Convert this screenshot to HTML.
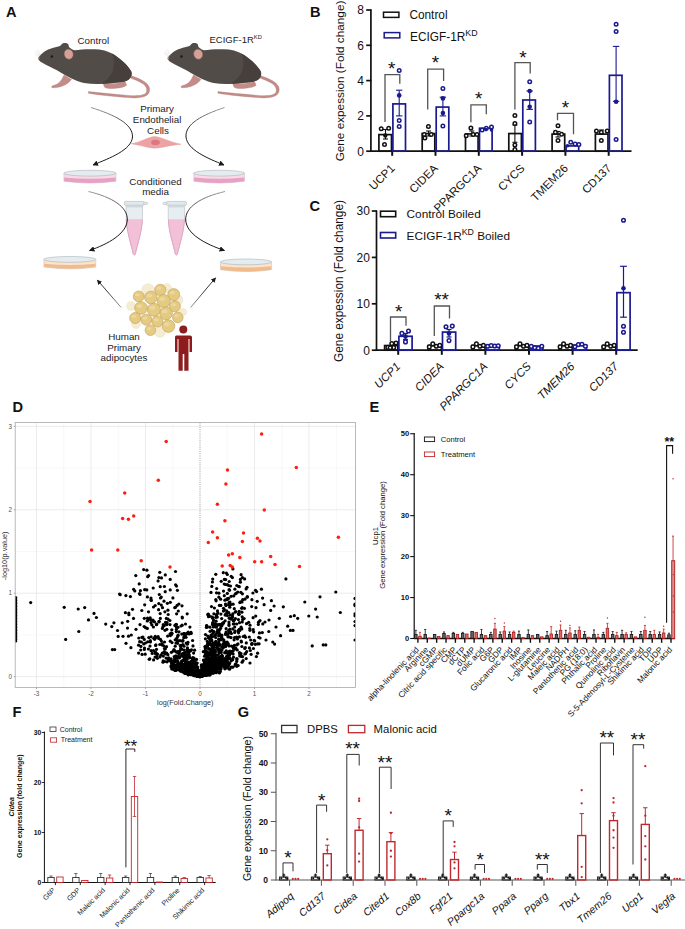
<!DOCTYPE html>
<html><head><meta charset="utf-8"><style>
html,body{margin:0;padding:0;background:#fff;}
body{width:685px;height:929px;overflow:hidden;}
svg{display:block;font-family:"Liberation Sans",sans-serif;}
</style></head><body>
<svg width="685" height="929" viewBox="0 0 685 929">
<rect width="685" height="929" fill="#fff"/>
<text x="6.00" y="16.90" font-size="14.6" text-anchor="start" font-weight="bold" fill="#111">A</text>
<defs>
<g id="mouse">
<path d="M88.4,93.2 C100,95.3 115,96.5 128,97.6 C140,98.6 147.5,97 149.3,92 C150.8,87.5 148,83.5 142.5,80.5 C139,78.5 135,77 131,75.5 L130.5,78 C134.5,79.5 139,81.2 142.5,83.5 C146.5,86.2 147.3,89.2 146.5,92 C145.2,95.3 139,96.2 128,95.4 C115,94.3 101,93 88.4,91.6 Z" fill="#c38c88" stroke="#a97470" stroke-width="0.35"/>
<path d="M64,75 L71.5,79.5 C69.5,82 66.5,84.5 62.5,86 C58.5,87.5 54.5,88.2 51.7,87.4 C51,86.5 52.3,85.6 55,85 C58.5,84 61.5,81 64,75 Z" fill="#c38c88" stroke="#a97470" stroke-width="0.35"/>
<path d="M103,82.5 C110,84 118,84 125,81.2 L126.6,85.2 C124,87.4 118,88.4 111,88.5 C108,88.5 106,88.1 104.6,87.2 C104,86 103.5,84.5 103,82.5 Z" fill="#c38c88" stroke="#a97470" stroke-width="0.35"/>
<path d="M38.2,58.4 C39,56 43,52 48.2,49.6 C51,48.3 55,47.2 60,46 L61.5,44.5 C63,42.8 66.5,42.6 68.3,44.3 L69,47 C71,48.8 73,50 75,50.3 C80,49.5 90,48.8 99.3,49.6 C106,50.3 114,54 119.4,58.7 C124,62 128.5,66.5 131.3,71.5 C132.2,74 131.5,77.5 128.5,79.7 C126,81.2 123,81.8 120,82.3 C113,83 105,83.9 99.3,83.9 C94,84 89,83.8 84,83 C80,82.3 76,80.5 72,78.8 C68,77 62,73.5 57.4,70.6 C53,68 47,65.3 41.9,62.4 C40,61.3 38.5,60 38.2,58.4 Z" fill="#514c47"/>
<path d="M112,53.5 C119,57.5 127,64 131.3,71.5 C132.2,74 131.5,77.5 128.5,79.7 C126,81.2 123,81.8 120,82.3 C113,83 106,83.6 101,83.8 C107,80 112.5,75 113.5,68 C114.3,62 113.8,57.5 112,53.5 Z" fill="#463f3b"/>
<ellipse cx="68.7" cy="54.2" rx="4.5" ry="5.1" fill="#d4a097" stroke="#8a5f58" stroke-width="0.5" transform="rotate(-15 68.7 54.2)"/>
<circle cx="51.9" cy="56.4" r="1.25" fill="#1a1a1a"/>
<circle cx="38.7" cy="58.5" r="0.9" fill="#c48a85"/>
<path d="M39.5,56.5 L35.5,50.5 M40.3,56 L38,49.5 M39.2,57.5 L34.5,53" stroke="#c8c8c8" stroke-width="0.4"/>
</g>
<linearGradient id="tg" x1="0" y1="0" x2="0" y2="1"><stop offset="0" stop-color="#9a9a9a"/><stop offset="0.45" stop-color="#1a1a1a"/><stop offset="1" stop-color="#1a1a1a"/></linearGradient>
<linearGradient id="tgu" x1="0" y1="1" x2="0" y2="0"><stop offset="0" stop-color="#8a8a8a"/><stop offset="0.6" stop-color="#222"/><stop offset="1" stop-color="#1a1a1a"/></linearGradient>
<marker id="ah" viewBox="0 0 10 10" refX="9" refY="5" markerWidth="5.5" markerHeight="5.5" orient="auto-start-reverse"><path d="M0,0 L10,5 L0,10 Z" fill="#1a1a1a"/></marker>
</defs>
<use href="#mouse"/>
<use href="#mouse" transform="translate(129.5,0)"/>
<text x="93.30" y="43.50" font-size="9.8" text-anchor="middle" fill="#222">Control</text>
<text x="209.5" y="42.5" font-size="9.5" fill="#222">ECIGF-1R<tspan font-size="5.8" dy="-4">KD</tspan></text>
<text x="157.10" y="111.80" font-size="9.8" text-anchor="middle" fill="#222">Primary</text>
<text x="157.10" y="122.80" font-size="9.8" text-anchor="middle" fill="#222">Endothelial</text>
<text x="158.00" y="133.60" font-size="9.8" text-anchor="middle" fill="#222">Cells</text>
<path d="M131.2,143.8 C140,142.5 148,137 154.5,136.4 C161,137 168,141.5 181,144.2 C168,145.5 161,148 154.5,148.2 C148,148 140,145 131.2,143.8 Z" fill="#eda3a3" stroke="#e08c8c" stroke-width="0.4"/>
<ellipse cx="155.5" cy="142.4" rx="4.3" ry="2.6" fill="#dc7880"/>
<path d="M91,107.5 C115,115 133,124 132.5,137 C131.5,150 110,158 93,165" fill="none" stroke="url(#tg)" stroke-width="1.0" marker-end="url(#ah)"/>
<path d="M224.5,107.5 C202,115 185,124 186,137 C187.5,150 207,158 224,165" fill="none" stroke="url(#tg)" stroke-width="1.0" marker-end="url(#ah)"/>
<path d="M63.9,173.10000000000002 L63.9,181.20000000000002 Q89.95,185.0 116,181.20000000000002 L116,173.10000000000002 Z" fill="#f8dbe7" stroke="#b8c0c4" stroke-width="0.5"/>
<path d="M64.2,177.60000000000002 Q89.95,180.10000000000002 115.7,177.60000000000002 L115.7,181.20000000000002 Q89.95,184.8 64.2,181.20000000000002 Z" fill="#e8a0c3"/>
<ellipse cx="89.95" cy="173.20000000000002" rx="26.05" ry="2.9" fill="#e4ecf0" stroke="#a9b3b8" stroke-width="0.6"/>
<path d="M193.8,173.10000000000002 L193.8,181.20000000000002 Q219.15,185.0 244.5,181.20000000000002 L244.5,173.10000000000002 Z" fill="#f8dbe7" stroke="#b8c0c4" stroke-width="0.5"/>
<path d="M194.10000000000002,177.60000000000002 Q219.15,180.10000000000002 244.2,177.60000000000002 L244.2,181.20000000000002 Q219.15,184.8 194.10000000000002,181.20000000000002 Z" fill="#e8a0c3"/>
<ellipse cx="219.15" cy="173.20000000000002" rx="25.349999999999994" ry="2.9" fill="#e4ecf0" stroke="#a9b3b8" stroke-width="0.6"/>
<text x="155.50" y="184.60" font-size="9.8" text-anchor="middle" fill="#222">Conditioned</text>
<text x="155.50" y="195.20" font-size="9.8" text-anchor="middle" fill="#222">media</text>
<path d="M126.10000000000001,205 L126.10000000000001,218 C126.30000000000001,230 131.3,245 133.4,254.6 Q134.3,256.4 135.20000000000002,254.6 C137.3,245 142.3,230 142.5,218 L142.5,205 Z" fill="#e6eef1" stroke="#aab3b8" stroke-width="0.5"/>
<path d="M126.30000000000001,219.2 L142.3,219.2 C142.20000000000002,230 137.3,245 135.20000000000002,254.4 Q134.3,256 133.4,254.4 C131.3,245 126.4,230 126.30000000000001,219.2 Z" fill="#f2c0d7"/>
<path d="M126.30000000000001,219.5 C126.4,230 131.3,245 133.4,254.4" fill="none" stroke="#e59fc0" stroke-width="0.9"/>
<path d="M142.3,219.5 C142.20000000000002,230 137.3,245 135.20000000000002,254.4" fill="none" stroke="#e59fc0" stroke-width="0.9"/>
<rect x="124.4" y="201.4" width="19.8" height="3.8" rx="0.8" fill="#e2e9ec" stroke="#a4aeb3" stroke-width="0.5"/>
<rect x="143.8" y="202.2" width="4" height="2.2" rx="1" fill="#e2e9ec" stroke="#a4aeb3" stroke-width="0.4"/>
<rect x="126.50000000000001" y="205.3" width="15.6" height="2.2" fill="#cfd9dd"/>
<path d="M168.20000000000002,205 L168.20000000000002,218 C168.4,230 173.4,245 175.5,254.6 Q176.4,256.4 177.3,254.6 C179.4,245 184.4,230 184.6,218 L184.6,205 Z" fill="#e6eef1" stroke="#aab3b8" stroke-width="0.5"/>
<path d="M168.4,219.2 L184.4,219.2 C184.3,230 179.4,245 177.3,254.4 Q176.4,256 175.5,254.4 C173.4,245 168.5,230 168.4,219.2 Z" fill="#f2c0d7"/>
<path d="M168.4,219.5 C168.5,230 173.4,245 175.5,254.4" fill="none" stroke="#e59fc0" stroke-width="0.9"/>
<path d="M184.4,219.5 C184.3,230 179.4,245 177.3,254.4" fill="none" stroke="#e59fc0" stroke-width="0.9"/>
<rect x="166.5" y="201.4" width="19.8" height="3.8" rx="0.8" fill="#e2e9ec" stroke="#a4aeb3" stroke-width="0.5"/>
<rect x="162.9" y="202.2" width="4" height="2.2" rx="1" fill="#e2e9ec" stroke="#a4aeb3" stroke-width="0.4"/>
<rect x="168.6" y="205.3" width="15.6" height="2.2" fill="#cfd9dd"/>
<path d="M88.5,191.5 C112,197 128,207 127.3,220 C126.5,234 108,244 89.5,250.5" fill="none" stroke="url(#tg)" stroke-width="1.0" marker-end="url(#ah)"/>
<path d="M225,191.5 C201,197 185,207 185.7,220 C186.5,234 205,244 224.5,250.5" fill="none" stroke="url(#tg)" stroke-width="1.0" marker-end="url(#ah)"/>
<path d="M43.9,259.3 L43.9,267.0 Q69.85,270.8 95.8,267.0 L95.8,259.3 Z" fill="#fbe3cc" stroke="#b8c0c4" stroke-width="0.5"/>
<path d="M44.199999999999996,263.8 Q69.85,266.3 95.5,263.8 L95.5,267.0 Q69.85,270.59999999999997 44.199999999999996,267.0 Z" fill="#f0bc8d"/>
<ellipse cx="69.85" cy="259.4" rx="25.95" ry="2.9" fill="#e4ecf0" stroke="#a9b3b8" stroke-width="0.6"/>
<path d="M220.5,261.8 L220.5,269.7 Q246.05,273.5 271.6,269.7 L271.6,261.8 Z" fill="#fbe3cc" stroke="#b8c0c4" stroke-width="0.5"/>
<path d="M220.8,266.3 Q246.05,268.8 271.3,266.3 L271.3,269.7 Q246.05,273.29999999999995 220.8,269.7 Z" fill="#f0bc8d"/>
<ellipse cx="246.05" cy="261.9" rx="25.55000000000001" ry="2.9" fill="#e4ecf0" stroke="#a9b3b8" stroke-width="0.6"/>
<path d="M121.2,307.5 L97.3,280" fill="none" stroke="url(#tgu)" stroke-width="0.9" marker-end="url(#ah)"/>
<path d="M190.6,307.5 L215.6,277.8" fill="none" stroke="url(#tgu)" stroke-width="0.9" marker-end="url(#ah)"/>
<circle cx="148" cy="290" r="6.30" fill="#f5edd3" stroke="#eadcb5" stroke-width="0.4"/>
<circle cx="160" cy="332" r="5.40" fill="#f5edd3" stroke="#eadcb5" stroke-width="0.4"/>
<circle cx="178" cy="300" r="4.95" fill="#f5edd3" stroke="#eadcb5" stroke-width="0.4"/>
<circle cx="136" cy="324" r="4.50" fill="#f5edd3" stroke="#eadcb5" stroke-width="0.4"/>
<circle cx="131" cy="306" r="4.50" fill="#f5edd3" stroke="#eadcb5" stroke-width="0.4"/>
<circle cx="167" cy="288" r="4.50" fill="#f5edd3" stroke="#eadcb5" stroke-width="0.4"/>
<circle cx="183" cy="312" r="3.60" fill="#f5edd3" stroke="#eadcb5" stroke-width="0.4"/>
<circle cx="138.7" cy="296.4" r="5.42" fill="#e5ca82" stroke="#bf9f57" stroke-width="0.6"/>
<ellipse cx="137.34" cy="294.77" rx="2.44" ry="1.63" fill="#edd9a2" opacity="0.8"/>
<circle cx="150.9" cy="297.5" r="6.33" fill="#e5ca82" stroke="#bf9f57" stroke-width="0.6"/>
<ellipse cx="149.32" cy="295.60" rx="2.85" ry="1.90" fill="#edd9a2" opacity="0.8"/>
<circle cx="160.3" cy="289.9" r="5.65" fill="#e5ca82" stroke="#bf9f57" stroke-width="0.6"/>
<ellipse cx="158.89" cy="288.20" rx="2.54" ry="1.69" fill="#edd9a2" opacity="0.8"/>
<circle cx="173.7" cy="294.6" r="5.99" fill="#e5ca82" stroke="#bf9f57" stroke-width="0.6"/>
<ellipse cx="172.20" cy="292.80" rx="2.70" ry="1.80" fill="#edd9a2" opacity="0.8"/>
<circle cx="163.8" cy="301" r="6.55" fill="#e5ca82" stroke="#bf9f57" stroke-width="0.6"/>
<ellipse cx="162.16" cy="299.03" rx="2.95" ry="1.97" fill="#edd9a2" opacity="0.8"/>
<circle cx="141" cy="308" r="6.33" fill="#e5ca82" stroke="#bf9f57" stroke-width="0.6"/>
<ellipse cx="139.42" cy="306.10" rx="2.85" ry="1.90" fill="#edd9a2" opacity="0.8"/>
<circle cx="153.9" cy="309.8" r="6.55" fill="#e5ca82" stroke="#bf9f57" stroke-width="0.6"/>
<ellipse cx="152.26" cy="307.83" rx="2.95" ry="1.97" fill="#edd9a2" opacity="0.8"/>
<circle cx="166.1" cy="313.3" r="6.33" fill="#e5ca82" stroke="#bf9f57" stroke-width="0.6"/>
<ellipse cx="164.52" cy="311.40" rx="2.85" ry="1.90" fill="#edd9a2" opacity="0.8"/>
<circle cx="174.9" cy="306.3" r="5.54" fill="#e5ca82" stroke="#bf9f57" stroke-width="0.6"/>
<ellipse cx="173.52" cy="304.64" rx="2.49" ry="1.66" fill="#edd9a2" opacity="0.8"/>
<circle cx="135.2" cy="318" r="5.54" fill="#e5ca82" stroke="#bf9f57" stroke-width="0.6"/>
<ellipse cx="133.82" cy="316.34" rx="2.49" ry="1.66" fill="#edd9a2" opacity="0.8"/>
<circle cx="146.3" cy="319.7" r="5.54" fill="#e5ca82" stroke="#bf9f57" stroke-width="0.6"/>
<ellipse cx="144.92" cy="318.04" rx="2.49" ry="1.66" fill="#edd9a2" opacity="0.8"/>
<circle cx="157.4" cy="321.5" r="5.54" fill="#e5ca82" stroke="#bf9f57" stroke-width="0.6"/>
<ellipse cx="156.02" cy="319.84" rx="2.49" ry="1.66" fill="#edd9a2" opacity="0.8"/>
<circle cx="168.5" cy="326.1" r="6.33" fill="#e5ca82" stroke="#bf9f57" stroke-width="0.6"/>
<ellipse cx="166.92" cy="324.20" rx="2.85" ry="1.90" fill="#edd9a2" opacity="0.8"/>
<circle cx="177.8" cy="317.4" r="5.31" fill="#e5ca82" stroke="#bf9f57" stroke-width="0.6"/>
<ellipse cx="176.47" cy="315.81" rx="2.39" ry="1.59" fill="#edd9a2" opacity="0.8"/>
<circle cx="150.4" cy="330.2" r="5.31" fill="#e5ca82" stroke="#bf9f57" stroke-width="0.6"/>
<ellipse cx="149.07" cy="328.61" rx="2.39" ry="1.59" fill="#edd9a2" opacity="0.8"/>
<g fill="#8e1c1c"><circle cx="183.3" cy="329.6" r="4"/><path d="M176.5,335.5 L190,335.5 C191.3,335.5 192,336.3 192,337.6 L192,352 L189.5,352 L189.5,339 L188.5,339 L188.5,370.8 L184.3,370.8 L184.3,354 L182.7,354 L182.7,370.8 L178.5,370.8 L178.5,339 L177.5,339 L177.5,352 L175,352 L175,337.6 C175,336.3 175.5,335.5 176.5,335.5 Z"/></g>
<text x="124.00" y="339.50" font-size="9.8" text-anchor="middle" fill="#222">Human</text>
<text x="124.00" y="350.50" font-size="9.8" text-anchor="middle" fill="#222">Primary</text>
<text x="124.00" y="361.30" font-size="9.8" text-anchor="middle" fill="#222">adipocytes</text>
<text x="309.90" y="16.90" font-size="14.6" text-anchor="start" font-weight="bold" fill="#111">B</text>
<line x1="370.90" y1="151.90" x2="370.90" y2="9.50" stroke="#111" stroke-width="1.7"/>
<line x1="366.20" y1="151.20" x2="371.40" y2="151.20" stroke="#111" stroke-width="1.7"/>
<text x="364.00" y="155.52" font-size="12.0" text-anchor="end" fill="#111">0</text>
<line x1="366.20" y1="115.90" x2="371.40" y2="115.90" stroke="#111" stroke-width="1.7"/>
<text x="364.00" y="120.22" font-size="12.0" text-anchor="end" fill="#111">2</text>
<line x1="366.20" y1="80.60" x2="371.40" y2="80.60" stroke="#111" stroke-width="1.7"/>
<text x="364.00" y="84.92" font-size="12.0" text-anchor="end" fill="#111">4</text>
<line x1="366.20" y1="45.30" x2="371.40" y2="45.30" stroke="#111" stroke-width="1.7"/>
<text x="364.00" y="49.62" font-size="12.0" text-anchor="end" fill="#111">6</text>
<line x1="366.20" y1="10.00" x2="371.40" y2="10.00" stroke="#111" stroke-width="1.7"/>
<text x="364.00" y="14.32" font-size="12.0" text-anchor="end" fill="#111">8</text>
<line x1="370.10" y1="151.20" x2="631.50" y2="151.20" stroke="#111" stroke-width="1.8"/>
<line x1="392.20" y1="151.20" x2="392.20" y2="155.80" stroke="#111" stroke-width="2.0"/>
<rect x="378.90" y="134.61" width="12.60" height="16.59" fill="none" stroke="#111" stroke-width="1.7"/>
<rect x="392.90" y="103.90" width="12.60" height="47.30" fill="none" stroke="#1a1a8f" stroke-width="1.7"/>
<text x="395.50" y="169.00" font-size="11.5" text-anchor="end" fill="#111" transform="rotate(-45 395.50 169.00)">UCP1</text>
<line x1="435.50" y1="151.20" x2="435.50" y2="155.80" stroke="#111" stroke-width="2.0"/>
<rect x="422.20" y="133.55" width="12.60" height="17.65" fill="none" stroke="#111" stroke-width="1.7"/>
<rect x="436.20" y="107.07" width="12.60" height="44.12" fill="none" stroke="#1a1a8f" stroke-width="1.7"/>
<text x="438.80" y="169.00" font-size="11.5" text-anchor="end" fill="#111" transform="rotate(-45 438.80 169.00)">CIDEA</text>
<line x1="478.80" y1="151.20" x2="478.80" y2="155.80" stroke="#111" stroke-width="2.0"/>
<rect x="465.50" y="133.90" width="12.60" height="17.30" fill="none" stroke="#111" stroke-width="1.7"/>
<rect x="479.50" y="128.25" width="12.60" height="22.95" fill="none" stroke="#1a1a8f" stroke-width="1.7"/>
<text x="482.10" y="169.00" font-size="11.5" text-anchor="end" fill="#111" transform="rotate(-45 482.10 169.00)">PPARGC1A</text>
<line x1="522.10" y1="151.20" x2="522.10" y2="155.80" stroke="#111" stroke-width="2.0"/>
<rect x="508.80" y="133.55" width="12.60" height="17.65" fill="none" stroke="#111" stroke-width="1.7"/>
<rect x="522.80" y="100.01" width="12.60" height="51.18" fill="none" stroke="#1a1a8f" stroke-width="1.7"/>
<text x="525.40" y="169.00" font-size="11.5" text-anchor="end" fill="#111" transform="rotate(-45 525.40 169.00)">CYCS</text>
<line x1="565.40" y1="151.20" x2="565.40" y2="155.80" stroke="#111" stroke-width="2.0"/>
<rect x="552.10" y="134.08" width="12.60" height="17.12" fill="none" stroke="#111" stroke-width="1.7"/>
<rect x="566.10" y="145.91" width="12.60" height="5.29" fill="none" stroke="#1a1a8f" stroke-width="1.7"/>
<text x="568.70" y="169.00" font-size="11.5" text-anchor="end" fill="#111" transform="rotate(-45 568.70 169.00)">TMEM26</text>
<line x1="608.70" y1="151.20" x2="608.70" y2="155.80" stroke="#111" stroke-width="2.0"/>
<rect x="595.40" y="134.08" width="12.60" height="17.12" fill="none" stroke="#111" stroke-width="1.7"/>
<rect x="609.40" y="75.30" width="12.60" height="75.89" fill="none" stroke="#1a1a8f" stroke-width="1.7"/>
<text x="612.00" y="169.00" font-size="11.5" text-anchor="end" fill="#111" transform="rotate(-45 612.00 169.00)">CD137</text>
<line x1="385.50" y1="139.00" x2="385.50" y2="129.50" stroke="#111" stroke-width="1.1"/>
<line x1="383.00" y1="129.50" x2="388.00" y2="129.50" stroke="#111" stroke-width="1.1"/>
<line x1="383.00" y1="139.00" x2="388.00" y2="139.00" stroke="#111" stroke-width="1.1"/>
<circle cx="381.20" cy="128.80" r="1.75" fill="white" stroke="#111" stroke-width="1.5"/>
<circle cx="388.70" cy="128.30" r="1.75" fill="white" stroke="#111" stroke-width="1.5"/>
<circle cx="384.50" cy="144.60" r="1.75" fill="white" stroke="#111" stroke-width="1.5"/>
<circle cx="385.30" cy="135.50" r="2.2" fill="#111" stroke="none" stroke-width="1"/>
<line x1="399.20" y1="115.90" x2="399.20" y2="90.20" stroke="#1a1a8f" stroke-width="1.1"/>
<line x1="396.00" y1="90.20" x2="402.40" y2="90.20" stroke="#1a1a8f" stroke-width="1.1"/>
<line x1="396.00" y1="115.90" x2="402.40" y2="115.90" stroke="#1a1a8f" stroke-width="1.1"/>
<circle cx="399.20" cy="70.40" r="1.75" fill="white" stroke="#1a1a8f" stroke-width="1.5"/>
<circle cx="399.20" cy="120.60" r="1.75" fill="white" stroke="#1a1a8f" stroke-width="1.5"/>
<circle cx="399.20" cy="126.40" r="1.75" fill="white" stroke="#1a1a8f" stroke-width="1.5"/>
<circle cx="399.20" cy="95.40" r="2.3" fill="#1a1a8f" stroke="none" stroke-width="1"/>
<line x1="428.60" y1="136.00" x2="428.60" y2="131.00" stroke="#111" stroke-width="1.1"/>
<line x1="426.10" y1="131.00" x2="431.10" y2="131.00" stroke="#111" stroke-width="1.1"/>
<line x1="426.10" y1="136.00" x2="431.10" y2="136.00" stroke="#111" stroke-width="1.1"/>
<circle cx="428.40" cy="126.40" r="1.75" fill="white" stroke="#111" stroke-width="1.5"/>
<circle cx="424.20" cy="134.60" r="1.75" fill="white" stroke="#111" stroke-width="1.5"/>
<circle cx="431.20" cy="134.60" r="1.75" fill="white" stroke="#111" stroke-width="1.5"/>
<circle cx="424.90" cy="138.10" r="1.75" fill="white" stroke="#111" stroke-width="1.5"/>
<line x1="442.90" y1="115.90" x2="442.90" y2="97.20" stroke="#1a1a8f" stroke-width="1.1"/>
<line x1="439.70" y1="97.20" x2="446.10" y2="97.20" stroke="#1a1a8f" stroke-width="1.1"/>
<line x1="439.70" y1="115.90" x2="446.10" y2="115.90" stroke="#1a1a8f" stroke-width="1.1"/>
<circle cx="442.90" cy="88.40" r="1.75" fill="white" stroke="#1a1a8f" stroke-width="1.5"/>
<circle cx="442.90" cy="126.00" r="1.75" fill="white" stroke="#1a1a8f" stroke-width="1.5"/>
<circle cx="442.90" cy="98.40" r="2.3" fill="#1a1a8f" stroke="none" stroke-width="1"/>
<circle cx="442.90" cy="113.10" r="2.3" fill="#1a1a8f" stroke="none" stroke-width="1"/>
<line x1="471.80" y1="136.00" x2="471.80" y2="131.00" stroke="#111" stroke-width="1.1"/>
<line x1="469.30" y1="131.00" x2="474.30" y2="131.00" stroke="#111" stroke-width="1.1"/>
<line x1="469.30" y1="136.00" x2="474.30" y2="136.00" stroke="#111" stroke-width="1.1"/>
<circle cx="470.90" cy="128.00" r="1.75" fill="white" stroke="#111" stroke-width="1.5"/>
<circle cx="466.20" cy="135.80" r="1.75" fill="white" stroke="#111" stroke-width="1.5"/>
<circle cx="473.20" cy="134.60" r="1.75" fill="white" stroke="#111" stroke-width="1.5"/>
<circle cx="477.00" cy="134.60" r="1.75" fill="white" stroke="#111" stroke-width="1.5"/>
<circle cx="482.10" cy="129.90" r="1.75" fill="white" stroke="#1a1a8f" stroke-width="1.5"/>
<circle cx="486.30" cy="128.30" r="1.75" fill="white" stroke="#1a1a8f" stroke-width="1.5"/>
<circle cx="491.50" cy="126.90" r="1.75" fill="white" stroke="#1a1a8f" stroke-width="1.5"/>
<circle cx="486.00" cy="129.60" r="1.8" fill="#1a1a8f" stroke="none" stroke-width="1"/>
<circle cx="491.50" cy="129.90" r="1.8" fill="#1a1a8f" stroke="none" stroke-width="1"/>
<line x1="514.90" y1="142.30" x2="514.90" y2="125.00" stroke="#111" stroke-width="1.1"/>
<line x1="512.40" y1="125.00" x2="517.40" y2="125.00" stroke="#111" stroke-width="1.1"/>
<line x1="512.40" y1="142.30" x2="517.40" y2="142.30" stroke="#111" stroke-width="1.1"/>
<circle cx="514.90" cy="115.60" r="1.75" fill="white" stroke="#111" stroke-width="1.5"/>
<circle cx="514.90" cy="123.40" r="1.75" fill="white" stroke="#111" stroke-width="1.5"/>
<circle cx="514.90" cy="145.00" r="1.75" fill="white" stroke="#111" stroke-width="1.5"/>
<circle cx="514.90" cy="149.50" r="1.75" fill="white" stroke="#111" stroke-width="1.5"/>
<line x1="529.70" y1="109.40" x2="529.70" y2="91.00" stroke="#1a1a8f" stroke-width="1.1"/>
<line x1="526.50" y1="91.00" x2="532.90" y2="91.00" stroke="#1a1a8f" stroke-width="1.1"/>
<line x1="526.50" y1="109.40" x2="532.90" y2="109.40" stroke="#1a1a8f" stroke-width="1.1"/>
<circle cx="529.70" cy="81.80" r="1.75" fill="white" stroke="#1a1a8f" stroke-width="1.5"/>
<circle cx="529.70" cy="122.00" r="1.75" fill="white" stroke="#1a1a8f" stroke-width="1.5"/>
<circle cx="529.70" cy="91.00" r="2.3" fill="#1a1a8f" stroke="none" stroke-width="1"/>
<circle cx="529.70" cy="106.70" r="2.3" fill="#1a1a8f" stroke="none" stroke-width="1"/>
<line x1="558.00" y1="137.00" x2="558.00" y2="131.50" stroke="#111" stroke-width="1.1"/>
<line x1="555.50" y1="131.50" x2="560.50" y2="131.50" stroke="#111" stroke-width="1.1"/>
<line x1="555.50" y1="137.00" x2="560.50" y2="137.00" stroke="#111" stroke-width="1.1"/>
<circle cx="558.00" cy="125.80" r="1.75" fill="white" stroke="#111" stroke-width="1.5"/>
<circle cx="555.40" cy="132.30" r="1.75" fill="white" stroke="#111" stroke-width="1.5"/>
<circle cx="561.60" cy="134.20" r="1.75" fill="white" stroke="#111" stroke-width="1.5"/>
<circle cx="558.00" cy="140.40" r="1.75" fill="white" stroke="#111" stroke-width="1.5"/>
<circle cx="570.80" cy="142.30" r="1.75" fill="white" stroke="#1a1a8f" stroke-width="1.5"/>
<circle cx="575.10" cy="143.90" r="1.75" fill="white" stroke="#1a1a8f" stroke-width="1.5"/>
<circle cx="578.90" cy="144.50" r="1.75" fill="white" stroke="#1a1a8f" stroke-width="1.5"/>
<circle cx="567.50" cy="145.80" r="1.8" fill="#1a1a8f" stroke="none" stroke-width="1"/>
<line x1="601.50" y1="134.00" x2="601.50" y2="130.00" stroke="#111" stroke-width="1.1"/>
<line x1="599.00" y1="130.00" x2="604.00" y2="130.00" stroke="#111" stroke-width="1.1"/>
<line x1="599.00" y1="134.00" x2="604.00" y2="134.00" stroke="#111" stroke-width="1.1"/>
<circle cx="596.40" cy="131.00" r="1.75" fill="white" stroke="#111" stroke-width="1.5"/>
<circle cx="601.30" cy="132.30" r="1.75" fill="white" stroke="#111" stroke-width="1.5"/>
<circle cx="607.20" cy="131.00" r="1.75" fill="white" stroke="#111" stroke-width="1.5"/>
<circle cx="601.30" cy="140.40" r="1.75" fill="white" stroke="#111" stroke-width="1.5"/>
<line x1="616.10" y1="101.30" x2="616.10" y2="46.40" stroke="#1a1a8f" stroke-width="1.1"/>
<line x1="612.90" y1="46.40" x2="619.30" y2="46.40" stroke="#1a1a8f" stroke-width="1.1"/>
<line x1="612.90" y1="101.30" x2="619.30" y2="101.30" stroke="#1a1a8f" stroke-width="1.1"/>
<circle cx="616.10" cy="24.30" r="1.75" fill="white" stroke="#1a1a8f" stroke-width="1.5"/>
<circle cx="616.10" cy="31.60" r="1.75" fill="white" stroke="#1a1a8f" stroke-width="1.5"/>
<circle cx="616.10" cy="139.60" r="1.75" fill="white" stroke="#1a1a8f" stroke-width="1.5"/>
<circle cx="616.10" cy="101.80" r="2.3" fill="#1a1a8f" stroke="none" stroke-width="1"/>
<polyline points="385.00,122.00 385.00,74.60 399.80,74.60 399.80,83.80" fill="none" stroke="#555" stroke-width="1.3"/>
<polyline points="427.70,109.60 427.70,69.20 443.60,69.20 443.60,80.90" fill="none" stroke="#555" stroke-width="1.3"/>
<polyline points="470.90,122.20 470.90,104.90 486.30,104.90 486.30,114.30" fill="none" stroke="#555" stroke-width="1.3"/>
<polyline points="514.90,109.40 514.90,62.70 530.20,62.70 530.20,73.50" fill="none" stroke="#555" stroke-width="1.3"/>
<polyline points="557.50,120.20 557.50,113.40 573.50,113.40 573.50,134.20" fill="none" stroke="#555" stroke-width="1.3"/>
<text x="391.60" y="74.78" font-size="19" text-anchor="middle" fill="#111">*</text>
<text x="435.40" y="69.39" font-size="19" text-anchor="middle" fill="#111">*</text>
<text x="478.60" y="105.19" font-size="19" text-anchor="middle" fill="#111">*</text>
<text x="523.00" y="63.78" font-size="19" text-anchor="middle" fill="#111">*</text>
<text x="565.40" y="113.78" font-size="19" text-anchor="middle" fill="#111">*</text>
<rect x="383.50" y="12.20" width="15.40" height="5.20" fill="none" stroke="#111" stroke-width="1.5"/>
<text x="409.40" y="18.50" font-size="11.85" text-anchor="start" fill="#111">Control</text>
<rect x="384.20" y="32.60" width="15.60" height="5.30" fill="none" stroke="#1a1a8f" stroke-width="1.5"/>
<text x="410" y="41" font-size="11.85" fill="#111">ECIGF-1R<tspan font-size="8.8" dy="-5">KD</tspan></text>
<text x="343.70" y="81.00" font-size="11.75" text-anchor="middle" fill="#111" transform="rotate(-90 343.70 81.00)">Gene expession (Fold change)</text>
<text x="309.60" y="210.70" font-size="14.6" text-anchor="start" font-weight="bold" fill="#111">C</text>
<line x1="376.50" y1="350.90" x2="376.50" y2="210.50" stroke="#111" stroke-width="1.7"/>
<line x1="371.80" y1="350.20" x2="377.00" y2="350.20" stroke="#111" stroke-width="1.7"/>
<text x="369.90" y="354.52" font-size="12.0" text-anchor="end" fill="#111">0</text>
<line x1="371.80" y1="303.80" x2="377.00" y2="303.80" stroke="#111" stroke-width="1.7"/>
<text x="369.90" y="308.12" font-size="12.0" text-anchor="end" fill="#111">10</text>
<line x1="371.80" y1="257.40" x2="377.00" y2="257.40" stroke="#111" stroke-width="1.7"/>
<text x="369.90" y="261.72" font-size="12.0" text-anchor="end" fill="#111">20</text>
<line x1="371.80" y1="211.00" x2="377.00" y2="211.00" stroke="#111" stroke-width="1.7"/>
<text x="369.90" y="215.32" font-size="12.0" text-anchor="end" fill="#111">30</text>
<line x1="375.70" y1="350.20" x2="637.70" y2="350.20" stroke="#111" stroke-width="1.8"/>
<line x1="398.20" y1="350.20" x2="398.20" y2="354.80" stroke="#111" stroke-width="2.0"/>
<rect x="384.60" y="345.56" width="13.20" height="4.64" fill="none" stroke="#111" stroke-width="1.7"/>
<rect x="398.90" y="336.28" width="13.20" height="13.92" fill="none" stroke="#1a1a8f" stroke-width="1.7"/>
<text x="401.00" y="367.10" font-size="11.6" text-anchor="end" font-style="italic" fill="#111" transform="rotate(-45 401.00 367.10)">UCP1</text>
<line x1="441.80" y1="350.20" x2="441.80" y2="354.80" stroke="#111" stroke-width="2.0"/>
<rect x="428.20" y="345.56" width="13.20" height="4.64" fill="none" stroke="#111" stroke-width="1.7"/>
<rect x="442.50" y="332.10" width="13.20" height="18.10" fill="none" stroke="#1a1a8f" stroke-width="1.7"/>
<text x="444.60" y="367.10" font-size="11.6" text-anchor="end" font-style="italic" fill="#111" transform="rotate(-45 444.60 367.10)">CIDEA</text>
<line x1="485.40" y1="350.20" x2="485.40" y2="354.80" stroke="#111" stroke-width="2.0"/>
<rect x="471.80" y="345.56" width="13.20" height="4.64" fill="none" stroke="#111" stroke-width="1.7"/>
<rect x="486.10" y="345.56" width="13.20" height="4.64" fill="none" stroke="#1a1a8f" stroke-width="1.7"/>
<text x="488.20" y="367.10" font-size="11.6" text-anchor="end" font-style="italic" fill="#111" transform="rotate(-45 488.20 367.10)">PPARGC1A</text>
<line x1="529.00" y1="350.20" x2="529.00" y2="354.80" stroke="#111" stroke-width="2.0"/>
<rect x="515.40" y="345.56" width="13.20" height="4.64" fill="none" stroke="#111" stroke-width="1.7"/>
<rect x="529.70" y="346.02" width="13.20" height="4.18" fill="none" stroke="#1a1a8f" stroke-width="1.7"/>
<text x="531.80" y="367.10" font-size="11.6" text-anchor="end" font-style="italic" fill="#111" transform="rotate(-45 531.80 367.10)">CYCS</text>
<line x1="572.60" y1="350.20" x2="572.60" y2="354.80" stroke="#111" stroke-width="2.0"/>
<rect x="559.00" y="345.56" width="13.20" height="4.64" fill="none" stroke="#111" stroke-width="1.7"/>
<rect x="573.30" y="345.10" width="13.20" height="5.10" fill="none" stroke="#1a1a8f" stroke-width="1.7"/>
<text x="575.40" y="367.10" font-size="11.6" text-anchor="end" font-style="italic" fill="#111" transform="rotate(-45 575.40 367.10)">TMEM26</text>
<line x1="616.20" y1="350.20" x2="616.20" y2="354.80" stroke="#111" stroke-width="2.0"/>
<rect x="602.60" y="345.56" width="13.20" height="4.64" fill="none" stroke="#111" stroke-width="1.7"/>
<rect x="616.90" y="292.66" width="13.20" height="57.54" fill="none" stroke="#1a1a8f" stroke-width="1.7"/>
<text x="619.00" y="367.10" font-size="11.6" text-anchor="end" font-style="italic" fill="#111" transform="rotate(-45 619.00 367.10)">CD137</text>
<circle cx="387.90" cy="347.40" r="1.8" fill="white" stroke="#111" stroke-width="1.5"/>
<circle cx="391.80" cy="343.60" r="1.8" fill="white" stroke="#111" stroke-width="1.5"/>
<circle cx="396.00" cy="343.00" r="1.8" fill="white" stroke="#111" stroke-width="1.5"/>
<circle cx="393.70" cy="347.60" r="1.8" fill="white" stroke="#111" stroke-width="1.5"/>
<circle cx="390.20" cy="347.80" r="1.8" fill="white" stroke="#111" stroke-width="1.5"/>
<circle cx="429.30" cy="346.90" r="1.8" fill="white" stroke="#111" stroke-width="1.5"/>
<circle cx="432.80" cy="343.90" r="1.8" fill="white" stroke="#111" stroke-width="1.5"/>
<circle cx="436.30" cy="346.20" r="1.8" fill="white" stroke="#111" stroke-width="1.5"/>
<circle cx="439.80" cy="345.40" r="1.8" fill="white" stroke="#111" stroke-width="1.5"/>
<circle cx="472.90" cy="346.90" r="1.8" fill="white" stroke="#111" stroke-width="1.5"/>
<circle cx="476.40" cy="343.90" r="1.8" fill="white" stroke="#111" stroke-width="1.5"/>
<circle cx="479.90" cy="346.20" r="1.8" fill="white" stroke="#111" stroke-width="1.5"/>
<circle cx="483.40" cy="345.40" r="1.8" fill="white" stroke="#111" stroke-width="1.5"/>
<circle cx="516.50" cy="346.90" r="1.8" fill="white" stroke="#111" stroke-width="1.5"/>
<circle cx="520.00" cy="343.90" r="1.8" fill="white" stroke="#111" stroke-width="1.5"/>
<circle cx="523.50" cy="346.20" r="1.8" fill="white" stroke="#111" stroke-width="1.5"/>
<circle cx="527.00" cy="345.40" r="1.8" fill="white" stroke="#111" stroke-width="1.5"/>
<circle cx="560.10" cy="346.90" r="1.8" fill="white" stroke="#111" stroke-width="1.5"/>
<circle cx="563.60" cy="343.90" r="1.8" fill="white" stroke="#111" stroke-width="1.5"/>
<circle cx="567.10" cy="346.20" r="1.8" fill="white" stroke="#111" stroke-width="1.5"/>
<circle cx="570.60" cy="345.40" r="1.8" fill="white" stroke="#111" stroke-width="1.5"/>
<circle cx="603.70" cy="346.90" r="1.8" fill="white" stroke="#111" stroke-width="1.5"/>
<circle cx="607.20" cy="343.90" r="1.8" fill="white" stroke="#111" stroke-width="1.5"/>
<circle cx="610.70" cy="346.20" r="1.8" fill="white" stroke="#111" stroke-width="1.5"/>
<circle cx="614.20" cy="345.40" r="1.8" fill="white" stroke="#111" stroke-width="1.5"/>
<circle cx="401.90" cy="333.40" r="1.8" fill="white" stroke="#1a1a8f" stroke-width="1.5"/>
<circle cx="408.50" cy="331.00" r="1.8" fill="white" stroke="#1a1a8f" stroke-width="1.5"/>
<circle cx="405.50" cy="341.90" r="1.8" fill="white" stroke="#1a1a8f" stroke-width="1.5"/>
<circle cx="405.50" cy="336.60" r="2.3" fill="#1a1a8f" stroke="none" stroke-width="1"/>
<line x1="405.50" y1="333.50" x2="405.50" y2="339.50" stroke="#1a1a8f" stroke-width="1.2"/>
<line x1="403.00" y1="333.50" x2="408.00" y2="333.50" stroke="#1a1a8f" stroke-width="1.2"/>
<line x1="403.00" y1="339.50" x2="408.00" y2="339.50" stroke="#1a1a8f" stroke-width="1.2"/>
<circle cx="446.00" cy="326.80" r="1.8" fill="white" stroke="#1a1a8f" stroke-width="1.5"/>
<circle cx="452.30" cy="326.10" r="1.8" fill="white" stroke="#1a1a8f" stroke-width="1.5"/>
<circle cx="449.00" cy="340.60" r="1.8" fill="white" stroke="#1a1a8f" stroke-width="1.5"/>
<circle cx="449.00" cy="333.40" r="2.3" fill="#1a1a8f" stroke="none" stroke-width="1"/>
<line x1="449.00" y1="329.50" x2="449.00" y2="337.00" stroke="#1a1a8f" stroke-width="1.2"/>
<line x1="446.50" y1="329.50" x2="451.50" y2="329.50" stroke="#1a1a8f" stroke-width="1.2"/>
<line x1="446.50" y1="337.00" x2="451.50" y2="337.00" stroke="#1a1a8f" stroke-width="1.2"/>
<circle cx="487.70" cy="346.20" r="1.8" fill="white" stroke="#1a1a8f" stroke-width="1.5"/>
<circle cx="491.20" cy="345.60" r="1.8" fill="white" stroke="#1a1a8f" stroke-width="1.5"/>
<circle cx="494.70" cy="346.00" r="1.8" fill="white" stroke="#1a1a8f" stroke-width="1.5"/>
<circle cx="498.20" cy="345.80" r="1.8" fill="white" stroke="#1a1a8f" stroke-width="1.5"/>
<circle cx="531.30" cy="346.40" r="1.8" fill="white" stroke="#1a1a8f" stroke-width="1.5"/>
<circle cx="534.80" cy="347.80" r="1.8" fill="white" stroke="#1a1a8f" stroke-width="1.5"/>
<circle cx="538.30" cy="348.20" r="1.8" fill="white" stroke="#1a1a8f" stroke-width="1.5"/>
<circle cx="541.80" cy="346.20" r="1.8" fill="white" stroke="#1a1a8f" stroke-width="1.5"/>
<circle cx="574.90" cy="346.80" r="1.8" fill="white" stroke="#1a1a8f" stroke-width="1.5"/>
<circle cx="578.40" cy="344.60" r="1.8" fill="white" stroke="#1a1a8f" stroke-width="1.5"/>
<circle cx="581.90" cy="344.20" r="1.8" fill="white" stroke="#1a1a8f" stroke-width="1.5"/>
<circle cx="585.40" cy="346.20" r="1.8" fill="white" stroke="#1a1a8f" stroke-width="1.5"/>
<circle cx="623.50" cy="220.20" r="1.8" fill="white" stroke="#1a1a8f" stroke-width="1.5"/>
<circle cx="623.50" cy="326.20" r="1.8" fill="white" stroke="#1a1a8f" stroke-width="1.5"/>
<circle cx="623.50" cy="332.20" r="1.8" fill="white" stroke="#1a1a8f" stroke-width="1.5"/>
<circle cx="623.50" cy="288.20" r="2.3" fill="#1a1a8f" stroke="none" stroke-width="1"/>
<line x1="623.50" y1="317.20" x2="623.50" y2="266.30" stroke="#1a1a8f" stroke-width="1.2"/>
<line x1="620.10" y1="266.30" x2="626.90" y2="266.30" stroke="#1a1a8f" stroke-width="1.2"/>
<line x1="620.10" y1="317.20" x2="626.90" y2="317.20" stroke="#1a1a8f" stroke-width="1.2"/>
<polyline points="390.50,341.80 390.50,317.00 406.00,317.00 406.00,325.80" fill="none" stroke="#555" stroke-width="1.3"/>
<polyline points="434.30,336.00 434.30,306.00 449.50,306.00 449.50,318.50" fill="none" stroke="#555" stroke-width="1.3"/>
<text x="398.70" y="317.99" font-size="19" text-anchor="middle" fill="#111">*</text>
<text x="441.60" y="306.39" font-size="19" text-anchor="middle" fill="#111">**</text>
<rect x="380.50" y="211.20" width="15.20" height="5.50" fill="none" stroke="#111" stroke-width="1.6"/>
<text x="406.60" y="218.30" font-size="11.8" text-anchor="start" fill="#111">Control Boiled</text>
<rect x="380.50" y="232.50" width="15.20" height="5.50" fill="none" stroke="#1a1a8f" stroke-width="1.6"/>
<text x="406.6" y="239.6" font-size="11.8" fill="#111">ECIGF-1R<tspan font-size="8.8" dy="-5">KD</tspan><tspan dy="5"> Boiled</tspan></text>
<text x="342.70" y="281.00" font-size="11.85" text-anchor="middle" fill="#111" transform="rotate(-90 342.70 281.00)">Gene expession (Fold change)</text>
<text x="12.40" y="411.70" font-size="14.6" text-anchor="start" font-weight="bold" fill="#111">D</text>
<rect x="15.2" y="422.5" width="340.3" height="265.1" fill="white"/>
<line x1="63.75" y1="422.50" x2="63.75" y2="687.60" stroke="#f0f0f0" stroke-width="0.5"/>
<line x1="118.25" y1="422.50" x2="118.25" y2="687.60" stroke="#f0f0f0" stroke-width="0.5"/>
<line x1="172.75" y1="422.50" x2="172.75" y2="687.60" stroke="#f0f0f0" stroke-width="0.5"/>
<line x1="227.25" y1="422.50" x2="227.25" y2="687.60" stroke="#f0f0f0" stroke-width="0.5"/>
<line x1="281.75" y1="422.50" x2="281.75" y2="687.60" stroke="#f0f0f0" stroke-width="0.5"/>
<line x1="336.25" y1="422.50" x2="336.25" y2="687.60" stroke="#f0f0f0" stroke-width="0.5"/>
<line x1="15.20" y1="634.90" x2="355.50" y2="634.90" stroke="#f0f0f0" stroke-width="0.5"/>
<line x1="15.20" y1="551.50" x2="355.50" y2="551.50" stroke="#f0f0f0" stroke-width="0.5"/>
<line x1="15.20" y1="468.10" x2="355.50" y2="468.10" stroke="#f0f0f0" stroke-width="0.5"/>
<line x1="36.50" y1="422.50" x2="36.50" y2="687.60" stroke="#e4e4e4" stroke-width="0.7"/>
<line x1="91.00" y1="422.50" x2="91.00" y2="687.60" stroke="#e4e4e4" stroke-width="0.7"/>
<line x1="145.50" y1="422.50" x2="145.50" y2="687.60" stroke="#e4e4e4" stroke-width="0.7"/>
<line x1="254.50" y1="422.50" x2="254.50" y2="687.60" stroke="#e4e4e4" stroke-width="0.7"/>
<line x1="309.00" y1="422.50" x2="309.00" y2="687.60" stroke="#e4e4e4" stroke-width="0.7"/>
<line x1="15.20" y1="676.60" x2="355.50" y2="676.60" stroke="#e4e4e4" stroke-width="0.7"/>
<line x1="15.20" y1="593.20" x2="355.50" y2="593.20" stroke="#e4e4e4" stroke-width="0.7"/>
<line x1="15.20" y1="509.80" x2="355.50" y2="509.80" stroke="#e4e4e4" stroke-width="0.7"/>
<line x1="15.20" y1="426.40" x2="355.50" y2="426.40" stroke="#e4e4e4" stroke-width="0.7"/>
<line x1="200.00" y1="422.50" x2="200.00" y2="687.60" stroke="#777" stroke-width="0.7" stroke-dasharray="1,1.2"/>
<clipPath id="dclip"><rect x="15.2" y="422.5" width="340.3" height="265.1"/></clipPath>
<g fill="#000" clip-path="url(#dclip)"><circle cx="241.8" cy="629.0" r="1.6"/><circle cx="204.2" cy="663.2" r="1.6"/><circle cx="219.8" cy="629.4" r="1.6"/><circle cx="179.0" cy="631.8" r="1.6"/><circle cx="200.6" cy="674.1" r="1.6"/><circle cx="155.8" cy="637.6" r="1.6"/><circle cx="212.8" cy="633.4" r="1.6"/><circle cx="177.8" cy="666.5" r="1.6"/><circle cx="150.7" cy="619.9" r="1.6"/><circle cx="217.5" cy="644.3" r="1.6"/><circle cx="218.6" cy="635.7" r="1.6"/><circle cx="202.0" cy="671.3" r="1.6"/><circle cx="153.4" cy="627.0" r="1.6"/><circle cx="180.4" cy="668.3" r="1.6"/><circle cx="209.5" cy="669.7" r="1.6"/><circle cx="156.1" cy="653.0" r="1.6"/><circle cx="197.5" cy="669.2" r="1.6"/><circle cx="208.2" cy="614.2" r="1.6"/><circle cx="200.1" cy="676.3" r="1.6"/><circle cx="238.4" cy="619.6" r="1.6"/><circle cx="212.5" cy="645.7" r="1.6"/><circle cx="212.0" cy="645.9" r="1.6"/><circle cx="212.8" cy="617.7" r="1.6"/><circle cx="197.9" cy="675.4" r="1.6"/><circle cx="203.5" cy="670.8" r="1.6"/><circle cx="189.6" cy="673.8" r="1.6"/><circle cx="191.0" cy="670.3" r="1.6"/><circle cx="217.4" cy="667.9" r="1.6"/><circle cx="229.6" cy="651.5" r="1.6"/><circle cx="227.8" cy="657.7" r="1.6"/><circle cx="215.7" cy="637.5" r="1.6"/><circle cx="210.1" cy="631.3" r="1.6"/><circle cx="200.7" cy="676.0" r="1.6"/><circle cx="212.1" cy="652.1" r="1.6"/><circle cx="236.8" cy="585.5" r="1.6"/><circle cx="206.3" cy="666.0" r="1.6"/><circle cx="202.9" cy="675.7" r="1.6"/><circle cx="201.0" cy="675.3" r="1.6"/><circle cx="205.5" cy="672.7" r="1.6"/><circle cx="141.9" cy="637.4" r="1.6"/><circle cx="219.1" cy="659.4" r="1.6"/><circle cx="203.9" cy="673.8" r="1.6"/><circle cx="236.5" cy="593.1" r="1.6"/><circle cx="225.7" cy="579.6" r="1.6"/><circle cx="238.7" cy="614.3" r="1.6"/><circle cx="201.4" cy="666.4" r="1.6"/><circle cx="202.4" cy="674.0" r="1.6"/><circle cx="232.8" cy="628.9" r="1.6"/><circle cx="206.6" cy="625.8" r="1.6"/><circle cx="175.8" cy="655.9" r="1.6"/><circle cx="194.8" cy="672.5" r="1.6"/><circle cx="236.8" cy="666.3" r="1.6"/><circle cx="196.1" cy="673.1" r="1.6"/><circle cx="186.1" cy="652.2" r="1.6"/><circle cx="175.2" cy="667.9" r="1.6"/><circle cx="199.1" cy="676.4" r="1.6"/><circle cx="186.2" cy="672.0" r="1.6"/><circle cx="206.9" cy="655.2" r="1.6"/><circle cx="204.5" cy="671.8" r="1.6"/><circle cx="178.2" cy="656.6" r="1.6"/><circle cx="164.5" cy="648.6" r="1.6"/><circle cx="200.7" cy="676.0" r="1.6"/><circle cx="202.3" cy="671.8" r="1.6"/><circle cx="175.4" cy="607.3" r="1.6"/><circle cx="188.1" cy="663.9" r="1.6"/><circle cx="208.8" cy="665.4" r="1.6"/><circle cx="212.3" cy="645.0" r="1.6"/><circle cx="225.8" cy="664.3" r="1.6"/><circle cx="146.9" cy="570.2" r="1.6"/><circle cx="212.8" cy="662.7" r="1.6"/><circle cx="232.3" cy="617.3" r="1.6"/><circle cx="233.3" cy="624.0" r="1.6"/><circle cx="223.7" cy="645.4" r="1.6"/><circle cx="214.7" cy="650.0" r="1.6"/><circle cx="203.5" cy="671.0" r="1.6"/><circle cx="130.9" cy="647.7" r="1.6"/><circle cx="182.0" cy="605.8" r="1.6"/><circle cx="242.1" cy="662.2" r="1.6"/><circle cx="204.9" cy="673.9" r="1.6"/><circle cx="227.8" cy="634.4" r="1.6"/><circle cx="225.8" cy="668.1" r="1.6"/><circle cx="221.2" cy="660.9" r="1.6"/><circle cx="203.1" cy="675.1" r="1.6"/><circle cx="227.7" cy="612.7" r="1.6"/><circle cx="195.4" cy="671.2" r="1.6"/><circle cx="198.6" cy="674.0" r="1.6"/><circle cx="152.8" cy="620.1" r="1.6"/><circle cx="198.9" cy="671.3" r="1.6"/><circle cx="200.6" cy="673.7" r="1.6"/><circle cx="202.7" cy="673.9" r="1.6"/><circle cx="199.3" cy="675.7" r="1.6"/><circle cx="192.9" cy="673.4" r="1.6"/><circle cx="201.8" cy="672.4" r="1.6"/><circle cx="203.4" cy="665.4" r="1.6"/><circle cx="217.5" cy="662.4" r="1.6"/><circle cx="151.3" cy="600.4" r="1.6"/><circle cx="212.7" cy="618.2" r="1.6"/><circle cx="182.1" cy="649.3" r="1.6"/><circle cx="239.3" cy="586.7" r="1.6"/><circle cx="183.3" cy="664.6" r="1.6"/><circle cx="175.5" cy="571.5" r="1.6"/><circle cx="190.8" cy="671.4" r="1.6"/><circle cx="229.8" cy="603.5" r="1.6"/><circle cx="215.9" cy="627.0" r="1.6"/><circle cx="217.0" cy="632.0" r="1.6"/><circle cx="197.6" cy="667.1" r="1.6"/><circle cx="193.0" cy="672.6" r="1.6"/><circle cx="242.2" cy="607.7" r="1.6"/><circle cx="190.9" cy="667.2" r="1.6"/><circle cx="200.6" cy="675.6" r="1.6"/><circle cx="182.4" cy="641.1" r="1.6"/><circle cx="215.2" cy="645.0" r="1.6"/><circle cx="177.8" cy="640.9" r="1.6"/><circle cx="210.6" cy="668.9" r="1.6"/><circle cx="199.6" cy="676.5" r="1.6"/><circle cx="211.0" cy="592.4" r="1.6"/><circle cx="205.4" cy="661.0" r="1.6"/><circle cx="225.1" cy="615.0" r="1.6"/><circle cx="200.6" cy="675.0" r="1.6"/><circle cx="184.3" cy="650.1" r="1.6"/><circle cx="213.1" cy="664.0" r="1.6"/><circle cx="204.9" cy="661.7" r="1.6"/><circle cx="128.9" cy="614.7" r="1.6"/><circle cx="176.4" cy="651.9" r="1.6"/><circle cx="178.1" cy="662.9" r="1.6"/><circle cx="204.0" cy="669.6" r="1.6"/><circle cx="199.2" cy="676.1" r="1.6"/><circle cx="176.3" cy="626.7" r="1.6"/><circle cx="202.0" cy="673.1" r="1.6"/><circle cx="197.2" cy="675.6" r="1.6"/><circle cx="236.7" cy="661.4" r="1.6"/><circle cx="196.8" cy="671.1" r="1.6"/><circle cx="174.4" cy="664.9" r="1.6"/><circle cx="206.7" cy="670.4" r="1.6"/><circle cx="196.9" cy="671.3" r="1.6"/><circle cx="227.5" cy="666.0" r="1.6"/><circle cx="167.1" cy="622.7" r="1.6"/><circle cx="223.7" cy="639.8" r="1.6"/><circle cx="209.2" cy="670.9" r="1.6"/><circle cx="221.0" cy="639.8" r="1.6"/><circle cx="188.3" cy="652.7" r="1.6"/><circle cx="203.1" cy="672.8" r="1.6"/><circle cx="185.4" cy="670.5" r="1.6"/><circle cx="219.5" cy="633.9" r="1.6"/><circle cx="174.9" cy="625.4" r="1.6"/><circle cx="190.8" cy="674.7" r="1.6"/><circle cx="151.8" cy="624.8" r="1.6"/><circle cx="186.4" cy="665.6" r="1.6"/><circle cx="235.1" cy="649.0" r="1.6"/><circle cx="182.2" cy="617.1" r="1.6"/><circle cx="175.2" cy="646.2" r="1.6"/><circle cx="221.5" cy="636.6" r="1.6"/><circle cx="175.7" cy="665.3" r="1.6"/><circle cx="203.5" cy="675.5" r="1.6"/><circle cx="193.5" cy="662.3" r="1.6"/><circle cx="194.6" cy="650.2" r="1.6"/><circle cx="192.4" cy="674.5" r="1.6"/><circle cx="122.2" cy="622.8" r="1.6"/><circle cx="212.8" cy="624.4" r="1.6"/><circle cx="187.6" cy="667.5" r="1.6"/><circle cx="209.0" cy="663.7" r="1.6"/><circle cx="205.8" cy="663.9" r="1.6"/><circle cx="171.4" cy="652.3" r="1.6"/><circle cx="260.0" cy="620.6" r="1.6"/><circle cx="153.2" cy="588.0" r="1.6"/><circle cx="196.5" cy="671.6" r="1.6"/><circle cx="227.0" cy="598.9" r="1.6"/><circle cx="194.6" cy="674.4" r="1.6"/><circle cx="217.0" cy="662.6" r="1.6"/><circle cx="167.4" cy="603.3" r="1.6"/><circle cx="197.7" cy="676.1" r="1.6"/><circle cx="208.8" cy="660.0" r="1.6"/><circle cx="230.6" cy="631.9" r="1.6"/><circle cx="220.0" cy="651.1" r="1.6"/><circle cx="208.0" cy="654.3" r="1.6"/><circle cx="210.2" cy="652.4" r="1.6"/><circle cx="205.3" cy="668.8" r="1.6"/><circle cx="219.0" cy="631.0" r="1.6"/><circle cx="199.8" cy="676.6" r="1.6"/><circle cx="202.2" cy="673.5" r="1.6"/><circle cx="191.8" cy="670.0" r="1.6"/><circle cx="216.7" cy="588.6" r="1.6"/><circle cx="144.1" cy="626.5" r="1.6"/><circle cx="232.8" cy="613.9" r="1.6"/><circle cx="200.0" cy="676.6" r="1.6"/><circle cx="168.1" cy="659.9" r="1.6"/><circle cx="211.6" cy="639.5" r="1.6"/><circle cx="241.2" cy="641.1" r="1.6"/><circle cx="260.1" cy="638.0" r="1.6"/><circle cx="161.3" cy="597.1" r="1.6"/><circle cx="145.5" cy="643.0" r="1.6"/><circle cx="190.3" cy="667.9" r="1.6"/><circle cx="153.5" cy="607.0" r="1.6"/><circle cx="197.3" cy="674.2" r="1.6"/><circle cx="209.3" cy="616.3" r="1.6"/><circle cx="221.5" cy="636.8" r="1.6"/><circle cx="186.6" cy="657.0" r="1.6"/><circle cx="163.0" cy="662.2" r="1.6"/><circle cx="226.9" cy="599.7" r="1.6"/><circle cx="205.1" cy="672.9" r="1.6"/><circle cx="189.4" cy="667.9" r="1.6"/><circle cx="187.4" cy="649.2" r="1.6"/><circle cx="200.4" cy="676.3" r="1.6"/><circle cx="195.7" cy="673.7" r="1.6"/><circle cx="195.9" cy="667.1" r="1.6"/><circle cx="176.3" cy="631.6" r="1.6"/><circle cx="228.5" cy="651.9" r="1.6"/><circle cx="200.2" cy="676.5" r="1.6"/><circle cx="240.4" cy="582.2" r="1.6"/><circle cx="209.0" cy="673.5" r="1.6"/><circle cx="207.4" cy="653.9" r="1.6"/><circle cx="226.4" cy="573.0" r="1.6"/><circle cx="192.9" cy="661.0" r="1.6"/><circle cx="175.2" cy="657.9" r="1.6"/><circle cx="205.1" cy="660.1" r="1.6"/><circle cx="212.3" cy="655.8" r="1.6"/><circle cx="208.9" cy="675.1" r="1.6"/><circle cx="201.1" cy="675.1" r="1.6"/><circle cx="146.8" cy="589.9" r="1.6"/><circle cx="160.5" cy="598.0" r="1.6"/><circle cx="221.5" cy="663.4" r="1.6"/><circle cx="204.3" cy="673.6" r="1.6"/><circle cx="221.7" cy="625.9" r="1.6"/><circle cx="207.3" cy="641.4" r="1.6"/><circle cx="241.9" cy="612.2" r="1.6"/><circle cx="156.4" cy="624.7" r="1.6"/><circle cx="175.0" cy="670.4" r="1.6"/><circle cx="216.4" cy="626.9" r="1.6"/><circle cx="120.2" cy="594.7" r="1.6"/><circle cx="233.7" cy="595.9" r="1.6"/><circle cx="140.4" cy="590.7" r="1.6"/><circle cx="210.9" cy="670.4" r="1.6"/><circle cx="203.6" cy="673.9" r="1.6"/><circle cx="195.2" cy="670.8" r="1.6"/><circle cx="175.4" cy="660.9" r="1.6"/><circle cx="218.8" cy="641.9" r="1.6"/><circle cx="196.6" cy="675.5" r="1.6"/><circle cx="240.4" cy="579.4" r="1.6"/><circle cx="195.7" cy="672.8" r="1.6"/><circle cx="175.2" cy="669.2" r="1.6"/><circle cx="227.4" cy="644.6" r="1.6"/><circle cx="182.1" cy="669.3" r="1.6"/><circle cx="221.2" cy="652.5" r="1.6"/><circle cx="235.2" cy="612.2" r="1.6"/><circle cx="262.8" cy="623.9" r="1.6"/><circle cx="162.4" cy="628.5" r="1.6"/><circle cx="127.5" cy="628.1" r="1.6"/><circle cx="214.0" cy="645.3" r="1.6"/><circle cx="236.7" cy="624.0" r="1.6"/><circle cx="196.7" cy="675.2" r="1.6"/><circle cx="239.4" cy="636.9" r="1.6"/><circle cx="205.3" cy="672.5" r="1.6"/><circle cx="162.0" cy="643.7" r="1.6"/><circle cx="202.1" cy="675.6" r="1.6"/><circle cx="185.5" cy="624.0" r="1.6"/><circle cx="203.6" cy="664.8" r="1.6"/><circle cx="183.0" cy="660.2" r="1.6"/><circle cx="205.8" cy="659.2" r="1.6"/><circle cx="182.0" cy="655.2" r="1.6"/><circle cx="203.8" cy="674.0" r="1.6"/><circle cx="209.9" cy="669.1" r="1.6"/><circle cx="205.5" cy="654.7" r="1.6"/><circle cx="229.2" cy="581.5" r="1.6"/><circle cx="177.6" cy="640.9" r="1.6"/><circle cx="210.7" cy="666.4" r="1.6"/><circle cx="249.3" cy="637.0" r="1.6"/><circle cx="190.4" cy="663.5" r="1.6"/><circle cx="217.8" cy="648.5" r="1.6"/><circle cx="208.5" cy="659.6" r="1.6"/><circle cx="199.5" cy="676.4" r="1.6"/><circle cx="207.7" cy="645.7" r="1.6"/><circle cx="187.8" cy="667.7" r="1.6"/><circle cx="235.4" cy="664.2" r="1.6"/><circle cx="255.3" cy="644.3" r="1.6"/><circle cx="201.9" cy="674.5" r="1.6"/><circle cx="197.2" cy="672.9" r="1.6"/><circle cx="181.7" cy="668.2" r="1.6"/><circle cx="214.9" cy="668.8" r="1.6"/><circle cx="235.4" cy="618.6" r="1.6"/><circle cx="196.4" cy="672.6" r="1.6"/><circle cx="203.1" cy="674.9" r="1.6"/><circle cx="247.0" cy="587.3" r="1.6"/><circle cx="241.0" cy="656.3" r="1.6"/><circle cx="202.0" cy="673.8" r="1.6"/><circle cx="176.0" cy="657.2" r="1.6"/><circle cx="201.6" cy="672.7" r="1.6"/><circle cx="203.2" cy="668.4" r="1.6"/><circle cx="201.5" cy="674.8" r="1.6"/><circle cx="201.0" cy="675.3" r="1.6"/><circle cx="229.8" cy="607.2" r="1.6"/><circle cx="256.0" cy="607.7" r="1.6"/><circle cx="184.1" cy="665.1" r="1.6"/><circle cx="220.5" cy="628.3" r="1.6"/><circle cx="166.1" cy="658.1" r="1.6"/><circle cx="206.2" cy="669.2" r="1.6"/><circle cx="208.4" cy="666.7" r="1.6"/><circle cx="153.6" cy="659.9" r="1.6"/><circle cx="162.2" cy="644.9" r="1.6"/><circle cx="145.2" cy="654.2" r="1.6"/><circle cx="144.3" cy="649.5" r="1.6"/><circle cx="203.4" cy="660.0" r="1.6"/><circle cx="206.5" cy="672.7" r="1.6"/><circle cx="208.7" cy="666.7" r="1.6"/><circle cx="209.0" cy="659.4" r="1.6"/><circle cx="128.5" cy="636.2" r="1.6"/><circle cx="188.7" cy="671.2" r="1.6"/><circle cx="213.2" cy="649.9" r="1.6"/><circle cx="193.1" cy="672.0" r="1.6"/><circle cx="208.0" cy="672.5" r="1.6"/><circle cx="208.0" cy="663.9" r="1.6"/><circle cx="196.8" cy="674.9" r="1.6"/><circle cx="221.0" cy="669.1" r="1.6"/><circle cx="175.2" cy="639.8" r="1.6"/><circle cx="203.5" cy="670.5" r="1.6"/><circle cx="228.6" cy="630.5" r="1.6"/><circle cx="210.5" cy="660.6" r="1.6"/><circle cx="207.4" cy="667.8" r="1.6"/><circle cx="202.7" cy="675.6" r="1.6"/><circle cx="200.7" cy="673.5" r="1.6"/><circle cx="167.9" cy="654.7" r="1.6"/><circle cx="173.2" cy="661.4" r="1.6"/><circle cx="144.2" cy="639.4" r="1.6"/><circle cx="215.0" cy="635.5" r="1.6"/><circle cx="177.7" cy="636.4" r="1.6"/><circle cx="228.0" cy="655.6" r="1.6"/><circle cx="177.4" cy="590.3" r="1.6"/><circle cx="196.7" cy="675.0" r="1.6"/><circle cx="184.7" cy="657.6" r="1.6"/><circle cx="197.5" cy="675.6" r="1.6"/><circle cx="205.3" cy="673.2" r="1.6"/><circle cx="181.3" cy="663.3" r="1.6"/><circle cx="244.7" cy="635.9" r="1.6"/><circle cx="201.5" cy="675.5" r="1.6"/><circle cx="202.5" cy="667.9" r="1.6"/><circle cx="251.1" cy="654.3" r="1.6"/><circle cx="245.3" cy="647.5" r="1.6"/><circle cx="174.2" cy="660.4" r="1.6"/><circle cx="178.0" cy="665.6" r="1.6"/><circle cx="208.2" cy="674.0" r="1.6"/><circle cx="195.8" cy="673.0" r="1.6"/><circle cx="194.5" cy="670.2" r="1.6"/><circle cx="198.9" cy="674.7" r="1.6"/><circle cx="182.8" cy="660.7" r="1.6"/><circle cx="237.2" cy="649.9" r="1.6"/><circle cx="204.6" cy="674.2" r="1.6"/><circle cx="191.9" cy="667.0" r="1.6"/><circle cx="196.2" cy="671.0" r="1.6"/><circle cx="157.0" cy="656.0" r="1.6"/><circle cx="198.9" cy="676.2" r="1.6"/><circle cx="222.8" cy="644.4" r="1.6"/><circle cx="259.1" cy="643.8" r="1.6"/><circle cx="202.2" cy="669.5" r="1.6"/><circle cx="196.2" cy="673.8" r="1.6"/><circle cx="205.0" cy="651.6" r="1.6"/><circle cx="158.8" cy="603.6" r="1.6"/><circle cx="194.3" cy="661.3" r="1.6"/><circle cx="209.4" cy="671.2" r="1.6"/><circle cx="256.4" cy="656.6" r="1.6"/><circle cx="164.2" cy="625.7" r="1.6"/><circle cx="174.6" cy="650.9" r="1.6"/><circle cx="193.5" cy="658.3" r="1.6"/><circle cx="213.1" cy="667.2" r="1.6"/><circle cx="181.0" cy="664.2" r="1.6"/><circle cx="205.9" cy="666.6" r="1.6"/><circle cx="192.3" cy="658.8" r="1.6"/><circle cx="205.7" cy="647.8" r="1.6"/><circle cx="216.1" cy="600.8" r="1.6"/><circle cx="203.9" cy="672.8" r="1.6"/><circle cx="250.0" cy="630.3" r="1.6"/><circle cx="200.4" cy="676.5" r="1.6"/><circle cx="213.4" cy="671.8" r="1.6"/><circle cx="252.0" cy="643.6" r="1.6"/><circle cx="189.2" cy="670.3" r="1.6"/><circle cx="206.4" cy="667.5" r="1.6"/><circle cx="251.9" cy="643.5" r="1.6"/><circle cx="166.7" cy="653.2" r="1.6"/><circle cx="207.7" cy="644.2" r="1.6"/><circle cx="184.1" cy="654.2" r="1.6"/><circle cx="200.2" cy="676.4" r="1.6"/><circle cx="206.8" cy="668.4" r="1.6"/><circle cx="202.3" cy="669.0" r="1.6"/><circle cx="215.2" cy="664.4" r="1.6"/><circle cx="172.9" cy="666.4" r="1.6"/><circle cx="203.7" cy="674.6" r="1.6"/><circle cx="174.8" cy="607.7" r="1.6"/><circle cx="200.4" cy="675.8" r="1.6"/><circle cx="229.0" cy="625.4" r="1.6"/><circle cx="248.7" cy="622.3" r="1.6"/><circle cx="204.0" cy="672.8" r="1.6"/><circle cx="225.7" cy="614.8" r="1.6"/><circle cx="168.7" cy="657.8" r="1.6"/><circle cx="227.9" cy="636.8" r="1.6"/><circle cx="209.2" cy="666.9" r="1.6"/><circle cx="208.6" cy="662.4" r="1.6"/><circle cx="217.9" cy="613.1" r="1.6"/><circle cx="224.0" cy="640.9" r="1.6"/><circle cx="249.4" cy="647.9" r="1.6"/><circle cx="196.0" cy="673.9" r="1.6"/><circle cx="211.7" cy="616.8" r="1.6"/><circle cx="190.4" cy="668.0" r="1.6"/><circle cx="215.0" cy="656.1" r="1.6"/><circle cx="162.5" cy="607.7" r="1.6"/><circle cx="190.1" cy="651.2" r="1.6"/><circle cx="201.7" cy="676.4" r="1.6"/><circle cx="227.6" cy="644.2" r="1.6"/><circle cx="206.1" cy="672.3" r="1.6"/><circle cx="208.6" cy="666.1" r="1.6"/><circle cx="225.8" cy="661.2" r="1.6"/><circle cx="202.5" cy="674.0" r="1.6"/><circle cx="222.9" cy="624.1" r="1.6"/><circle cx="253.1" cy="617.7" r="1.6"/><circle cx="240.9" cy="592.3" r="1.6"/><circle cx="139.2" cy="583.9" r="1.6"/><circle cx="221.2" cy="656.4" r="1.6"/><circle cx="210.2" cy="659.2" r="1.6"/><circle cx="178.7" cy="666.9" r="1.6"/><circle cx="147.7" cy="576.7" r="1.6"/><circle cx="172.9" cy="597.9" r="1.6"/><circle cx="144.7" cy="589.7" r="1.6"/><circle cx="230.3" cy="615.0" r="1.6"/><circle cx="207.0" cy="667.5" r="1.6"/><circle cx="123.0" cy="636.3" r="1.6"/><circle cx="199.1" cy="676.3" r="1.6"/><circle cx="230.8" cy="604.6" r="1.6"/><circle cx="204.9" cy="671.4" r="1.6"/><circle cx="204.6" cy="661.2" r="1.6"/><circle cx="141.8" cy="610.5" r="1.6"/><circle cx="203.0" cy="670.2" r="1.6"/><circle cx="225.6" cy="663.8" r="1.6"/><circle cx="196.8" cy="676.4" r="1.6"/><circle cx="140.0" cy="594.5" r="1.6"/><circle cx="205.4" cy="664.7" r="1.6"/><circle cx="138.6" cy="653.1" r="1.6"/><circle cx="175.1" cy="657.0" r="1.6"/><circle cx="219.7" cy="644.6" r="1.6"/><circle cx="188.0" cy="656.0" r="1.6"/><circle cx="207.9" cy="668.1" r="1.6"/><circle cx="246.7" cy="651.6" r="1.6"/><circle cx="200.2" cy="676.5" r="1.6"/><circle cx="204.3" cy="665.0" r="1.6"/><circle cx="207.1" cy="669.3" r="1.6"/><circle cx="210.4" cy="673.0" r="1.6"/><circle cx="179.2" cy="653.1" r="1.6"/><circle cx="210.0" cy="673.3" r="1.6"/><circle cx="228.2" cy="643.6" r="1.6"/><circle cx="208.8" cy="670.5" r="1.6"/><circle cx="182.2" cy="625.2" r="1.6"/><circle cx="209.1" cy="671.3" r="1.6"/><circle cx="204.2" cy="672.0" r="1.6"/><circle cx="229.7" cy="654.8" r="1.6"/><circle cx="254.2" cy="640.3" r="1.6"/><circle cx="194.3" cy="675.6" r="1.6"/><circle cx="226.1" cy="653.0" r="1.6"/><circle cx="213.0" cy="645.6" r="1.6"/><circle cx="213.5" cy="631.6" r="1.6"/><circle cx="201.3" cy="675.6" r="1.6"/><circle cx="220.6" cy="599.2" r="1.6"/><circle cx="178.9" cy="604.0" r="1.6"/><circle cx="213.1" cy="643.6" r="1.6"/><circle cx="207.6" cy="668.2" r="1.6"/><circle cx="190.8" cy="664.5" r="1.6"/><circle cx="220.6" cy="658.9" r="1.6"/><circle cx="194.8" cy="675.1" r="1.6"/><circle cx="195.0" cy="664.1" r="1.6"/><circle cx="199.1" cy="676.3" r="1.6"/><circle cx="194.0" cy="669.9" r="1.6"/><circle cx="200.0" cy="676.6" r="1.6"/><circle cx="192.8" cy="657.6" r="1.6"/><circle cx="206.6" cy="675.3" r="1.6"/><circle cx="205.6" cy="672.5" r="1.6"/><circle cx="170.0" cy="634.1" r="1.6"/><circle cx="216.7" cy="669.9" r="1.6"/><circle cx="205.0" cy="646.5" r="1.6"/><circle cx="200.6" cy="673.7" r="1.6"/><circle cx="186.9" cy="673.4" r="1.6"/><circle cx="208.1" cy="668.4" r="1.6"/><circle cx="216.5" cy="615.4" r="1.6"/><circle cx="256.6" cy="591.6" r="1.6"/><circle cx="206.5" cy="673.3" r="1.6"/><circle cx="193.5" cy="669.8" r="1.6"/><circle cx="211.6" cy="667.1" r="1.6"/><circle cx="212.6" cy="659.3" r="1.6"/><circle cx="147.5" cy="618.2" r="1.6"/><circle cx="152.2" cy="653.4" r="1.6"/><circle cx="200.7" cy="676.0" r="1.6"/><circle cx="185.2" cy="663.3" r="1.6"/><circle cx="213.3" cy="649.2" r="1.6"/><circle cx="200.2" cy="676.1" r="1.6"/><circle cx="244.4" cy="608.3" r="1.6"/><circle cx="173.1" cy="669.2" r="1.6"/><circle cx="216.9" cy="669.6" r="1.6"/><circle cx="186.1" cy="672.2" r="1.6"/><circle cx="225.5" cy="662.4" r="1.6"/><circle cx="200.9" cy="675.3" r="1.6"/><circle cx="212.6" cy="624.4" r="1.6"/><circle cx="173.1" cy="664.6" r="1.6"/><circle cx="203.9" cy="673.7" r="1.6"/><circle cx="205.1" cy="671.2" r="1.6"/><circle cx="204.7" cy="673.7" r="1.6"/><circle cx="227.2" cy="642.2" r="1.6"/><circle cx="190.9" cy="668.0" r="1.6"/><circle cx="219.5" cy="648.9" r="1.6"/><circle cx="222.3" cy="663.3" r="1.6"/><circle cx="219.2" cy="644.2" r="1.6"/><circle cx="180.8" cy="666.3" r="1.6"/><circle cx="160.2" cy="586.7" r="1.6"/><circle cx="141.4" cy="642.0" r="1.6"/><circle cx="174.4" cy="661.5" r="1.6"/><circle cx="205.1" cy="667.8" r="1.6"/><circle cx="180.0" cy="670.0" r="1.6"/><circle cx="224.6" cy="642.3" r="1.6"/><circle cx="246.2" cy="658.6" r="1.6"/><circle cx="234.7" cy="627.0" r="1.6"/><circle cx="205.9" cy="673.5" r="1.6"/><circle cx="244.6" cy="578.9" r="1.6"/><circle cx="224.5" cy="658.7" r="1.6"/><circle cx="223.6" cy="622.7" r="1.6"/><circle cx="164.9" cy="611.8" r="1.6"/><circle cx="206.7" cy="625.6" r="1.6"/><circle cx="205.7" cy="654.3" r="1.6"/><circle cx="231.3" cy="619.2" r="1.6"/><circle cx="190.3" cy="667.9" r="1.6"/><circle cx="203.4" cy="674.5" r="1.6"/><circle cx="195.9" cy="672.9" r="1.6"/><circle cx="190.4" cy="673.5" r="1.6"/><circle cx="219.1" cy="660.3" r="1.6"/><circle cx="194.5" cy="675.1" r="1.6"/><circle cx="215.5" cy="664.4" r="1.6"/><circle cx="202.0" cy="669.3" r="1.6"/><circle cx="257.6" cy="653.2" r="1.6"/><circle cx="234.3" cy="608.7" r="1.6"/><circle cx="218.2" cy="624.5" r="1.6"/><circle cx="143.7" cy="643.9" r="1.6"/><circle cx="211.8" cy="640.8" r="1.6"/><circle cx="186.6" cy="667.0" r="1.6"/><circle cx="226.2" cy="650.9" r="1.6"/><circle cx="214.5" cy="660.5" r="1.6"/><circle cx="191.5" cy="667.0" r="1.6"/><circle cx="232.4" cy="577.6" r="1.6"/><circle cx="228.8" cy="632.8" r="1.6"/><circle cx="159.0" cy="621.9" r="1.6"/><circle cx="207.0" cy="661.0" r="1.6"/><circle cx="202.5" cy="668.8" r="1.6"/><circle cx="198.4" cy="669.9" r="1.6"/><circle cx="193.7" cy="669.5" r="1.6"/><circle cx="222.8" cy="647.8" r="1.6"/><circle cx="154.7" cy="639.3" r="1.6"/><circle cx="226.0" cy="633.9" r="1.6"/><circle cx="153.8" cy="638.3" r="1.6"/><circle cx="229.5" cy="590.3" r="1.6"/><circle cx="182.8" cy="668.3" r="1.6"/><circle cx="217.1" cy="663.4" r="1.6"/><circle cx="212.1" cy="660.5" r="1.6"/><circle cx="192.9" cy="674.5" r="1.6"/><circle cx="213.0" cy="664.8" r="1.6"/><circle cx="139.5" cy="593.5" r="1.6"/><circle cx="207.7" cy="672.5" r="1.6"/><circle cx="166.3" cy="624.0" r="1.6"/><circle cx="205.6" cy="654.0" r="1.6"/><circle cx="228.6" cy="598.3" r="1.6"/><circle cx="170.4" cy="635.6" r="1.6"/><circle cx="169.9" cy="620.5" r="1.6"/><circle cx="226.1" cy="632.0" r="1.6"/><circle cx="201.3" cy="675.7" r="1.6"/><circle cx="238.6" cy="586.4" r="1.6"/><circle cx="199.9" cy="676.5" r="1.6"/><circle cx="212.5" cy="660.2" r="1.6"/><circle cx="151.0" cy="622.6" r="1.6"/><circle cx="217.8" cy="665.5" r="1.6"/><circle cx="259.5" cy="632.9" r="1.6"/><circle cx="220.9" cy="605.4" r="1.6"/><circle cx="195.6" cy="673.8" r="1.6"/><circle cx="229.1" cy="603.4" r="1.6"/><circle cx="190.5" cy="670.1" r="1.6"/><circle cx="202.1" cy="668.8" r="1.6"/><circle cx="173.8" cy="665.7" r="1.6"/><circle cx="231.2" cy="576.3" r="1.6"/><circle cx="242.3" cy="621.9" r="1.6"/><circle cx="204.2" cy="673.1" r="1.6"/><circle cx="186.4" cy="666.7" r="1.6"/><circle cx="218.8" cy="632.5" r="1.6"/><circle cx="160.8" cy="655.1" r="1.6"/><circle cx="236.6" cy="637.1" r="1.6"/><circle cx="145.6" cy="627.7" r="1.6"/><circle cx="216.4" cy="643.1" r="1.6"/><circle cx="206.2" cy="666.3" r="1.6"/><circle cx="181.1" cy="661.7" r="1.6"/><circle cx="185.5" cy="661.5" r="1.6"/><circle cx="208.8" cy="669.4" r="1.6"/><circle cx="188.2" cy="632.2" r="1.6"/><circle cx="165.2" cy="591.7" r="1.6"/><circle cx="193.5" cy="673.6" r="1.6"/><circle cx="186.4" cy="663.2" r="1.6"/><circle cx="216.3" cy="672.7" r="1.6"/><circle cx="247.4" cy="596.7" r="1.6"/><circle cx="224.8" cy="646.0" r="1.6"/><circle cx="250.3" cy="650.5" r="1.6"/><circle cx="133.7" cy="589.3" r="1.6"/><circle cx="205.6" cy="671.1" r="1.6"/><circle cx="217.1" cy="632.9" r="1.6"/><circle cx="205.1" cy="672.4" r="1.6"/><circle cx="176.3" cy="668.6" r="1.6"/><circle cx="147.7" cy="641.8" r="1.6"/><circle cx="215.0" cy="650.7" r="1.6"/><circle cx="194.3" cy="669.4" r="1.6"/><circle cx="213.5" cy="673.0" r="1.6"/><circle cx="173.6" cy="665.6" r="1.6"/><circle cx="213.9" cy="669.8" r="1.6"/><circle cx="185.0" cy="669.4" r="1.6"/><circle cx="205.1" cy="664.1" r="1.6"/><circle cx="180.6" cy="670.2" r="1.6"/><circle cx="177.1" cy="605.4" r="1.6"/><circle cx="201.0" cy="674.6" r="1.6"/><circle cx="206.3" cy="651.0" r="1.6"/><circle cx="133.5" cy="618.4" r="1.6"/><circle cx="229.0" cy="624.0" r="1.6"/><circle cx="188.1" cy="662.0" r="1.6"/><circle cx="222.0" cy="655.9" r="1.6"/><circle cx="182.9" cy="640.6" r="1.6"/><circle cx="177.6" cy="668.4" r="1.6"/><circle cx="218.0" cy="630.4" r="1.6"/><circle cx="191.9" cy="671.4" r="1.6"/><circle cx="239.7" cy="655.9" r="1.6"/><circle cx="217.7" cy="629.9" r="1.6"/><circle cx="194.1" cy="663.0" r="1.6"/><circle cx="187.3" cy="659.1" r="1.6"/><circle cx="182.4" cy="670.5" r="1.6"/><circle cx="156.7" cy="624.2" r="1.6"/><circle cx="204.6" cy="674.6" r="1.6"/><circle cx="187.2" cy="613.8" r="1.6"/><circle cx="212.1" cy="653.7" r="1.6"/><circle cx="184.3" cy="653.0" r="1.6"/><circle cx="229.1" cy="645.9" r="1.6"/><circle cx="204.7" cy="667.9" r="1.6"/><circle cx="227.3" cy="574.5" r="1.6"/><circle cx="140.9" cy="646.4" r="1.6"/><circle cx="209.8" cy="663.0" r="1.6"/><circle cx="169.1" cy="660.1" r="1.6"/><circle cx="188.6" cy="651.3" r="1.6"/><circle cx="184.3" cy="636.2" r="1.6"/><circle cx="196.9" cy="673.3" r="1.6"/><circle cx="214.4" cy="656.6" r="1.6"/><circle cx="195.9" cy="674.4" r="1.6"/><circle cx="207.4" cy="666.0" r="1.6"/><circle cx="201.8" cy="668.9" r="1.6"/><circle cx="185.5" cy="669.0" r="1.6"/><circle cx="233.7" cy="647.9" r="1.6"/><circle cx="191.4" cy="670.2" r="1.6"/><circle cx="224.5" cy="665.3" r="1.6"/><circle cx="202.4" cy="670.7" r="1.6"/><circle cx="163.3" cy="656.1" r="1.6"/><circle cx="203.7" cy="673.5" r="1.6"/><circle cx="190.1" cy="667.8" r="1.6"/><circle cx="206.6" cy="674.8" r="1.6"/><circle cx="194.7" cy="667.0" r="1.6"/><circle cx="219.3" cy="667.2" r="1.6"/><circle cx="229.8" cy="629.2" r="1.6"/><circle cx="201.3" cy="674.7" r="1.6"/><circle cx="181.2" cy="670.0" r="1.6"/><circle cx="214.4" cy="608.0" r="1.6"/><circle cx="198.3" cy="672.1" r="1.6"/><circle cx="226.9" cy="652.6" r="1.6"/><circle cx="187.4" cy="673.8" r="1.6"/><circle cx="201.5" cy="674.2" r="1.6"/><circle cx="206.1" cy="670.4" r="1.6"/><circle cx="204.3" cy="674.3" r="1.6"/><circle cx="168.2" cy="614.5" r="1.6"/><circle cx="162.8" cy="627.1" r="1.6"/><circle cx="194.0" cy="658.0" r="1.6"/><circle cx="209.4" cy="670.0" r="1.6"/><circle cx="211.5" cy="667.2" r="1.6"/><circle cx="201.7" cy="674.8" r="1.6"/><circle cx="186.7" cy="663.1" r="1.6"/><circle cx="190.7" cy="666.9" r="1.6"/><circle cx="214.8" cy="653.6" r="1.6"/><circle cx="173.3" cy="650.9" r="1.6"/><circle cx="217.3" cy="617.1" r="1.6"/><circle cx="159.8" cy="572.3" r="1.6"/><circle cx="243.2" cy="636.5" r="1.6"/><circle cx="243.1" cy="660.5" r="1.6"/><circle cx="242.5" cy="656.7" r="1.6"/><circle cx="194.8" cy="671.0" r="1.6"/><circle cx="184.3" cy="659.1" r="1.6"/><circle cx="206.2" cy="674.1" r="1.6"/><circle cx="210.9" cy="657.7" r="1.6"/><circle cx="189.0" cy="672.5" r="1.6"/><circle cx="213.3" cy="654.2" r="1.6"/><circle cx="215.5" cy="666.5" r="1.6"/><circle cx="192.6" cy="640.5" r="1.6"/><circle cx="138.8" cy="638.0" r="1.6"/><circle cx="198.7" cy="676.3" r="1.6"/><circle cx="211.2" cy="663.8" r="1.6"/><circle cx="213.7" cy="647.4" r="1.6"/><circle cx="223.3" cy="572.7" r="1.6"/><circle cx="212.7" cy="579.1" r="1.6"/><circle cx="186.8" cy="661.8" r="1.6"/><circle cx="217.2" cy="671.5" r="1.6"/><circle cx="231.3" cy="651.6" r="1.6"/><circle cx="220.2" cy="668.1" r="1.6"/><circle cx="202.6" cy="675.9" r="1.6"/><circle cx="200.4" cy="676.4" r="1.6"/><circle cx="200.1" cy="676.2" r="1.6"/><circle cx="210.6" cy="637.5" r="1.6"/><circle cx="155.6" cy="645.5" r="1.6"/><circle cx="216.7" cy="614.3" r="1.6"/><circle cx="159.8" cy="644.5" r="1.6"/><circle cx="232.8" cy="667.2" r="1.6"/><circle cx="211.8" cy="659.6" r="1.6"/><circle cx="211.3" cy="650.3" r="1.6"/><circle cx="204.3" cy="670.9" r="1.6"/><circle cx="211.5" cy="606.6" r="1.6"/><circle cx="176.0" cy="643.0" r="1.6"/><circle cx="187.4" cy="668.1" r="1.6"/><circle cx="204.0" cy="669.0" r="1.6"/><circle cx="185.8" cy="655.3" r="1.6"/><circle cx="230.0" cy="602.0" r="1.6"/><circle cx="148.4" cy="649.0" r="1.6"/><circle cx="224.4" cy="609.9" r="1.6"/><circle cx="202.0" cy="674.5" r="1.6"/><circle cx="208.8" cy="648.7" r="1.6"/><circle cx="204.7" cy="669.4" r="1.6"/><circle cx="219.3" cy="669.2" r="1.6"/><circle cx="224.4" cy="579.4" r="1.6"/><circle cx="206.9" cy="666.1" r="1.6"/><circle cx="233.5" cy="657.2" r="1.6"/><circle cx="202.0" cy="674.9" r="1.6"/><circle cx="223.5" cy="591.1" r="1.6"/><circle cx="164.3" cy="651.6" r="1.6"/><circle cx="188.9" cy="668.1" r="1.6"/><circle cx="210.6" cy="671.6" r="1.6"/><circle cx="198.0" cy="675.9" r="1.6"/><circle cx="155.2" cy="636.3" r="1.6"/><circle cx="201.3" cy="675.0" r="1.6"/><circle cx="247.1" cy="597.2" r="1.6"/><circle cx="159.3" cy="594.5" r="1.6"/><circle cx="216.1" cy="621.2" r="1.6"/><circle cx="205.4" cy="670.4" r="1.6"/><circle cx="188.6" cy="674.6" r="1.6"/><circle cx="261.4" cy="589.2" r="1.6"/><circle cx="197.5" cy="674.7" r="1.6"/><circle cx="211.7" cy="648.4" r="1.6"/><circle cx="132.5" cy="609.3" r="1.6"/><circle cx="219.9" cy="624.4" r="1.6"/><circle cx="211.9" cy="672.4" r="1.6"/><circle cx="179.3" cy="654.1" r="1.6"/><circle cx="215.5" cy="658.2" r="1.6"/><circle cx="176.4" cy="629.4" r="1.6"/><circle cx="182.5" cy="653.6" r="1.6"/><circle cx="227.5" cy="661.6" r="1.6"/><circle cx="200.0" cy="676.6" r="1.6"/><circle cx="199.0" cy="675.8" r="1.6"/><circle cx="163.2" cy="660.9" r="1.6"/><circle cx="213.1" cy="671.5" r="1.6"/><circle cx="201.6" cy="673.7" r="1.6"/><circle cx="210.4" cy="640.7" r="1.6"/><circle cx="177.5" cy="668.4" r="1.6"/><circle cx="216.4" cy="659.0" r="1.6"/><circle cx="215.5" cy="651.7" r="1.6"/><circle cx="177.4" cy="660.5" r="1.6"/><circle cx="222.0" cy="655.4" r="1.6"/><circle cx="215.7" cy="668.9" r="1.6"/><circle cx="207.6" cy="652.4" r="1.6"/><circle cx="188.8" cy="672.8" r="1.6"/><circle cx="197.8" cy="671.6" r="1.6"/><circle cx="202.8" cy="665.6" r="1.6"/><circle cx="171.0" cy="666.8" r="1.6"/><circle cx="215.6" cy="634.4" r="1.6"/><circle cx="204.3" cy="672.8" r="1.6"/><circle cx="221.2" cy="581.3" r="1.6"/><circle cx="236.8" cy="658.5" r="1.6"/><circle cx="228.8" cy="668.8" r="1.6"/><circle cx="174.8" cy="658.6" r="1.6"/><circle cx="135.8" cy="575.6" r="1.6"/><circle cx="205.5" cy="665.4" r="1.6"/><circle cx="215.1" cy="623.7" r="1.6"/><circle cx="191.8" cy="670.7" r="1.6"/><circle cx="185.2" cy="667.3" r="1.6"/><circle cx="242.7" cy="619.4" r="1.6"/><circle cx="226.8" cy="652.1" r="1.6"/><circle cx="177.8" cy="652.9" r="1.6"/><circle cx="234.6" cy="637.6" r="1.6"/><circle cx="185.3" cy="633.9" r="1.6"/><circle cx="201.8" cy="675.5" r="1.6"/><circle cx="183.5" cy="666.8" r="1.6"/><circle cx="191.3" cy="664.8" r="1.6"/><circle cx="186.0" cy="662.8" r="1.6"/><circle cx="234.9" cy="630.8" r="1.6"/><circle cx="201.2" cy="676.4" r="1.6"/><circle cx="213.5" cy="667.8" r="1.6"/><circle cx="195.4" cy="670.7" r="1.6"/><circle cx="194.3" cy="674.7" r="1.6"/><circle cx="195.4" cy="673.5" r="1.6"/><circle cx="224.1" cy="663.9" r="1.6"/><circle cx="192.4" cy="673.4" r="1.6"/><circle cx="149.2" cy="659.3" r="1.6"/><circle cx="200.8" cy="675.7" r="1.6"/><circle cx="221.0" cy="626.0" r="1.6"/><circle cx="182.8" cy="666.0" r="1.6"/><circle cx="202.1" cy="673.5" r="1.6"/><circle cx="210.8" cy="673.2" r="1.6"/><circle cx="208.6" cy="668.0" r="1.6"/><circle cx="213.4" cy="627.0" r="1.6"/><circle cx="172.0" cy="633.3" r="1.6"/><circle cx="201.2" cy="672.9" r="1.6"/><circle cx="174.0" cy="649.5" r="1.6"/><circle cx="203.8" cy="671.5" r="1.6"/><circle cx="225.3" cy="646.2" r="1.6"/><circle cx="219.2" cy="645.4" r="1.6"/><circle cx="187.3" cy="655.7" r="1.6"/><circle cx="185.4" cy="661.5" r="1.6"/><circle cx="235.9" cy="611.5" r="1.6"/><circle cx="203.9" cy="666.4" r="1.6"/><circle cx="222.5" cy="659.3" r="1.6"/><circle cx="201.3" cy="675.9" r="1.6"/><circle cx="168.3" cy="658.8" r="1.6"/><circle cx="208.2" cy="658.1" r="1.6"/><circle cx="193.4" cy="673.5" r="1.6"/><circle cx="253.2" cy="629.6" r="1.6"/><circle cx="187.3" cy="667.5" r="1.6"/><circle cx="200.9" cy="675.9" r="1.6"/><circle cx="176.7" cy="638.3" r="1.6"/><circle cx="177.8" cy="651.6" r="1.6"/><circle cx="204.5" cy="670.2" r="1.6"/><circle cx="188.1" cy="674.8" r="1.6"/><circle cx="223.1" cy="648.0" r="1.6"/><circle cx="222.2" cy="661.2" r="1.6"/><circle cx="228.8" cy="658.4" r="1.6"/><circle cx="225.9" cy="605.6" r="1.6"/><circle cx="217.5" cy="610.9" r="1.6"/><circle cx="224.6" cy="645.7" r="1.6"/><circle cx="205.7" cy="669.8" r="1.6"/><circle cx="220.6" cy="661.5" r="1.6"/><circle cx="234.1" cy="639.8" r="1.6"/><circle cx="199.0" cy="675.5" r="1.6"/><circle cx="193.9" cy="673.2" r="1.6"/><circle cx="225.3" cy="662.4" r="1.6"/><circle cx="176.3" cy="665.4" r="1.6"/><circle cx="212.6" cy="656.1" r="1.6"/><circle cx="212.3" cy="672.0" r="1.6"/><circle cx="251.9" cy="599.7" r="1.6"/><circle cx="208.5" cy="671.9" r="1.6"/><circle cx="180.0" cy="640.7" r="1.6"/><circle cx="205.3" cy="666.1" r="1.6"/><circle cx="167.9" cy="610.2" r="1.6"/><circle cx="207.0" cy="672.5" r="1.6"/><circle cx="216.5" cy="592.8" r="1.6"/><circle cx="214.1" cy="660.3" r="1.6"/><circle cx="235.7" cy="648.0" r="1.6"/><circle cx="219.1" cy="658.0" r="1.6"/><circle cx="167.1" cy="661.8" r="1.6"/><circle cx="205.3" cy="668.5" r="1.6"/><circle cx="164.5" cy="642.0" r="1.6"/><circle cx="184.1" cy="633.7" r="1.6"/><circle cx="224.9" cy="668.8" r="1.6"/><circle cx="183.5" cy="656.7" r="1.6"/><circle cx="215.8" cy="641.3" r="1.6"/><circle cx="238.0" cy="643.9" r="1.6"/><circle cx="158.6" cy="609.7" r="1.6"/><circle cx="191.2" cy="664.8" r="1.6"/><circle cx="211.3" cy="636.2" r="1.6"/><circle cx="242.4" cy="577.6" r="1.6"/><circle cx="193.4" cy="673.0" r="1.6"/><circle cx="150.0" cy="646.1" r="1.6"/><circle cx="171.1" cy="633.0" r="1.6"/><circle cx="218.8" cy="652.0" r="1.6"/><circle cx="160.0" cy="656.9" r="1.6"/><circle cx="220.8" cy="666.0" r="1.6"/><circle cx="210.1" cy="658.1" r="1.6"/><circle cx="220.3" cy="624.9" r="1.6"/><circle cx="200.7" cy="675.4" r="1.6"/><circle cx="224.9" cy="600.2" r="1.6"/><circle cx="207.3" cy="669.6" r="1.6"/><circle cx="234.3" cy="645.4" r="1.6"/><circle cx="212.0" cy="672.3" r="1.6"/><circle cx="165.3" cy="653.9" r="1.6"/><circle cx="195.8" cy="673.3" r="1.6"/><circle cx="193.2" cy="666.2" r="1.6"/><circle cx="205.0" cy="675.2" r="1.6"/><circle cx="224.1" cy="666.9" r="1.6"/><circle cx="245.5" cy="637.3" r="1.6"/><circle cx="208.4" cy="643.2" r="1.6"/><circle cx="198.4" cy="675.1" r="1.6"/><circle cx="231.3" cy="667.2" r="1.6"/><circle cx="217.4" cy="668.1" r="1.6"/><circle cx="211.0" cy="635.0" r="1.6"/><circle cx="230.7" cy="618.6" r="1.6"/><circle cx="180.9" cy="645.4" r="1.6"/><circle cx="171.9" cy="667.3" r="1.6"/><circle cx="218.8" cy="639.4" r="1.6"/><circle cx="208.5" cy="638.0" r="1.6"/><circle cx="155.9" cy="644.8" r="1.6"/><circle cx="200.7" cy="675.4" r="1.6"/><circle cx="204.3" cy="669.8" r="1.6"/><circle cx="208.5" cy="661.6" r="1.6"/><circle cx="207.3" cy="626.9" r="1.6"/><circle cx="198.7" cy="676.2" r="1.6"/><circle cx="182.9" cy="644.6" r="1.6"/><circle cx="228.7" cy="665.6" r="1.6"/><circle cx="203.7" cy="667.7" r="1.6"/><circle cx="200.4" cy="675.7" r="1.6"/><circle cx="197.2" cy="663.1" r="1.6"/><circle cx="207.1" cy="674.8" r="1.6"/><circle cx="203.4" cy="672.1" r="1.6"/><circle cx="239.2" cy="629.4" r="1.6"/><circle cx="186.2" cy="634.3" r="1.6"/><circle cx="226.8" cy="656.8" r="1.6"/><circle cx="216.3" cy="624.6" r="1.6"/><circle cx="177.9" cy="663.3" r="1.6"/><circle cx="219.4" cy="605.4" r="1.6"/><circle cx="225.0" cy="666.5" r="1.6"/><circle cx="174.7" cy="669.8" r="1.6"/><circle cx="199.4" cy="676.2" r="1.6"/><circle cx="205.2" cy="673.1" r="1.6"/><circle cx="238.5" cy="632.8" r="1.6"/><circle cx="201.6" cy="673.1" r="1.6"/><circle cx="212.5" cy="646.7" r="1.6"/><circle cx="202.3" cy="673.6" r="1.6"/><circle cx="144.7" cy="604.8" r="1.6"/><circle cx="203.5" cy="668.3" r="1.6"/><circle cx="251.7" cy="606.6" r="1.6"/><circle cx="198.8" cy="673.4" r="1.6"/><circle cx="188.5" cy="664.1" r="1.6"/><circle cx="188.6" cy="653.1" r="1.6"/><circle cx="210.2" cy="655.0" r="1.6"/><circle cx="208.1" cy="665.2" r="1.6"/><circle cx="204.0" cy="668.7" r="1.6"/><circle cx="204.8" cy="651.3" r="1.6"/><circle cx="150.3" cy="640.7" r="1.6"/><circle cx="195.7" cy="668.3" r="1.6"/><circle cx="155.1" cy="657.1" r="1.6"/><circle cx="229.5" cy="663.3" r="1.6"/><circle cx="171.7" cy="668.9" r="1.6"/><circle cx="182.3" cy="661.1" r="1.6"/><circle cx="218.7" cy="665.2" r="1.6"/><circle cx="190.7" cy="661.5" r="1.6"/><circle cx="186.9" cy="662.6" r="1.6"/><circle cx="178.7" cy="669.5" r="1.6"/><circle cx="139.7" cy="641.7" r="1.6"/><circle cx="230.0" cy="658.6" r="1.6"/><circle cx="166.9" cy="624.6" r="1.6"/><circle cx="229.5" cy="637.0" r="1.6"/><circle cx="210.9" cy="665.8" r="1.6"/><circle cx="175.9" cy="670.5" r="1.6"/><circle cx="196.5" cy="671.8" r="1.6"/><circle cx="189.9" cy="627.1" r="1.6"/><circle cx="205.7" cy="661.1" r="1.6"/><circle cx="200.4" cy="675.5" r="1.6"/><circle cx="171.4" cy="662.8" r="1.6"/><circle cx="233.2" cy="650.7" r="1.6"/><circle cx="201.0" cy="675.7" r="1.6"/><circle cx="218.9" cy="593.2" r="1.6"/><circle cx="200.6" cy="675.8" r="1.6"/><circle cx="206.0" cy="664.1" r="1.6"/><circle cx="227.1" cy="663.2" r="1.6"/><circle cx="223.5" cy="608.3" r="1.6"/><circle cx="206.2" cy="660.8" r="1.6"/><circle cx="225.6" cy="646.3" r="1.6"/><circle cx="184.0" cy="646.2" r="1.6"/><circle cx="192.0" cy="667.3" r="1.6"/><circle cx="202.0" cy="675.4" r="1.6"/><circle cx="157.3" cy="658.3" r="1.6"/><circle cx="210.9" cy="644.8" r="1.6"/><circle cx="237.4" cy="639.0" r="1.6"/><circle cx="194.1" cy="674.2" r="1.6"/><circle cx="210.0" cy="639.3" r="1.6"/><circle cx="258.3" cy="624.4" r="1.6"/><circle cx="202.4" cy="670.4" r="1.6"/><circle cx="238.1" cy="665.5" r="1.6"/><circle cx="215.8" cy="599.5" r="1.6"/><circle cx="184.3" cy="665.4" r="1.6"/><circle cx="202.2" cy="675.5" r="1.6"/><circle cx="170.2" cy="579.4" r="1.6"/><circle cx="200.6" cy="676.2" r="1.6"/><circle cx="193.5" cy="673.5" r="1.6"/><circle cx="206.5" cy="663.2" r="1.6"/><circle cx="186.8" cy="672.1" r="1.6"/><circle cx="204.3" cy="661.2" r="1.6"/><circle cx="204.8" cy="669.9" r="1.6"/><circle cx="196.2" cy="675.2" r="1.6"/><circle cx="207.7" cy="663.7" r="1.6"/><circle cx="239.2" cy="611.4" r="1.6"/><circle cx="176.4" cy="624.5" r="1.6"/><circle cx="147.3" cy="621.0" r="1.6"/><circle cx="180.6" cy="671.0" r="1.6"/><circle cx="200.0" cy="676.5" r="1.6"/><circle cx="202.0" cy="675.3" r="1.6"/><circle cx="140.0" cy="624.6" r="1.6"/><circle cx="210.6" cy="654.2" r="1.6"/><circle cx="200.7" cy="675.5" r="1.6"/><circle cx="224.7" cy="652.7" r="1.6"/><circle cx="201.1" cy="676.0" r="1.6"/><circle cx="198.8" cy="675.8" r="1.6"/><circle cx="213.0" cy="659.1" r="1.6"/><circle cx="208.5" cy="655.3" r="1.6"/><circle cx="193.8" cy="670.8" r="1.6"/><circle cx="212.8" cy="670.9" r="1.6"/><circle cx="200.1" cy="676.5" r="1.6"/><circle cx="206.2" cy="671.1" r="1.6"/><circle cx="232.4" cy="659.5" r="1.6"/><circle cx="208.5" cy="616.7" r="1.6"/><circle cx="206.5" cy="668.5" r="1.6"/><circle cx="194.1" cy="675.7" r="1.6"/><circle cx="249.8" cy="628.5" r="1.6"/><circle cx="225.1" cy="620.8" r="1.6"/><circle cx="163.7" cy="645.8" r="1.6"/><circle cx="171.2" cy="665.5" r="1.6"/><circle cx="199.3" cy="676.3" r="1.6"/><circle cx="200.2" cy="676.1" r="1.6"/><circle cx="206.8" cy="663.2" r="1.6"/><circle cx="246.3" cy="642.9" r="1.6"/><circle cx="165.5" cy="622.4" r="1.6"/><circle cx="191.4" cy="673.8" r="1.6"/><circle cx="200.5" cy="676.0" r="1.6"/><circle cx="165.4" cy="648.8" r="1.6"/><circle cx="205.3" cy="661.0" r="1.6"/><circle cx="211.4" cy="664.0" r="1.6"/><circle cx="204.9" cy="669.7" r="1.6"/><circle cx="216.3" cy="663.1" r="1.6"/><circle cx="200.1" cy="676.5" r="1.6"/><circle cx="233.1" cy="604.2" r="1.6"/><circle cx="159.1" cy="621.3" r="1.6"/><circle cx="184.1" cy="660.3" r="1.6"/><circle cx="210.3" cy="660.5" r="1.6"/><circle cx="142.1" cy="654.4" r="1.6"/><circle cx="200.0" cy="676.6" r="1.6"/><circle cx="200.8" cy="675.1" r="1.6"/><circle cx="198.8" cy="676.3" r="1.6"/><circle cx="255.5" cy="590.3" r="1.6"/><circle cx="206.9" cy="672.5" r="1.6"/><circle cx="225.5" cy="584.5" r="1.6"/><circle cx="234.7" cy="632.5" r="1.6"/><circle cx="218.0" cy="662.0" r="1.6"/><circle cx="155.4" cy="652.2" r="1.6"/><circle cx="228.4" cy="655.2" r="1.6"/><circle cx="210.6" cy="636.9" r="1.6"/><circle cx="233.1" cy="653.9" r="1.6"/><circle cx="225.6" cy="634.3" r="1.6"/><circle cx="217.8" cy="643.9" r="1.6"/><circle cx="221.8" cy="665.6" r="1.6"/><circle cx="199.7" cy="676.4" r="1.6"/><circle cx="198.5" cy="675.3" r="1.6"/><circle cx="231.4" cy="633.5" r="1.6"/><circle cx="215.8" cy="574.3" r="1.6"/><circle cx="207.7" cy="636.0" r="1.6"/><circle cx="202.5" cy="674.2" r="1.6"/><circle cx="210.1" cy="675.0" r="1.6"/><circle cx="241.7" cy="608.3" r="1.6"/><circle cx="197.5" cy="673.7" r="1.6"/><circle cx="207.5" cy="652.9" r="1.6"/><circle cx="207.3" cy="673.7" r="1.6"/><circle cx="206.0" cy="671.0" r="1.6"/><circle cx="180.5" cy="668.2" r="1.6"/><circle cx="237.8" cy="592.0" r="1.6"/><circle cx="185.7" cy="658.9" r="1.6"/><circle cx="233.2" cy="647.7" r="1.6"/><circle cx="218.9" cy="597.2" r="1.6"/><circle cx="191.1" cy="665.6" r="1.6"/><circle cx="227.7" cy="598.9" r="1.6"/><circle cx="224.2" cy="584.0" r="1.6"/><circle cx="126.0" cy="643.3" r="1.6"/><circle cx="258.5" cy="622.2" r="1.6"/><circle cx="208.1" cy="657.3" r="1.6"/><circle cx="211.2" cy="659.1" r="1.6"/><circle cx="220.3" cy="671.4" r="1.6"/><circle cx="193.3" cy="663.9" r="1.6"/><circle cx="240.4" cy="601.9" r="1.6"/><circle cx="209.3" cy="661.1" r="1.6"/><circle cx="219.6" cy="662.9" r="1.6"/><circle cx="200.2" cy="676.2" r="1.6"/><circle cx="188.3" cy="673.1" r="1.6"/><circle cx="205.3" cy="675.3" r="1.6"/><circle cx="215.9" cy="617.3" r="1.6"/><circle cx="225.1" cy="645.7" r="1.6"/><circle cx="207.3" cy="644.7" r="1.6"/><circle cx="250.0" cy="625.2" r="1.6"/><circle cx="211.0" cy="661.1" r="1.6"/><circle cx="204.5" cy="668.0" r="1.6"/><circle cx="200.9" cy="675.2" r="1.6"/><circle cx="242.2" cy="616.8" r="1.6"/><circle cx="125.9" cy="595.6" r="1.6"/><circle cx="171.1" cy="660.4" r="1.6"/><circle cx="231.0" cy="661.0" r="1.6"/><circle cx="193.7" cy="672.7" r="1.6"/><circle cx="217.5" cy="661.5" r="1.6"/><circle cx="189.6" cy="657.0" r="1.6"/><circle cx="216.3" cy="660.3" r="1.6"/><circle cx="201.4" cy="675.7" r="1.6"/><circle cx="206.9" cy="665.8" r="1.6"/><circle cx="204.8" cy="664.5" r="1.6"/><circle cx="196.2" cy="675.0" r="1.6"/><circle cx="244.8" cy="648.4" r="1.6"/><circle cx="203.5" cy="673.8" r="1.6"/><circle cx="212.7" cy="636.6" r="1.6"/><circle cx="191.5" cy="674.0" r="1.6"/><circle cx="224.1" cy="661.6" r="1.6"/><circle cx="258.7" cy="637.3" r="1.6"/><circle cx="198.5" cy="675.2" r="1.6"/><circle cx="151.1" cy="650.7" r="1.6"/><circle cx="205.2" cy="647.1" r="1.6"/><circle cx="172.6" cy="664.7" r="1.6"/><circle cx="202.5" cy="667.9" r="1.6"/><circle cx="203.7" cy="668.8" r="1.6"/><circle cx="179.8" cy="666.4" r="1.6"/><circle cx="204.0" cy="670.5" r="1.6"/><circle cx="191.4" cy="669.5" r="1.6"/><circle cx="213.5" cy="652.1" r="1.6"/><circle cx="176.6" cy="613.8" r="1.6"/><circle cx="209.9" cy="637.6" r="1.6"/><circle cx="208.9" cy="660.0" r="1.6"/><circle cx="206.4" cy="627.5" r="1.6"/><circle cx="199.4" cy="676.0" r="1.6"/><circle cx="215.5" cy="658.2" r="1.6"/><circle cx="173.2" cy="664.8" r="1.6"/><circle cx="208.1" cy="614.7" r="1.6"/><circle cx="174.7" cy="662.1" r="1.6"/><circle cx="197.1" cy="675.2" r="1.6"/><circle cx="234.9" cy="589.2" r="1.6"/><circle cx="212.5" cy="670.3" r="1.6"/><circle cx="224.4" cy="663.7" r="1.6"/><circle cx="227.3" cy="599.3" r="1.6"/><circle cx="206.8" cy="672.8" r="1.6"/><circle cx="253.6" cy="631.8" r="1.6"/><circle cx="217.6" cy="659.0" r="1.6"/><circle cx="214.2" cy="643.1" r="1.6"/><circle cx="195.3" cy="673.5" r="1.6"/><circle cx="226.7" cy="610.8" r="1.6"/><circle cx="209.5" cy="658.5" r="1.6"/><circle cx="180.5" cy="664.2" r="1.6"/><circle cx="200.7" cy="676.1" r="1.6"/><circle cx="202.6" cy="672.6" r="1.6"/><circle cx="173.7" cy="668.1" r="1.6"/><circle cx="196.7" cy="674.0" r="1.6"/><circle cx="213.1" cy="673.2" r="1.6"/><circle cx="201.3" cy="673.3" r="1.6"/><circle cx="205.5" cy="634.6" r="1.6"/><circle cx="202.4" cy="673.3" r="1.6"/><circle cx="215.4" cy="664.3" r="1.6"/><circle cx="206.7" cy="672.6" r="1.6"/><circle cx="227.4" cy="615.6" r="1.6"/><circle cx="196.5" cy="659.4" r="1.6"/><circle cx="229.8" cy="669.1" r="1.6"/><circle cx="205.5" cy="665.5" r="1.6"/><circle cx="184.9" cy="673.5" r="1.6"/><circle cx="205.3" cy="648.7" r="1.6"/><circle cx="203.9" cy="672.8" r="1.6"/><circle cx="151.1" cy="636.8" r="1.6"/><circle cx="202.9" cy="674.1" r="1.6"/><circle cx="216.8" cy="666.8" r="1.6"/><circle cx="195.2" cy="673.0" r="1.6"/><circle cx="229.3" cy="618.2" r="1.6"/><circle cx="149.8" cy="658.8" r="1.6"/><circle cx="188.6" cy="665.5" r="1.6"/><circle cx="191.5" cy="649.9" r="1.6"/><circle cx="181.5" cy="667.6" r="1.6"/><circle cx="246.5" cy="623.7" r="1.6"/><circle cx="216.6" cy="660.0" r="1.6"/><circle cx="186.5" cy="662.4" r="1.6"/><circle cx="252.9" cy="593.0" r="1.6"/><circle cx="206.4" cy="668.7" r="1.6"/><circle cx="203.3" cy="651.7" r="1.6"/><circle cx="187.4" cy="647.9" r="1.6"/><circle cx="219.5" cy="662.2" r="1.6"/><circle cx="201.0" cy="674.6" r="1.6"/><circle cx="229.4" cy="618.0" r="1.6"/><circle cx="200.7" cy="676.1" r="1.6"/><circle cx="215.9" cy="655.8" r="1.6"/><circle cx="200.8" cy="672.7" r="1.6"/><circle cx="211.5" cy="672.9" r="1.6"/><circle cx="223.9" cy="646.4" r="1.6"/><circle cx="206.3" cy="672.9" r="1.6"/><circle cx="203.5" cy="671.3" r="1.6"/><circle cx="187.8" cy="663.8" r="1.6"/><circle cx="213.7" cy="648.0" r="1.6"/><circle cx="151.0" cy="598.1" r="1.6"/><circle cx="180.3" cy="656.7" r="1.6"/><circle cx="224.0" cy="642.1" r="1.6"/><circle cx="217.4" cy="658.2" r="1.6"/><circle cx="148.2" cy="619.8" r="1.6"/><circle cx="226.7" cy="656.4" r="1.6"/><circle cx="206.5" cy="667.1" r="1.6"/><circle cx="196.6" cy="673.9" r="1.6"/><circle cx="168.1" cy="619.2" r="1.6"/><circle cx="239.5" cy="622.7" r="1.6"/><circle cx="193.6" cy="661.2" r="1.6"/><circle cx="210.8" cy="666.8" r="1.6"/><circle cx="176.9" cy="656.5" r="1.6"/><circle cx="148.5" cy="611.8" r="1.6"/><circle cx="187.5" cy="670.5" r="1.6"/><circle cx="212.7" cy="622.6" r="1.6"/><circle cx="189.8" cy="672.8" r="1.6"/><circle cx="201.5" cy="675.4" r="1.6"/><circle cx="213.5" cy="667.2" r="1.6"/><circle cx="216.5" cy="647.6" r="1.6"/><circle cx="127.7" cy="621.3" r="1.6"/><circle cx="230.5" cy="586.0" r="1.6"/><circle cx="199.3" cy="676.1" r="1.6"/><circle cx="232.9" cy="646.5" r="1.6"/><circle cx="193.0" cy="674.1" r="1.6"/><circle cx="203.9" cy="670.8" r="1.6"/><circle cx="188.4" cy="672.1" r="1.6"/><circle cx="202.0" cy="675.7" r="1.6"/><circle cx="177.5" cy="641.0" r="1.6"/><circle cx="201.4" cy="675.0" r="1.6"/><circle cx="208.7" cy="665.9" r="1.6"/><circle cx="193.2" cy="674.2" r="1.6"/><circle cx="195.3" cy="669.4" r="1.6"/><circle cx="202.3" cy="673.7" r="1.6"/><circle cx="218.9" cy="639.2" r="1.6"/><circle cx="172.0" cy="642.6" r="1.6"/><circle cx="142.9" cy="637.1" r="1.6"/><circle cx="148.8" cy="637.6" r="1.6"/><circle cx="187.8" cy="672.8" r="1.6"/><circle cx="207.9" cy="664.1" r="1.6"/><circle cx="196.2" cy="672.9" r="1.6"/><circle cx="195.9" cy="675.4" r="1.6"/><circle cx="204.9" cy="671.5" r="1.6"/><circle cx="214.0" cy="625.7" r="1.6"/><circle cx="202.6" cy="667.3" r="1.6"/><circle cx="188.0" cy="642.4" r="1.6"/><circle cx="201.0" cy="675.0" r="1.6"/><circle cx="158.1" cy="636.5" r="1.6"/><circle cx="188.3" cy="667.9" r="1.6"/><circle cx="203.8" cy="667.3" r="1.6"/><circle cx="205.3" cy="669.5" r="1.6"/><circle cx="202.3" cy="671.6" r="1.6"/><circle cx="191.6" cy="669.8" r="1.6"/><circle cx="182.7" cy="640.9" r="1.6"/><circle cx="204.1" cy="669.5" r="1.6"/><circle cx="186.0" cy="637.3" r="1.6"/><circle cx="230.1" cy="651.6" r="1.6"/><circle cx="225.5" cy="604.1" r="1.6"/><circle cx="201.4" cy="676.2" r="1.6"/><circle cx="210.0" cy="653.5" r="1.6"/><circle cx="215.9" cy="654.8" r="1.6"/><circle cx="222.6" cy="623.2" r="1.6"/><circle cx="205.7" cy="673.4" r="1.6"/><circle cx="164.7" cy="661.5" r="1.6"/><circle cx="202.1" cy="670.5" r="1.6"/><circle cx="225.3" cy="646.6" r="1.6"/><circle cx="144.5" cy="648.1" r="1.6"/><circle cx="202.8" cy="674.0" r="1.6"/><circle cx="183.9" cy="633.5" r="1.6"/><circle cx="216.4" cy="658.2" r="1.6"/><circle cx="166.8" cy="629.3" r="1.6"/><circle cx="203.5" cy="670.8" r="1.6"/><circle cx="204.6" cy="672.3" r="1.6"/><circle cx="213.7" cy="665.2" r="1.6"/><circle cx="210.9" cy="666.8" r="1.6"/><circle cx="231.5" cy="646.0" r="1.6"/><circle cx="138.6" cy="645.2" r="1.6"/><circle cx="213.9" cy="657.8" r="1.6"/><circle cx="203.3" cy="674.7" r="1.6"/><circle cx="180.8" cy="646.9" r="1.6"/><circle cx="204.4" cy="670.6" r="1.6"/><circle cx="229.7" cy="657.5" r="1.6"/><circle cx="242.4" cy="593.8" r="1.6"/><circle cx="203.2" cy="672.4" r="1.6"/><circle cx="201.9" cy="675.3" r="1.6"/><circle cx="193.0" cy="645.9" r="1.6"/><circle cx="206.2" cy="656.3" r="1.6"/><circle cx="226.8" cy="658.3" r="1.6"/><circle cx="228.6" cy="604.9" r="1.6"/><circle cx="153.5" cy="650.5" r="1.6"/><circle cx="253.4" cy="648.5" r="1.6"/><circle cx="203.3" cy="674.7" r="1.6"/><circle cx="176.5" cy="586.1" r="1.6"/><circle cx="212.1" cy="671.8" r="1.6"/><circle cx="257.6" cy="643.9" r="1.6"/><circle cx="242.0" cy="601.9" r="1.6"/><circle cx="229.2" cy="602.6" r="1.6"/><circle cx="208.7" cy="648.9" r="1.6"/><circle cx="210.2" cy="653.7" r="1.6"/><circle cx="191.6" cy="670.9" r="1.6"/><circle cx="193.6" cy="668.9" r="1.6"/><circle cx="219.7" cy="672.1" r="1.6"/><circle cx="160.2" cy="613.6" r="1.6"/><circle cx="150.4" cy="641.9" r="1.6"/><circle cx="205.8" cy="672.6" r="1.6"/><circle cx="215.2" cy="666.9" r="1.6"/><circle cx="125.4" cy="612.7" r="1.6"/><circle cx="179.0" cy="667.8" r="1.6"/><circle cx="206.8" cy="660.0" r="1.6"/><circle cx="208.2" cy="672.1" r="1.6"/><circle cx="229.4" cy="663.6" r="1.6"/><circle cx="165.7" cy="653.2" r="1.6"/><circle cx="198.3" cy="674.8" r="1.6"/><circle cx="203.4" cy="674.7" r="1.6"/><circle cx="161.4" cy="641.0" r="1.6"/><circle cx="201.6" cy="674.3" r="1.6"/><circle cx="171.5" cy="634.4" r="1.6"/><circle cx="224.3" cy="595.7" r="1.6"/><circle cx="209.7" cy="661.2" r="1.6"/><circle cx="134.8" cy="591.0" r="1.6"/><circle cx="204.3" cy="666.6" r="1.6"/><circle cx="203.0" cy="667.0" r="1.6"/><circle cx="219.9" cy="635.5" r="1.6"/><circle cx="202.2" cy="673.4" r="1.6"/><circle cx="177.7" cy="662.1" r="1.6"/><circle cx="222.2" cy="638.4" r="1.6"/><circle cx="201.0" cy="675.8" r="1.6"/><circle cx="262.6" cy="598.1" r="1.6"/><circle cx="148.6" cy="575.5" r="1.6"/><circle cx="180.6" cy="649.1" r="1.6"/><circle cx="214.2" cy="654.9" r="1.6"/><circle cx="166.5" cy="646.7" r="1.6"/><circle cx="197.7" cy="670.9" r="1.6"/><circle cx="238.6" cy="613.7" r="1.6"/><circle cx="160.5" cy="639.4" r="1.6"/><circle cx="200.0" cy="676.6" r="1.6"/><circle cx="150.2" cy="617.9" r="1.6"/><circle cx="143.7" cy="569.6" r="1.6"/><circle cx="201.1" cy="675.8" r="1.6"/><circle cx="229.1" cy="589.6" r="1.6"/><circle cx="192.5" cy="660.3" r="1.6"/><circle cx="202.4" cy="675.4" r="1.6"/><circle cx="188.6" cy="664.3" r="1.6"/><circle cx="193.3" cy="663.9" r="1.6"/><circle cx="212.3" cy="663.7" r="1.6"/><circle cx="197.9" cy="675.6" r="1.6"/><circle cx="182.7" cy="664.2" r="1.6"/><circle cx="147.4" cy="596.9" r="1.6"/><circle cx="218.9" cy="657.1" r="1.6"/><circle cx="180.2" cy="645.5" r="1.6"/><circle cx="202.0" cy="672.6" r="1.6"/><circle cx="217.6" cy="648.6" r="1.6"/><circle cx="227.7" cy="667.2" r="1.6"/><circle cx="198.3" cy="674.5" r="1.6"/><circle cx="153.2" cy="620.8" r="1.6"/><circle cx="212.5" cy="658.4" r="1.6"/><circle cx="179.6" cy="651.2" r="1.6"/><circle cx="241.9" cy="646.5" r="1.6"/><circle cx="190.1" cy="664.6" r="1.6"/><circle cx="215.3" cy="661.3" r="1.6"/><circle cx="181.0" cy="663.5" r="1.6"/><circle cx="199.0" cy="675.0" r="1.6"/><circle cx="232.9" cy="568.9" r="1.6"/><circle cx="232.4" cy="653.5" r="1.6"/><circle cx="212.1" cy="659.6" r="1.6"/><circle cx="195.5" cy="671.0" r="1.6"/><circle cx="179.4" cy="657.9" r="1.6"/><circle cx="212.4" cy="582.0" r="1.6"/><circle cx="250.0" cy="663.0" r="1.6"/><circle cx="128.8" cy="613.0" r="1.6"/><circle cx="221.8" cy="635.2" r="1.6"/><circle cx="209.9" cy="649.4" r="1.6"/><circle cx="227.4" cy="584.7" r="1.6"/><circle cx="194.7" cy="673.2" r="1.6"/><circle cx="216.5" cy="661.9" r="1.6"/><circle cx="241.1" cy="627.2" r="1.6"/><circle cx="182.3" cy="618.0" r="1.6"/><circle cx="203.3" cy="672.2" r="1.6"/><circle cx="202.1" cy="674.0" r="1.6"/><circle cx="211.5" cy="660.2" r="1.6"/><circle cx="186.1" cy="654.8" r="1.6"/><circle cx="205.3" cy="664.3" r="1.6"/><circle cx="181.5" cy="665.7" r="1.6"/><circle cx="195.5" cy="672.4" r="1.6"/><circle cx="204.4" cy="663.8" r="1.6"/><circle cx="231.0" cy="637.6" r="1.6"/><circle cx="213.2" cy="657.5" r="1.6"/><circle cx="190.7" cy="663.9" r="1.6"/><circle cx="204.9" cy="670.6" r="1.6"/><circle cx="213.1" cy="657.0" r="1.6"/><circle cx="170.0" cy="624.6" r="1.6"/><circle cx="209.0" cy="664.2" r="1.6"/><circle cx="169.9" cy="660.8" r="1.6"/><circle cx="165.0" cy="630.3" r="1.6"/><circle cx="200.6" cy="672.1" r="1.6"/><circle cx="209.6" cy="644.4" r="1.6"/><circle cx="147.3" cy="628.4" r="1.6"/><circle cx="221.7" cy="646.8" r="1.6"/><circle cx="246.1" cy="588.9" r="1.6"/><circle cx="187.5" cy="650.1" r="1.6"/><circle cx="216.4" cy="666.7" r="1.6"/><circle cx="193.0" cy="675.1" r="1.6"/><circle cx="193.9" cy="661.4" r="1.6"/><circle cx="204.5" cy="674.5" r="1.6"/><circle cx="189.2" cy="633.9" r="1.6"/><circle cx="222.4" cy="646.9" r="1.6"/><circle cx="228.8" cy="612.7" r="1.6"/><circle cx="208.9" cy="671.7" r="1.6"/><circle cx="189.7" cy="657.8" r="1.6"/><circle cx="201.7" cy="671.4" r="1.6"/><circle cx="213.2" cy="667.3" r="1.6"/><circle cx="178.1" cy="635.2" r="1.6"/><circle cx="213.9" cy="613.8" r="1.6"/><circle cx="178.2" cy="669.8" r="1.6"/><circle cx="262.3" cy="632.6" r="1.6"/><circle cx="166.3" cy="618.4" r="1.6"/><circle cx="201.2" cy="673.4" r="1.6"/><circle cx="200.4" cy="676.4" r="1.6"/><circle cx="227.2" cy="659.7" r="1.6"/><circle cx="171.8" cy="629.8" r="1.6"/><circle cx="200.3" cy="676.3" r="1.6"/><circle cx="226.1" cy="628.7" r="1.6"/><circle cx="204.9" cy="665.4" r="1.6"/><circle cx="244.9" cy="599.2" r="1.6"/><circle cx="210.2" cy="643.4" r="1.6"/><circle cx="202.5" cy="670.4" r="1.6"/><circle cx="217.5" cy="625.3" r="1.6"/><circle cx="221.7" cy="663.7" r="1.6"/><circle cx="176.1" cy="624.3" r="1.6"/><circle cx="213.4" cy="661.4" r="1.6"/><circle cx="228.7" cy="585.5" r="1.6"/><circle cx="198.8" cy="673.5" r="1.6"/><circle cx="244.9" cy="653.9" r="1.6"/><circle cx="201.6" cy="673.8" r="1.6"/><circle cx="181.3" cy="662.6" r="1.6"/><circle cx="218.1" cy="660.5" r="1.6"/><circle cx="215.6" cy="661.6" r="1.6"/><circle cx="181.8" cy="634.1" r="1.6"/><circle cx="180.4" cy="670.8" r="1.6"/><circle cx="170.3" cy="641.2" r="1.6"/><circle cx="157.5" cy="654.1" r="1.6"/><circle cx="172.3" cy="664.2" r="1.6"/><circle cx="193.6" cy="653.1" r="1.6"/><circle cx="199.2" cy="674.5" r="1.6"/><circle cx="206.4" cy="646.7" r="1.6"/><circle cx="184.1" cy="652.8" r="1.6"/><circle cx="191.2" cy="633.5" r="1.6"/><circle cx="212.6" cy="644.0" r="1.6"/><circle cx="204.9" cy="671.5" r="1.6"/><circle cx="177.6" cy="643.3" r="1.6"/><circle cx="238.1" cy="631.2" r="1.6"/><circle cx="144.3" cy="618.3" r="1.6"/><circle cx="197.0" cy="673.9" r="1.6"/><circle cx="204.3" cy="674.0" r="1.6"/><circle cx="202.4" cy="676.0" r="1.6"/><circle cx="196.1" cy="674.0" r="1.6"/><circle cx="211.0" cy="665.0" r="1.6"/><circle cx="191.5" cy="665.7" r="1.6"/><circle cx="238.6" cy="630.4" r="1.6"/><circle cx="179.9" cy="668.2" r="1.6"/><circle cx="194.5" cy="671.2" r="1.6"/><circle cx="189.8" cy="671.7" r="1.6"/><circle cx="191.6" cy="667.7" r="1.6"/><circle cx="179.2" cy="669.6" r="1.6"/><circle cx="208.8" cy="663.8" r="1.6"/><circle cx="200.2" cy="676.5" r="1.6"/><circle cx="201.5" cy="664.9" r="1.6"/><circle cx="200.9" cy="675.6" r="1.6"/><circle cx="174.3" cy="656.6" r="1.6"/><circle cx="211.9" cy="630.4" r="1.6"/><circle cx="239.5" cy="652.5" r="1.6"/><circle cx="189.0" cy="670.9" r="1.6"/><circle cx="176.9" cy="658.1" r="1.6"/><circle cx="235.4" cy="593.8" r="1.6"/><circle cx="221.1" cy="638.5" r="1.6"/><circle cx="182.4" cy="670.5" r="1.6"/><circle cx="201.3" cy="676.1" r="1.6"/><circle cx="212.4" cy="668.1" r="1.6"/><circle cx="242.7" cy="599.7" r="1.6"/><circle cx="202.7" cy="675.1" r="1.6"/><circle cx="235.2" cy="665.5" r="1.6"/><circle cx="198.7" cy="675.7" r="1.6"/><circle cx="214.1" cy="668.5" r="1.6"/><circle cx="215.1" cy="669.9" r="1.6"/><circle cx="194.3" cy="675.3" r="1.6"/><circle cx="239.7" cy="653.7" r="1.6"/><circle cx="213.9" cy="631.5" r="1.6"/><circle cx="184.7" cy="657.4" r="1.6"/><circle cx="206.0" cy="664.9" r="1.6"/><circle cx="219.4" cy="672.9" r="1.6"/><circle cx="204.0" cy="674.8" r="1.6"/><circle cx="204.1" cy="665.7" r="1.6"/><circle cx="222.5" cy="656.6" r="1.6"/><circle cx="189.4" cy="670.6" r="1.6"/><circle cx="199.7" cy="676.3" r="1.6"/><circle cx="254.7" cy="641.0" r="1.6"/><circle cx="187.1" cy="668.6" r="1.6"/><circle cx="170.3" cy="602.3" r="1.6"/><circle cx="162.4" cy="653.2" r="1.6"/><circle cx="208.6" cy="671.2" r="1.6"/><circle cx="155.2" cy="605.5" r="1.6"/><circle cx="167.6" cy="636.1" r="1.6"/><circle cx="209.4" cy="668.4" r="1.6"/><circle cx="223.4" cy="611.1" r="1.6"/><circle cx="217.0" cy="670.9" r="1.6"/><circle cx="188.3" cy="673.3" r="1.6"/><circle cx="197.3" cy="669.7" r="1.6"/><circle cx="201.5" cy="674.9" r="1.6"/><circle cx="161.3" cy="605.1" r="1.6"/><circle cx="195.3" cy="662.2" r="1.6"/><circle cx="225.9" cy="644.4" r="1.6"/><circle cx="196.4" cy="664.9" r="1.6"/><circle cx="184.7" cy="671.1" r="1.6"/><circle cx="232.7" cy="659.8" r="1.6"/><circle cx="201.2" cy="674.9" r="1.6"/><circle cx="214.8" cy="672.2" r="1.6"/><circle cx="239.8" cy="602.6" r="1.6"/><circle cx="208.9" cy="615.3" r="1.6"/><circle cx="207.2" cy="667.1" r="1.6"/><circle cx="156.5" cy="649.3" r="1.6"/><circle cx="210.8" cy="663.9" r="1.6"/><circle cx="229.5" cy="654.1" r="1.6"/><circle cx="229.0" cy="622.0" r="1.6"/><circle cx="183.8" cy="637.7" r="1.6"/><circle cx="206.8" cy="674.5" r="1.6"/><circle cx="220.8" cy="661.9" r="1.6"/><circle cx="221.9" cy="662.6" r="1.6"/><circle cx="204.5" cy="667.4" r="1.6"/><circle cx="198.4" cy="676.2" r="1.6"/><circle cx="204.4" cy="671.0" r="1.6"/><circle cx="196.7" cy="668.8" r="1.6"/><circle cx="193.8" cy="673.3" r="1.6"/><circle cx="187.2" cy="655.9" r="1.6"/><circle cx="206.7" cy="626.6" r="1.6"/><circle cx="231.1" cy="596.3" r="1.6"/><circle cx="241.1" cy="574.7" r="1.6"/><circle cx="236.2" cy="664.4" r="1.6"/><circle cx="195.7" cy="672.1" r="1.6"/><circle cx="229.5" cy="652.6" r="1.6"/><circle cx="225.5" cy="633.9" r="1.6"/><circle cx="201.2" cy="673.1" r="1.6"/><circle cx="201.0" cy="674.8" r="1.6"/><circle cx="205.2" cy="667.2" r="1.6"/><circle cx="158.9" cy="577.5" r="1.6"/><circle cx="150.9" cy="600.0" r="1.6"/><circle cx="234.4" cy="619.9" r="1.6"/><circle cx="154.5" cy="621.9" r="1.6"/><circle cx="221.7" cy="650.3" r="1.6"/><circle cx="130.4" cy="596.6" r="1.6"/><circle cx="255.7" cy="616.1" r="1.6"/><circle cx="228.0" cy="652.4" r="1.6"/><circle cx="140.7" cy="650.0" r="1.6"/><circle cx="155.2" cy="653.5" r="1.6"/><circle cx="215.2" cy="661.0" r="1.6"/><circle cx="198.1" cy="673.6" r="1.6"/><circle cx="201.6" cy="675.5" r="1.6"/><circle cx="211.4" cy="669.6" r="1.6"/><circle cx="187.4" cy="633.2" r="1.6"/><circle cx="220.9" cy="614.1" r="1.6"/><circle cx="239.2" cy="614.3" r="1.6"/><circle cx="176.0" cy="657.1" r="1.6"/><circle cx="239.8" cy="630.4" r="1.6"/><circle cx="203.6" cy="673.4" r="1.6"/><circle cx="233.4" cy="621.0" r="1.6"/><circle cx="221.1" cy="667.5" r="1.6"/><circle cx="206.8" cy="669.2" r="1.6"/><circle cx="197.6" cy="675.0" r="1.6"/><circle cx="194.0" cy="668.2" r="1.6"/><circle cx="194.6" cy="671.0" r="1.6"/><circle cx="211.8" cy="586.4" r="1.6"/><circle cx="199.9" cy="676.5" r="1.6"/><circle cx="206.3" cy="654.7" r="1.6"/><circle cx="193.7" cy="659.8" r="1.6"/><circle cx="200.9" cy="675.8" r="1.6"/><circle cx="205.8" cy="671.7" r="1.6"/><circle cx="200.6" cy="676.1" r="1.6"/><circle cx="221.7" cy="618.6" r="1.6"/><circle cx="200.4" cy="674.0" r="1.6"/><circle cx="205.4" cy="638.8" r="1.6"/><circle cx="182.9" cy="672.1" r="1.6"/><circle cx="250.7" cy="640.0" r="1.6"/><circle cx="204.5" cy="656.2" r="1.6"/><circle cx="204.8" cy="672.2" r="1.6"/><circle cx="164.0" cy="601.2" r="1.6"/><circle cx="251.8" cy="644.5" r="1.6"/><circle cx="212.4" cy="670.9" r="1.6"/><circle cx="190.1" cy="650.3" r="1.6"/><circle cx="209.4" cy="670.2" r="1.6"/><circle cx="257.2" cy="601.3" r="1.6"/><circle cx="178.0" cy="627.3" r="1.6"/><circle cx="208.2" cy="666.5" r="1.6"/><circle cx="183.6" cy="665.6" r="1.6"/><circle cx="194.0" cy="674.8" r="1.6"/><circle cx="200.7" cy="674.7" r="1.6"/><circle cx="206.2" cy="646.5" r="1.6"/><circle cx="208.6" cy="669.2" r="1.6"/><circle cx="237.0" cy="659.4" r="1.6"/><circle cx="199.6" cy="676.2" r="1.6"/><circle cx="196.2" cy="674.8" r="1.6"/><circle cx="245.7" cy="653.5" r="1.6"/><circle cx="131.3" cy="635.0" r="1.6"/><circle cx="208.8" cy="670.0" r="1.6"/><circle cx="208.1" cy="614.4" r="1.6"/><circle cx="204.5" cy="665.1" r="1.6"/><circle cx="241.0" cy="653.7" r="1.6"/><circle cx="218.2" cy="649.9" r="1.6"/><circle cx="198.5" cy="675.3" r="1.6"/><circle cx="227.3" cy="593.4" r="1.6"/><circle cx="181.0" cy="626.0" r="1.6"/><circle cx="208.4" cy="644.3" r="1.6"/><circle cx="232.5" cy="616.1" r="1.6"/><circle cx="189.3" cy="654.9" r="1.6"/><circle cx="181.4" cy="671.2" r="1.6"/><circle cx="185.0" cy="673.1" r="1.6"/><circle cx="216.7" cy="664.9" r="1.6"/><circle cx="171.1" cy="658.9" r="1.6"/><circle cx="220.5" cy="658.8" r="1.6"/><circle cx="213.2" cy="643.0" r="1.6"/><circle cx="165.3" cy="574.9" r="1.6"/><circle cx="136.0" cy="629.3" r="1.6"/><circle cx="225.0" cy="659.7" r="1.6"/><circle cx="186.2" cy="643.0" r="1.6"/><circle cx="187.3" cy="644.2" r="1.6"/><circle cx="209.5" cy="659.0" r="1.6"/><circle cx="161.5" cy="577.9" r="1.6"/><circle cx="192.8" cy="667.9" r="1.6"/><circle cx="191.2" cy="673.6" r="1.6"/><circle cx="209.5" cy="670.9" r="1.6"/><circle cx="188.7" cy="667.4" r="1.6"/><circle cx="192.7" cy="674.2" r="1.6"/><circle cx="203.3" cy="674.5" r="1.6"/><circle cx="219.3" cy="652.9" r="1.6"/><circle cx="214.3" cy="662.6" r="1.6"/><circle cx="184.8" cy="665.4" r="1.6"/><circle cx="213.7" cy="620.3" r="1.6"/><circle cx="205.3" cy="664.5" r="1.6"/><circle cx="226.1" cy="613.6" r="1.6"/><circle cx="218.3" cy="654.9" r="1.6"/><circle cx="241.4" cy="642.0" r="1.6"/><circle cx="219.9" cy="663.5" r="1.6"/><circle cx="191.0" cy="632.4" r="1.6"/><circle cx="188.3" cy="662.9" r="1.6"/><circle cx="201.0" cy="675.7" r="1.6"/><circle cx="170.2" cy="589.9" r="1.6"/><circle cx="212.4" cy="659.7" r="1.6"/><circle cx="209.0" cy="670.3" r="1.6"/><circle cx="212.3" cy="667.5" r="1.6"/><circle cx="201.2" cy="674.6" r="1.6"/><circle cx="158.1" cy="580.9" r="1.6"/><circle cx="208.4" cy="615.7" r="1.6"/><circle cx="189.6" cy="670.2" r="1.6"/><circle cx="214.0" cy="672.5" r="1.6"/><circle cx="244.1" cy="618.6" r="1.6"/><circle cx="178.3" cy="611.0" r="1.6"/><circle cx="200.3" cy="676.1" r="1.6"/><circle cx="206.7" cy="665.9" r="1.6"/><circle cx="164.4" cy="586.5" r="1.6"/><circle cx="190.6" cy="669.0" r="1.6"/><circle cx="160.3" cy="618.4" r="1.6"/><circle cx="219.3" cy="658.9" r="1.6"/><circle cx="119.6" cy="594.0" r="1.6"/><circle cx="217.4" cy="645.4" r="1.6"/><circle cx="175.6" cy="584.8" r="1.6"/><circle cx="199.8" cy="676.5" r="1.6"/><circle cx="236.7" cy="644.9" r="1.6"/><circle cx="203.3" cy="674.3" r="1.6"/><circle cx="206.0" cy="663.1" r="1.6"/><circle cx="158.7" cy="638.4" r="1.6"/><circle cx="219.0" cy="660.5" r="1.6"/><circle cx="211.3" cy="654.8" r="1.6"/><circle cx="163.2" cy="624.7" r="1.6"/><circle cx="210.0" cy="627.2" r="1.6"/><circle cx="209.6" cy="663.1" r="1.6"/><circle cx="201.8" cy="675.0" r="1.6"/><circle cx="195.4" cy="673.7" r="1.6"/><circle cx="234.2" cy="623.8" r="1.6"/><circle cx="230.0" cy="651.2" r="1.6"/><circle cx="30.7" cy="602.6" r="1.6"/><circle cx="64.2" cy="607.3" r="1.6"/><circle cx="65.7" cy="639.4" r="1.6"/><circle cx="78.2" cy="609.0" r="1.6"/><circle cx="78.8" cy="631.5" r="1.6"/><circle cx="84.7" cy="607.6" r="1.6"/><circle cx="88.5" cy="619.9" r="1.6"/><circle cx="94.0" cy="613.4" r="1.6"/><circle cx="96.4" cy="617.5" r="1.6"/><circle cx="105.7" cy="624.1" r="1.6"/><circle cx="111.8" cy="626.6" r="1.6"/><circle cx="113.9" cy="622.8" r="1.6"/><circle cx="118.2" cy="636.4" r="1.6"/><circle cx="112.4" cy="649.6" r="1.6"/><circle cx="114.7" cy="649.6" r="1.6"/><circle cx="117.5" cy="630.5" r="1.6"/><circle cx="283.3" cy="606.8" r="1.6"/><circle cx="271.4" cy="600.7" r="1.6"/><circle cx="274.1" cy="606.0" r="1.6"/><circle cx="270.7" cy="610.4" r="1.6"/><circle cx="264.1" cy="604.7" r="1.6"/><circle cx="279.3" cy="618.3" r="1.6"/><circle cx="280.6" cy="635.7" r="1.6"/><circle cx="268.8" cy="631.5" r="1.6"/><circle cx="272.8" cy="642.0" r="1.6"/><circle cx="274.6" cy="644.1" r="1.6"/><circle cx="287.7" cy="626.2" r="1.6"/><circle cx="290.4" cy="630.4" r="1.6"/><circle cx="293.0" cy="630.4" r="1.6"/><circle cx="290.6" cy="616.5" r="1.6"/><circle cx="294.3" cy="615.7" r="1.6"/><circle cx="297.7" cy="618.3" r="1.6"/><circle cx="304.8" cy="602.0" r="1.6"/><circle cx="308.8" cy="616.0" r="1.6"/><circle cx="312.2" cy="645.9" r="1.6"/><circle cx="315.6" cy="609.1" r="1.6"/><circle cx="317.2" cy="617.0" r="1.6"/><circle cx="320.0" cy="596.8" r="1.6"/><circle cx="323.2" cy="644.9" r="1.6"/><circle cx="325.8" cy="644.9" r="1.6"/><circle cx="335.8" cy="592.0" r="1.6"/><circle cx="340.3" cy="612.5" r="1.6"/><circle cx="285.9" cy="578.9" r="1.6"/><circle cx="266.0" cy="640.0" r="1.6"/><circle cx="265.0" cy="622.0" r="1.6"/><circle cx="269.0" cy="620.0" r="1.6"/><circle cx="276.0" cy="627.0" r="1.6"/><circle cx="15.7" cy="597.5" r="1.6"/><circle cx="15.7" cy="599.0" r="1.6"/><circle cx="15.7" cy="600.5" r="1.6"/><circle cx="15.7" cy="602.0" r="1.6"/><circle cx="15.7" cy="603.5" r="1.6"/><circle cx="15.7" cy="605.0" r="1.6"/><circle cx="15.7" cy="606.5" r="1.6"/><circle cx="15.7" cy="608.0" r="1.6"/><circle cx="15.7" cy="609.5" r="1.6"/><circle cx="15.7" cy="611.0" r="1.6"/><circle cx="15.7" cy="612.5" r="1.6"/><circle cx="15.7" cy="614.0" r="1.6"/><circle cx="15.7" cy="615.5" r="1.6"/><circle cx="15.7" cy="617.0" r="1.6"/><circle cx="15.7" cy="618.5" r="1.6"/><circle cx="15.7" cy="620.0" r="1.6"/><circle cx="15.7" cy="621.5" r="1.6"/><circle cx="15.7" cy="623.0" r="1.6"/><circle cx="15.7" cy="624.5" r="1.6"/><circle cx="15.7" cy="626.0" r="1.6"/><circle cx="15.7" cy="627.5" r="1.6"/><circle cx="15.7" cy="629.0" r="1.6"/><circle cx="15.7" cy="630.5" r="1.6"/><circle cx="15.7" cy="632.0" r="1.6"/><circle cx="15.7" cy="633.5" r="1.6"/><circle cx="15.7" cy="635.0" r="1.6"/><circle cx="15.7" cy="636.5" r="1.6"/><circle cx="15.7" cy="638.0" r="1.6"/><circle cx="15.7" cy="639.5" r="1.6"/><circle cx="15.7" cy="641.0" r="1.6"/><circle cx="355.0" cy="598.4" r="1.6"/><circle cx="355.0" cy="604.2" r="1.6"/><circle cx="355.0" cy="605.6" r="1.6"/><circle cx="355.0" cy="613.8" r="1.6"/><circle cx="355.0" cy="615.8" r="1.6"/><circle cx="355.0" cy="621.5" r="1.6"/><circle cx="355.0" cy="625.6" r="1.6"/><circle cx="355.0" cy="640.0" r="1.6"/></g>
<g fill="#ff1f10"><circle cx="166.2" cy="441.4" r="1.75"/><circle cx="158.3" cy="480.3" r="1.75"/><circle cx="124.7" cy="493.0" r="1.75"/><circle cx="90.0" cy="501.6" r="1.75"/><circle cx="122.6" cy="518.6" r="1.75"/><circle cx="128.4" cy="519.2" r="1.75"/><circle cx="133.7" cy="516.0" r="1.75"/><circle cx="91.6" cy="550.0" r="1.75"/><circle cx="117.8" cy="550.0" r="1.75"/><circle cx="141.2" cy="560.7" r="1.75"/><circle cx="170.0" cy="567.1" r="1.75"/><circle cx="261.6" cy="433.9" r="1.75"/><circle cx="296.3" cy="467.5" r="1.75"/><circle cx="227.5" cy="470.1" r="1.75"/><circle cx="225.9" cy="484.0" r="1.75"/><circle cx="217.4" cy="504.2" r="1.75"/><circle cx="264.3" cy="510.1" r="1.75"/><circle cx="224.9" cy="520.8" r="1.75"/><circle cx="243.5" cy="533.0" r="1.75"/><circle cx="212.6" cy="531.9" r="1.75"/><circle cx="217.4" cy="537.8" r="1.75"/><circle cx="208.3" cy="542.6" r="1.75"/><circle cx="242.4" cy="541.5" r="1.75"/><circle cx="257.4" cy="538.3" r="1.75"/><circle cx="260.0" cy="541.0" r="1.75"/><circle cx="338.4" cy="537.3" r="1.75"/><circle cx="228.6" cy="554.9" r="1.75"/><circle cx="232.3" cy="553.8" r="1.75"/><circle cx="239.8" cy="557.5" r="1.75"/><circle cx="254.7" cy="561.8" r="1.75"/><circle cx="261.6" cy="561.8" r="1.75"/><circle cx="270.7" cy="556.5" r="1.75"/><circle cx="275.0" cy="564.4" r="1.75"/><circle cx="299.5" cy="566.6" r="1.75"/><circle cx="222.2" cy="566.0" r="1.75"/><circle cx="230.2" cy="565.5" r="1.75"/><circle cx="232.3" cy="567.1" r="1.75"/></g>
<rect x="15.2" y="422.5" width="340.3" height="265.1" fill="none" stroke="#a8a8a8" stroke-width="0.8"/>
<line x1="13.80" y1="676.60" x2="15.20" y2="676.60" stroke="#777" stroke-width="0.6"/>
<text x="12.00" y="678.80" font-size="6.3" text-anchor="end" fill="#555">0</text>
<line x1="13.80" y1="593.20" x2="15.20" y2="593.20" stroke="#777" stroke-width="0.6"/>
<text x="12.00" y="595.40" font-size="6.3" text-anchor="end" fill="#555">1</text>
<line x1="13.80" y1="509.80" x2="15.20" y2="509.80" stroke="#777" stroke-width="0.6"/>
<text x="12.00" y="512.00" font-size="6.3" text-anchor="end" fill="#555">2</text>
<line x1="13.80" y1="426.40" x2="15.20" y2="426.40" stroke="#777" stroke-width="0.6"/>
<text x="12.00" y="428.60" font-size="6.3" text-anchor="end" fill="#555">3</text>
<line x1="36.50" y1="687.60" x2="36.50" y2="689.00" stroke="#777" stroke-width="0.6"/>
<text x="36.50" y="696.40" font-size="6.3" text-anchor="middle" fill="#555">-3</text>
<line x1="91.00" y1="687.60" x2="91.00" y2="689.00" stroke="#777" stroke-width="0.6"/>
<text x="91.00" y="696.40" font-size="6.3" text-anchor="middle" fill="#555">-2</text>
<line x1="145.50" y1="687.60" x2="145.50" y2="689.00" stroke="#777" stroke-width="0.6"/>
<text x="145.50" y="696.40" font-size="6.3" text-anchor="middle" fill="#555">-1</text>
<line x1="200.00" y1="687.60" x2="200.00" y2="689.00" stroke="#777" stroke-width="0.6"/>
<text x="200.00" y="696.40" font-size="6.3" text-anchor="middle" fill="#555">0</text>
<line x1="254.50" y1="687.60" x2="254.50" y2="689.00" stroke="#777" stroke-width="0.6"/>
<text x="254.50" y="696.40" font-size="6.3" text-anchor="middle" fill="#555">1</text>
<line x1="309.00" y1="687.60" x2="309.00" y2="689.00" stroke="#777" stroke-width="0.6"/>
<text x="309.00" y="696.40" font-size="6.3" text-anchor="middle" fill="#555">2</text>
<text x="185.30" y="704.70" font-size="7.3" text-anchor="middle" fill="#333">log(Fold.Change)</text>
<text x="7.20" y="555.80" font-size="7.3" text-anchor="middle" fill="#333" transform="rotate(-90 7.20 555.80)">-log10(p.value)</text>
<text x="369.40" y="411.70" font-size="14.6" text-anchor="start" font-weight="bold" fill="#111">E</text>
<line x1="414.20" y1="639.10" x2="414.20" y2="433.00" stroke="#111" stroke-width="1.2"/>
<line x1="410.20" y1="638.50" x2="414.20" y2="638.50" stroke="#111" stroke-width="1.1"/>
<text x="409.20" y="641.20" font-size="7.6" text-anchor="end" font-weight="bold" fill="#111">0</text>
<line x1="410.20" y1="597.55" x2="414.20" y2="597.55" stroke="#111" stroke-width="1.1"/>
<text x="409.20" y="600.25" font-size="7.6" text-anchor="end" font-weight="bold" fill="#111">10</text>
<line x1="410.20" y1="556.60" x2="414.20" y2="556.60" stroke="#111" stroke-width="1.1"/>
<text x="409.20" y="559.30" font-size="7.6" text-anchor="end" font-weight="bold" fill="#111">20</text>
<line x1="410.20" y1="515.65" x2="414.20" y2="515.65" stroke="#111" stroke-width="1.1"/>
<text x="409.20" y="518.35" font-size="7.6" text-anchor="end" font-weight="bold" fill="#111">30</text>
<line x1="410.20" y1="474.70" x2="414.20" y2="474.70" stroke="#111" stroke-width="1.1"/>
<text x="409.20" y="477.40" font-size="7.6" text-anchor="end" font-weight="bold" fill="#111">40</text>
<line x1="410.20" y1="433.75" x2="414.20" y2="433.75" stroke="#111" stroke-width="1.1"/>
<text x="409.20" y="436.45" font-size="7.6" text-anchor="end" font-weight="bold" fill="#111">50</text>
<line x1="414.20" y1="638.50" x2="675.00" y2="638.50" stroke="#111" stroke-width="1.4"/>
<line x1="417.90" y1="638.50" x2="417.90" y2="642.80" stroke="#111" stroke-width="1.4"/>
<rect x="414.60" y="634.40" width="2.5" height="4.09" fill="#666" stroke="#111" stroke-width="0.8"/>
<rect x="418.70" y="636.25" width="2.5" height="2.25" fill="#d86a6a" stroke="#b01818" stroke-width="0.8"/>
<line x1="415.85" y1="634.40" x2="415.85" y2="630.31" stroke="#111" stroke-width="0.8"/>
<line x1="414.80" y1="630.31" x2="416.90" y2="630.31" stroke="#111" stroke-width="0.8"/>
<line x1="419.95" y1="636.25" x2="419.95" y2="632.36" stroke="#c02020" stroke-width="0.8"/>
<line x1="418.90" y1="632.36" x2="421.00" y2="632.36" stroke="#c02020" stroke-width="0.8"/>
<text x="419.50" y="650.10" font-size="8.35" text-anchor="end" fill="#111" transform="rotate(-46.5 419.50 650.10)">alpha-linolenic acid</text>
<line x1="427.27" y1="638.50" x2="427.27" y2="642.80" stroke="#111" stroke-width="1.4"/>
<rect x="423.97" y="634.40" width="2.5" height="4.09" fill="#666" stroke="#111" stroke-width="0.8"/>
<rect x="428.07" y="638.09" width="2.5" height="0.41" fill="#d86a6a" stroke="#b01818" stroke-width="0.8"/>
<line x1="425.22" y1="634.40" x2="425.22" y2="629.49" stroke="#111" stroke-width="0.8"/>
<line x1="424.17" y1="629.49" x2="426.27" y2="629.49" stroke="#111" stroke-width="0.8"/>
<text x="428.87" y="650.10" font-size="8.35" text-anchor="end" fill="#111" transform="rotate(-46.5 428.87 650.10)">Arginine</text>
<line x1="436.65" y1="638.50" x2="436.65" y2="642.80" stroke="#111" stroke-width="1.4"/>
<rect x="433.35" y="634.40" width="2.5" height="4.09" fill="#666" stroke="#111" stroke-width="0.8"/>
<rect x="437.45" y="636.45" width="2.5" height="2.05" fill="#d86a6a" stroke="#b01818" stroke-width="0.8"/>
<text x="438.25" y="650.10" font-size="8.35" text-anchor="end" fill="#111" transform="rotate(-46.5 438.25 650.10)">cGMP</text>
<line x1="446.02" y1="638.50" x2="446.02" y2="642.80" stroke="#111" stroke-width="1.4"/>
<rect x="442.72" y="633.59" width="2.5" height="4.91" fill="#666" stroke="#111" stroke-width="0.8"/>
<rect x="446.82" y="635.63" width="2.5" height="2.87" fill="#d86a6a" stroke="#b01818" stroke-width="0.8"/>
<line x1="443.97" y1="633.59" x2="443.97" y2="631.95" stroke="#111" stroke-width="0.8"/>
<line x1="442.92" y1="631.95" x2="445.02" y2="631.95" stroke="#111" stroke-width="0.8"/>
<text x="447.62" y="650.10" font-size="8.35" text-anchor="end" fill="#111" transform="rotate(-46.5 447.62 650.10)">Citric acid specific</text>
<line x1="455.40" y1="638.50" x2="455.40" y2="642.80" stroke="#111" stroke-width="1.4"/>
<rect x="452.10" y="633.59" width="2.5" height="4.91" fill="#666" stroke="#111" stroke-width="0.8"/>
<rect x="456.20" y="634.40" width="2.5" height="4.09" fill="#d86a6a" stroke="#b01818" stroke-width="0.8"/>
<line x1="453.35" y1="633.59" x2="453.35" y2="632.36" stroke="#111" stroke-width="0.8"/>
<line x1="452.30" y1="632.36" x2="454.40" y2="632.36" stroke="#111" stroke-width="0.8"/>
<text x="457.00" y="650.10" font-size="8.35" text-anchor="end" fill="#111" transform="rotate(-46.5 457.00 650.10)">CMP</text>
<line x1="464.77" y1="638.50" x2="464.77" y2="642.80" stroke="#111" stroke-width="1.4"/>
<rect x="461.47" y="633.59" width="2.5" height="4.91" fill="#666" stroke="#111" stroke-width="0.8"/>
<rect x="465.57" y="634.00" width="2.5" height="4.50" fill="#d86a6a" stroke="#b01818" stroke-width="0.8"/>
<line x1="462.72" y1="633.59" x2="462.72" y2="632.36" stroke="#111" stroke-width="0.8"/>
<line x1="461.67" y1="632.36" x2="463.77" y2="632.36" stroke="#111" stroke-width="0.8"/>
<text x="466.37" y="650.10" font-size="8.35" text-anchor="end" fill="#111" transform="rotate(-46.5 466.37 650.10)">dCTP</text>
<line x1="474.14" y1="638.50" x2="474.14" y2="642.80" stroke="#111" stroke-width="1.4"/>
<rect x="470.84" y="631.54" width="2.5" height="6.96" fill="#666" stroke="#111" stroke-width="0.8"/>
<rect x="474.94" y="632.36" width="2.5" height="6.14" fill="#d86a6a" stroke="#b01818" stroke-width="0.8"/>
<text x="475.74" y="650.10" font-size="8.35" text-anchor="end" fill="#111" transform="rotate(-46.5 475.74 650.10)">dUMP</text>
<line x1="483.52" y1="638.50" x2="483.52" y2="642.80" stroke="#111" stroke-width="1.4"/>
<rect x="480.22" y="634.40" width="2.5" height="4.09" fill="#666" stroke="#111" stroke-width="0.8"/>
<rect x="484.32" y="635.63" width="2.5" height="2.87" fill="#d86a6a" stroke="#b01818" stroke-width="0.8"/>
<line x1="481.47" y1="634.40" x2="481.47" y2="629.49" stroke="#111" stroke-width="0.8"/>
<line x1="480.42" y1="629.49" x2="482.52" y2="629.49" stroke="#111" stroke-width="0.8"/>
<text x="485.12" y="650.10" font-size="8.35" text-anchor="end" fill="#111" transform="rotate(-46.5 485.12 650.10)">Folic acid</text>
<line x1="492.89" y1="638.50" x2="492.89" y2="642.80" stroke="#111" stroke-width="1.4"/>
<rect x="489.59" y="634.40" width="2.5" height="4.09" fill="#666" stroke="#111" stroke-width="0.8"/>
<rect x="493.69" y="629.08" width="2.5" height="9.42" fill="#d86a6a" stroke="#b01818" stroke-width="0.8"/>
<line x1="490.84" y1="634.40" x2="490.84" y2="632.36" stroke="#111" stroke-width="0.8"/>
<line x1="489.79" y1="632.36" x2="491.89" y2="632.36" stroke="#111" stroke-width="0.8"/>
<line x1="494.94" y1="629.08" x2="494.94" y2="623.35" stroke="#c02020" stroke-width="0.8"/>
<line x1="493.89" y1="623.35" x2="495.99" y2="623.35" stroke="#c02020" stroke-width="0.8"/>
<circle cx="494.94" cy="618.43" r="0.7" fill="#d02020" stroke="none" stroke-width="1"/>
<text x="494.49" y="650.10" font-size="8.35" text-anchor="end" fill="#111" transform="rotate(-46.5 494.49 650.10)">G6P</text>
<line x1="502.27" y1="638.50" x2="502.27" y2="642.80" stroke="#111" stroke-width="1.4"/>
<rect x="498.97" y="634.40" width="2.5" height="4.09" fill="#666" stroke="#111" stroke-width="0.8"/>
<rect x="503.07" y="631.13" width="2.5" height="7.37" fill="#d86a6a" stroke="#b01818" stroke-width="0.8"/>
<line x1="500.22" y1="634.40" x2="500.22" y2="631.95" stroke="#111" stroke-width="0.8"/>
<line x1="499.17" y1="631.95" x2="501.27" y2="631.95" stroke="#111" stroke-width="0.8"/>
<line x1="504.32" y1="631.13" x2="504.32" y2="626.62" stroke="#c02020" stroke-width="0.8"/>
<line x1="503.27" y1="626.62" x2="505.37" y2="626.62" stroke="#c02020" stroke-width="0.8"/>
<circle cx="504.32" cy="622.94" r="0.7" fill="#d02020" stroke="none" stroke-width="1"/>
<text x="503.87" y="650.10" font-size="8.35" text-anchor="end" fill="#111" transform="rotate(-46.5 503.87 650.10)">GDP</text>
<line x1="511.64" y1="638.50" x2="511.64" y2="642.80" stroke="#111" stroke-width="1.4"/>
<rect x="508.34" y="634.40" width="2.5" height="4.09" fill="#666" stroke="#111" stroke-width="0.8"/>
<rect x="512.44" y="632.36" width="2.5" height="6.14" fill="#d86a6a" stroke="#b01818" stroke-width="0.8"/>
<line x1="509.59" y1="634.40" x2="509.59" y2="631.95" stroke="#111" stroke-width="0.8"/>
<line x1="508.54" y1="631.95" x2="510.64" y2="631.95" stroke="#111" stroke-width="0.8"/>
<line x1="513.69" y1="632.36" x2="513.69" y2="631.13" stroke="#c02020" stroke-width="0.8"/>
<line x1="512.64" y1="631.13" x2="514.74" y2="631.13" stroke="#c02020" stroke-width="0.8"/>
<text x="513.24" y="650.10" font-size="8.35" text-anchor="end" fill="#111" transform="rotate(-46.5 513.24 650.10)">Glucaronic acid</text>
<line x1="521.01" y1="638.50" x2="521.01" y2="642.80" stroke="#111" stroke-width="1.4"/>
<rect x="517.71" y="634.40" width="2.5" height="4.09" fill="#666" stroke="#111" stroke-width="0.8"/>
<rect x="521.81" y="637.68" width="2.5" height="0.82" fill="#d86a6a" stroke="#b01818" stroke-width="0.8"/>
<line x1="518.96" y1="634.40" x2="518.96" y2="631.13" stroke="#111" stroke-width="0.8"/>
<line x1="517.91" y1="631.13" x2="520.01" y2="631.13" stroke="#111" stroke-width="0.8"/>
<text x="522.61" y="650.10" font-size="8.35" text-anchor="end" fill="#111" transform="rotate(-46.5 522.61 650.10)">IMP</text>
<line x1="530.39" y1="638.50" x2="530.39" y2="642.80" stroke="#111" stroke-width="1.4"/>
<rect x="527.09" y="634.40" width="2.5" height="4.09" fill="#666" stroke="#111" stroke-width="0.8"/>
<rect x="531.19" y="635.63" width="2.5" height="2.87" fill="#d86a6a" stroke="#b01818" stroke-width="0.8"/>
<line x1="528.34" y1="634.40" x2="528.34" y2="629.90" stroke="#111" stroke-width="0.8"/>
<line x1="527.29" y1="629.90" x2="529.39" y2="629.90" stroke="#111" stroke-width="0.8"/>
<text x="531.99" y="650.10" font-size="8.35" text-anchor="end" fill="#111" transform="rotate(-46.5 531.99 650.10)">Inosine</text>
<line x1="539.76" y1="638.50" x2="539.76" y2="642.80" stroke="#111" stroke-width="1.4"/>
<rect x="536.46" y="634.40" width="2.5" height="4.09" fill="#666" stroke="#111" stroke-width="0.8"/>
<rect x="540.56" y="636.86" width="2.5" height="1.64" fill="#d86a6a" stroke="#b01818" stroke-width="0.8"/>
<text x="541.36" y="650.10" font-size="8.35" text-anchor="end" fill="#111" transform="rotate(-46.5 541.36 650.10)">L-glutamine</text>
<line x1="549.14" y1="638.50" x2="549.14" y2="642.80" stroke="#111" stroke-width="1.4"/>
<rect x="545.84" y="635.63" width="2.5" height="2.87" fill="#666" stroke="#111" stroke-width="0.8"/>
<rect x="549.94" y="634.00" width="2.5" height="4.50" fill="#d86a6a" stroke="#b01818" stroke-width="0.8"/>
<line x1="547.09" y1="635.63" x2="547.09" y2="631.54" stroke="#111" stroke-width="0.8"/>
<line x1="546.04" y1="631.54" x2="548.14" y2="631.54" stroke="#111" stroke-width="0.8"/>
<line x1="551.19" y1="634.00" x2="551.19" y2="626.62" stroke="#c02020" stroke-width="0.8"/>
<line x1="550.14" y1="626.62" x2="552.24" y2="626.62" stroke="#c02020" stroke-width="0.8"/>
<text x="550.74" y="650.10" font-size="8.35" text-anchor="end" fill="#111" transform="rotate(-46.5 550.74 650.10)">Leucine</text>
<line x1="558.51" y1="638.50" x2="558.51" y2="642.80" stroke="#111" stroke-width="1.4"/>
<rect x="555.21" y="634.40" width="2.5" height="4.09" fill="#666" stroke="#111" stroke-width="0.8"/>
<rect x="559.31" y="630.31" width="2.5" height="8.19" fill="#d86a6a" stroke="#b01818" stroke-width="0.8"/>
<line x1="556.46" y1="634.40" x2="556.46" y2="631.13" stroke="#111" stroke-width="0.8"/>
<line x1="555.41" y1="631.13" x2="557.51" y2="631.13" stroke="#111" stroke-width="0.8"/>
<line x1="560.56" y1="630.31" x2="560.56" y2="624.99" stroke="#c02020" stroke-width="0.8"/>
<line x1="559.51" y1="624.99" x2="561.61" y2="624.99" stroke="#c02020" stroke-width="0.8"/>
<circle cx="560.56" cy="621.30" r="0.7" fill="#d02020" stroke="none" stroke-width="1"/>
<text x="560.11" y="650.10" font-size="8.35" text-anchor="end" fill="#111" transform="rotate(-46.5 560.11 650.10)">Maleic acid</text>
<line x1="567.88" y1="638.50" x2="567.88" y2="642.80" stroke="#111" stroke-width="1.4"/>
<rect x="564.58" y="634.40" width="2.5" height="4.09" fill="#666" stroke="#111" stroke-width="0.8"/>
<rect x="568.68" y="632.97" width="2.5" height="5.53" fill="#d86a6a" stroke="#b01818" stroke-width="0.8"/>
<line x1="565.83" y1="634.40" x2="565.83" y2="630.31" stroke="#111" stroke-width="0.8"/>
<line x1="564.78" y1="630.31" x2="566.88" y2="630.31" stroke="#111" stroke-width="0.8"/>
<line x1="569.93" y1="632.97" x2="569.93" y2="627.85" stroke="#c02020" stroke-width="0.8"/>
<line x1="568.88" y1="627.85" x2="570.98" y2="627.85" stroke="#c02020" stroke-width="0.8"/>
<circle cx="569.93" cy="625.40" r="0.7" fill="#d02020" stroke="none" stroke-width="1"/>
<text x="569.48" y="650.10" font-size="8.35" text-anchor="end" fill="#111" transform="rotate(-46.5 569.48 650.10)">NADPH</text>
<line x1="577.26" y1="638.50" x2="577.26" y2="642.80" stroke="#111" stroke-width="1.4"/>
<rect x="573.96" y="634.40" width="2.5" height="4.09" fill="#666" stroke="#111" stroke-width="0.8"/>
<rect x="578.06" y="630.31" width="2.5" height="8.19" fill="#d86a6a" stroke="#b01818" stroke-width="0.8"/>
<line x1="575.21" y1="634.40" x2="575.21" y2="630.72" stroke="#111" stroke-width="0.8"/>
<line x1="574.16" y1="630.72" x2="576.26" y2="630.72" stroke="#111" stroke-width="0.8"/>
<line x1="579.31" y1="630.31" x2="579.31" y2="627.03" stroke="#c02020" stroke-width="0.8"/>
<line x1="578.26" y1="627.03" x2="580.36" y2="627.03" stroke="#c02020" stroke-width="0.8"/>
<text x="578.86" y="650.10" font-size="8.35" text-anchor="end" fill="#111" transform="rotate(-46.5 578.86 650.10)">Pantothenic acid</text>
<line x1="586.63" y1="638.50" x2="586.63" y2="642.80" stroke="#111" stroke-width="1.4"/>
<rect x="583.33" y="634.40" width="2.5" height="4.09" fill="#666" stroke="#111" stroke-width="0.8"/>
<rect x="587.43" y="637.27" width="2.5" height="1.23" fill="#d86a6a" stroke="#b01818" stroke-width="0.8"/>
<line x1="584.58" y1="634.40" x2="584.58" y2="631.54" stroke="#111" stroke-width="0.8"/>
<line x1="583.53" y1="631.54" x2="585.63" y2="631.54" stroke="#111" stroke-width="0.8"/>
<text x="588.23" y="650.10" font-size="8.35" text-anchor="end" fill="#111" transform="rotate(-46.5 588.23 650.10)">PG (18:0)</text>
<line x1="596.01" y1="638.50" x2="596.01" y2="642.80" stroke="#111" stroke-width="1.4"/>
<rect x="592.71" y="634.40" width="2.5" height="4.09" fill="#666" stroke="#111" stroke-width="0.8"/>
<rect x="596.81" y="637.27" width="2.5" height="1.23" fill="#d86a6a" stroke="#b01818" stroke-width="0.8"/>
<line x1="593.96" y1="634.40" x2="593.96" y2="629.90" stroke="#111" stroke-width="0.8"/>
<line x1="592.91" y1="629.90" x2="595.01" y2="629.90" stroke="#111" stroke-width="0.8"/>
<line x1="598.06" y1="637.27" x2="598.06" y2="634.40" stroke="#c02020" stroke-width="0.8"/>
<line x1="597.01" y1="634.40" x2="599.11" y2="634.40" stroke="#c02020" stroke-width="0.8"/>
<text x="597.61" y="650.10" font-size="8.35" text-anchor="end" fill="#111" transform="rotate(-46.5 597.61 650.10)">Phthalic acid</text>
<line x1="605.38" y1="638.50" x2="605.38" y2="642.80" stroke="#111" stroke-width="1.4"/>
<rect x="602.08" y="634.40" width="2.5" height="4.09" fill="#666" stroke="#111" stroke-width="0.8"/>
<rect x="606.18" y="628.26" width="2.5" height="10.24" fill="#d86a6a" stroke="#b01818" stroke-width="0.8"/>
<line x1="603.33" y1="634.40" x2="603.33" y2="632.36" stroke="#111" stroke-width="0.8"/>
<line x1="602.28" y1="632.36" x2="604.38" y2="632.36" stroke="#111" stroke-width="0.8"/>
<line x1="607.43" y1="628.26" x2="607.43" y2="623.35" stroke="#c02020" stroke-width="0.8"/>
<line x1="606.38" y1="623.35" x2="608.48" y2="623.35" stroke="#c02020" stroke-width="0.8"/>
<circle cx="607.43" cy="618.02" r="0.7" fill="#d02020" stroke="none" stroke-width="1"/>
<text x="606.98" y="650.10" font-size="8.35" text-anchor="end" fill="#111" transform="rotate(-46.5 606.98 650.10)">Proline</text>
<line x1="614.75" y1="638.50" x2="614.75" y2="642.80" stroke="#111" stroke-width="1.4"/>
<rect x="611.45" y="634.40" width="2.5" height="4.09" fill="#666" stroke="#111" stroke-width="0.8"/>
<rect x="615.55" y="635.63" width="2.5" height="2.87" fill="#d86a6a" stroke="#b01818" stroke-width="0.8"/>
<line x1="612.70" y1="634.40" x2="612.70" y2="631.54" stroke="#111" stroke-width="0.8"/>
<line x1="611.65" y1="631.54" x2="613.75" y2="631.54" stroke="#111" stroke-width="0.8"/>
<line x1="616.80" y1="635.63" x2="616.80" y2="632.36" stroke="#c02020" stroke-width="0.8"/>
<line x1="615.75" y1="632.36" x2="617.85" y2="632.36" stroke="#c02020" stroke-width="0.8"/>
<text x="616.35" y="650.10" font-size="8.35" text-anchor="end" fill="#111" transform="rotate(-46.5 616.35 650.10)">Quinolinic acid</text>
<line x1="624.13" y1="638.50" x2="624.13" y2="642.80" stroke="#111" stroke-width="1.4"/>
<rect x="620.83" y="634.40" width="2.5" height="4.09" fill="#666" stroke="#111" stroke-width="0.8"/>
<rect x="624.93" y="634.40" width="2.5" height="4.09" fill="#d86a6a" stroke="#b01818" stroke-width="0.8"/>
<line x1="622.08" y1="634.40" x2="622.08" y2="630.31" stroke="#111" stroke-width="0.8"/>
<line x1="621.03" y1="630.31" x2="623.13" y2="630.31" stroke="#111" stroke-width="0.8"/>
<line x1="626.18" y1="634.40" x2="626.18" y2="632.77" stroke="#c02020" stroke-width="0.8"/>
<line x1="625.13" y1="632.77" x2="627.23" y2="632.77" stroke="#c02020" stroke-width="0.8"/>
<text x="625.73" y="650.10" font-size="8.35" text-anchor="end" fill="#111" transform="rotate(-46.5 625.73 650.10)">Riboflavin</text>
<line x1="633.50" y1="638.50" x2="633.50" y2="642.80" stroke="#111" stroke-width="1.4"/>
<rect x="630.20" y="634.40" width="2.5" height="4.09" fill="#666" stroke="#111" stroke-width="0.8"/>
<rect x="634.30" y="636.86" width="2.5" height="1.64" fill="#d86a6a" stroke="#b01818" stroke-width="0.8"/>
<line x1="631.45" y1="634.40" x2="631.45" y2="631.54" stroke="#111" stroke-width="0.8"/>
<line x1="630.40" y1="631.54" x2="632.50" y2="631.54" stroke="#111" stroke-width="0.8"/>
<text x="635.10" y="650.10" font-size="8.35" text-anchor="end" fill="#111" transform="rotate(-46.5 635.10 650.10)">S-5-Adenosyl-L-Cysteine</text>
<line x1="642.88" y1="638.50" x2="642.88" y2="642.80" stroke="#111" stroke-width="1.4"/>
<rect x="639.58" y="634.40" width="2.5" height="4.09" fill="#666" stroke="#111" stroke-width="0.8"/>
<rect x="643.68" y="630.31" width="2.5" height="8.19" fill="#d86a6a" stroke="#b01818" stroke-width="0.8"/>
<line x1="640.83" y1="634.40" x2="640.83" y2="631.54" stroke="#111" stroke-width="0.8"/>
<line x1="639.78" y1="631.54" x2="641.88" y2="631.54" stroke="#111" stroke-width="0.8"/>
<line x1="644.93" y1="630.31" x2="644.93" y2="625.40" stroke="#c02020" stroke-width="0.8"/>
<line x1="643.88" y1="625.40" x2="645.98" y2="625.40" stroke="#c02020" stroke-width="0.8"/>
<circle cx="644.93" cy="617.21" r="0.7" fill="#d02020" stroke="none" stroke-width="1"/>
<text x="644.48" y="650.10" font-size="8.35" text-anchor="end" fill="#111" transform="rotate(-46.5 644.48 650.10)">Shikimic acid</text>
<line x1="652.25" y1="638.50" x2="652.25" y2="642.80" stroke="#111" stroke-width="1.4"/>
<rect x="648.95" y="634.40" width="2.5" height="4.09" fill="#666" stroke="#111" stroke-width="0.8"/>
<rect x="653.05" y="634.40" width="2.5" height="4.09" fill="#d86a6a" stroke="#b01818" stroke-width="0.8"/>
<line x1="650.20" y1="634.40" x2="650.20" y2="631.54" stroke="#111" stroke-width="0.8"/>
<line x1="649.15" y1="631.54" x2="651.25" y2="631.54" stroke="#111" stroke-width="0.8"/>
<line x1="654.30" y1="634.40" x2="654.30" y2="630.31" stroke="#c02020" stroke-width="0.8"/>
<line x1="653.25" y1="630.31" x2="655.35" y2="630.31" stroke="#c02020" stroke-width="0.8"/>
<text x="653.85" y="650.10" font-size="8.35" text-anchor="end" fill="#111" transform="rotate(-46.5 653.85 650.10)">TDP</text>
<line x1="661.62" y1="638.50" x2="661.62" y2="642.80" stroke="#111" stroke-width="1.4"/>
<rect x="658.32" y="634.40" width="2.5" height="4.09" fill="#666" stroke="#111" stroke-width="0.8"/>
<rect x="662.42" y="632.97" width="2.5" height="5.53" fill="#d86a6a" stroke="#b01818" stroke-width="0.8"/>
<line x1="659.57" y1="634.40" x2="659.57" y2="631.95" stroke="#111" stroke-width="0.8"/>
<line x1="658.52" y1="631.95" x2="660.62" y2="631.95" stroke="#111" stroke-width="0.8"/>
<line x1="663.67" y1="632.97" x2="663.67" y2="629.08" stroke="#c02020" stroke-width="0.8"/>
<line x1="662.62" y1="629.08" x2="664.72" y2="629.08" stroke="#c02020" stroke-width="0.8"/>
<circle cx="663.67" cy="626.22" r="0.7" fill="#d02020" stroke="none" stroke-width="1"/>
<text x="663.22" y="650.10" font-size="8.35" text-anchor="end" fill="#111" transform="rotate(-46.5 663.22 650.10)">UDP</text>
<line x1="671.00" y1="638.50" x2="671.00" y2="642.80" stroke="#111" stroke-width="1.4"/>
<rect x="667.70" y="634.81" width="2.5" height="3.69" fill="#666" stroke="#111" stroke-width="0.8"/>
<rect x="671.70" y="560.70" width="3.0" height="77.80" fill="#dc8c8c" stroke="#b01818" stroke-width="0.9"/>
<line x1="668.95" y1="634.81" x2="668.95" y2="633.18" stroke="#111" stroke-width="0.8"/>
<line x1="667.90" y1="633.18" x2="670.00" y2="633.18" stroke="#111" stroke-width="0.8"/>
<line x1="673.05" y1="560.70" x2="673.05" y2="536.12" stroke="#c02020" stroke-width="0.8"/>
<line x1="672.00" y1="536.12" x2="674.10" y2="536.12" stroke="#c02020" stroke-width="0.8"/>
<circle cx="673.05" cy="478.80" r="0.7" fill="#d02020" stroke="none" stroke-width="1"/>
<text x="672.60" y="650.10" font-size="8.35" text-anchor="end" fill="#111" transform="rotate(-46.5 672.60 650.10)">Malonic acid</text>
<circle cx="673.20" cy="574.62" r="0.55" fill="#b01818" stroke="none" stroke-width="1"/>
<circle cx="673.20" cy="595.91" r="0.55" fill="#b01818" stroke="none" stroke-width="1"/>
<circle cx="673.20" cy="611.88" r="0.55" fill="#b01818" stroke="none" stroke-width="1"/>
<polyline points="666.60,622.80 666.60,445.60 672.60,445.60 672.60,453.80" fill="none" stroke="#111" stroke-width="1.1"/>
<text x="669.30" y="446.24" font-size="12.5" text-anchor="middle" font-weight="bold" fill="#111">**</text>
<rect x="424.40" y="437.00" width="10.20" height="4.60" fill="none" stroke="#111" stroke-width="0.9"/>
<text x="440.80" y="441.70" font-size="7.6" text-anchor="start" fill="#111">Control</text>
<rect x="424.40" y="452.00" width="10.20" height="4.60" fill="none" stroke="#c0282d" stroke-width="0.9"/>
<text x="440.80" y="456.80" font-size="7.6" text-anchor="start" fill="#111">Treatment</text>
<text x="377.60" y="536.00" font-size="7.7" text-anchor="middle" fill="#111" transform="rotate(-90 377.60 536.00)">Ucp1</text>
<text x="385.10" y="535.00" font-size="7.7" text-anchor="middle" fill="#111" transform="rotate(-90 385.10 535.00)">Gene expression (Fold change)</text>
<text x="12.40" y="717.20" font-size="14.6" text-anchor="start" font-weight="bold" fill="#111">F</text>
<line x1="44.40" y1="883.00" x2="44.40" y2="731.50" stroke="#111" stroke-width="1.0"/>
<line x1="41.80" y1="882.50" x2="44.40" y2="882.50" stroke="#111" stroke-width="0.9"/>
<text x="41.40" y="884.90" font-size="6.8" text-anchor="end" font-weight="bold" fill="#111">0</text>
<line x1="41.80" y1="832.50" x2="44.40" y2="832.50" stroke="#111" stroke-width="0.9"/>
<text x="41.40" y="834.90" font-size="6.8" text-anchor="end" font-weight="bold" fill="#111">10</text>
<line x1="41.80" y1="782.50" x2="44.40" y2="782.50" stroke="#111" stroke-width="0.9"/>
<text x="41.40" y="784.90" font-size="6.8" text-anchor="end" font-weight="bold" fill="#111">20</text>
<line x1="41.80" y1="732.50" x2="44.40" y2="732.50" stroke="#111" stroke-width="0.9"/>
<text x="41.40" y="734.90" font-size="6.8" text-anchor="end" font-weight="bold" fill="#111">30</text>
<line x1="44.40" y1="882.50" x2="215.70" y2="882.50" stroke="#111" stroke-width="1.0"/>
<line x1="55.40" y1="882.50" x2="55.40" y2="885.10" stroke="#111" stroke-width="0.9"/>
<rect x="47.80" y="877.50" width="6.40" height="5.00" fill="none" stroke="#333" stroke-width="0.9"/>
<rect x="56.70" y="877.00" width="6.40" height="5.50" fill="none" stroke="#c0282d" stroke-width="0.9"/>
<line x1="51.00" y1="877.50" x2="51.00" y2="876.00" stroke="#333" stroke-width="0.7"/>
<line x1="49.40" y1="876.00" x2="52.60" y2="876.00" stroke="#333" stroke-width="0.7"/>
<text x="55.70" y="890.70" font-size="7.1" text-anchor="end" fill="#222" transform="rotate(-45 55.70 890.70)">G6P</text>
<line x1="80.27" y1="882.50" x2="80.27" y2="885.10" stroke="#111" stroke-width="0.9"/>
<rect x="72.67" y="877.50" width="6.40" height="5.00" fill="none" stroke="#333" stroke-width="0.9"/>
<rect x="81.57" y="880.50" width="6.40" height="2.00" fill="none" stroke="#c0282d" stroke-width="0.9"/>
<line x1="75.87" y1="877.50" x2="75.87" y2="873.50" stroke="#333" stroke-width="0.7"/>
<line x1="74.27" y1="873.50" x2="77.47" y2="873.50" stroke="#333" stroke-width="0.7"/>
<text x="80.57" y="890.70" font-size="7.1" text-anchor="end" fill="#222" transform="rotate(-45 80.57 890.70)">GDP</text>
<line x1="105.14" y1="882.50" x2="105.14" y2="885.10" stroke="#111" stroke-width="0.9"/>
<rect x="97.54" y="877.50" width="6.40" height="5.00" fill="none" stroke="#333" stroke-width="0.9"/>
<rect x="106.44" y="878.00" width="6.40" height="4.50" fill="none" stroke="#c0282d" stroke-width="0.9"/>
<line x1="100.74" y1="877.50" x2="100.74" y2="873.50" stroke="#333" stroke-width="0.7"/>
<line x1="99.14" y1="873.50" x2="102.34" y2="873.50" stroke="#333" stroke-width="0.7"/>
<line x1="109.64" y1="878.00" x2="109.64" y2="875.00" stroke="#c0282d" stroke-width="0.8"/>
<line x1="107.94" y1="875.00" x2="111.34" y2="875.00" stroke="#c0282d" stroke-width="0.8"/>
<text x="105.44" y="890.70" font-size="7.1" text-anchor="end" fill="#222" transform="rotate(-45 105.44 890.70)">Maleic acid</text>
<line x1="130.01" y1="882.50" x2="130.01" y2="885.10" stroke="#111" stroke-width="0.9"/>
<rect x="122.41" y="877.50" width="6.40" height="5.00" fill="none" stroke="#333" stroke-width="0.9"/>
<rect x="131.31" y="796.50" width="6.40" height="86.00" fill="none" stroke="#c0282d" stroke-width="0.9"/>
<line x1="125.61" y1="877.50" x2="125.61" y2="876.00" stroke="#333" stroke-width="0.7"/>
<line x1="124.01" y1="876.00" x2="127.21" y2="876.00" stroke="#333" stroke-width="0.7"/>
<line x1="134.51" y1="796.50" x2="134.51" y2="776.50" stroke="#c0282d" stroke-width="0.8"/>
<line x1="132.81" y1="776.50" x2="136.21" y2="776.50" stroke="#c0282d" stroke-width="0.8"/>
<text x="130.31" y="890.70" font-size="7.1" text-anchor="end" fill="#222" transform="rotate(-45 130.31 890.70)">Malonic acid</text>
<line x1="154.88" y1="882.50" x2="154.88" y2="885.10" stroke="#111" stroke-width="0.9"/>
<rect x="147.28" y="877.50" width="6.40" height="5.00" fill="none" stroke="#333" stroke-width="0.9"/>
<rect x="156.18" y="882.00" width="6.40" height="0.50" fill="none" stroke="#c0282d" stroke-width="0.9"/>
<line x1="150.48" y1="877.50" x2="150.48" y2="873.50" stroke="#333" stroke-width="0.7"/>
<line x1="148.88" y1="873.50" x2="152.08" y2="873.50" stroke="#333" stroke-width="0.7"/>
<text x="155.18" y="890.70" font-size="7.1" text-anchor="end" fill="#222" transform="rotate(-45 155.18 890.70)">Pantothenic acid</text>
<line x1="179.75" y1="882.50" x2="179.75" y2="885.10" stroke="#111" stroke-width="0.9"/>
<rect x="172.15" y="877.50" width="6.40" height="5.00" fill="none" stroke="#333" stroke-width="0.9"/>
<rect x="181.05" y="878.50" width="6.40" height="4.00" fill="none" stroke="#c0282d" stroke-width="0.9"/>
<line x1="175.35" y1="877.50" x2="175.35" y2="876.00" stroke="#333" stroke-width="0.7"/>
<line x1="173.75" y1="876.00" x2="176.95" y2="876.00" stroke="#333" stroke-width="0.7"/>
<line x1="184.25" y1="878.50" x2="184.25" y2="877.50" stroke="#c0282d" stroke-width="0.8"/>
<line x1="182.55" y1="877.50" x2="185.95" y2="877.50" stroke="#c0282d" stroke-width="0.8"/>
<text x="180.05" y="890.70" font-size="7.1" text-anchor="end" fill="#222" transform="rotate(-45 180.05 890.70)">Proline</text>
<line x1="204.62" y1="882.50" x2="204.62" y2="885.10" stroke="#111" stroke-width="0.9"/>
<rect x="197.02" y="877.50" width="6.40" height="5.00" fill="none" stroke="#333" stroke-width="0.9"/>
<rect x="205.92" y="878.00" width="6.40" height="4.50" fill="none" stroke="#c0282d" stroke-width="0.9"/>
<line x1="200.22" y1="877.50" x2="200.22" y2="876.50" stroke="#333" stroke-width="0.7"/>
<line x1="198.62" y1="876.50" x2="201.82" y2="876.50" stroke="#333" stroke-width="0.7"/>
<line x1="209.12" y1="878.00" x2="209.12" y2="875.50" stroke="#c0282d" stroke-width="0.8"/>
<line x1="207.42" y1="875.50" x2="210.82" y2="875.50" stroke="#c0282d" stroke-width="0.8"/>
<text x="204.92" y="890.70" font-size="7.1" text-anchor="end" fill="#222" transform="rotate(-45 204.92 890.70)">Shikimic acid</text>
<line x1="134.51" y1="796.50" x2="134.51" y2="816.50" stroke="#c0282d" stroke-width="0.8"/>
<line x1="132.81" y1="816.50" x2="136.21" y2="816.50" stroke="#c0282d" stroke-width="0.8"/>
<polyline points="125.90,867.40 125.90,749.00 134.80,749.00 134.80,751.90" fill="none" stroke="#111" stroke-width="0.9"/>
<text x="130.50" y="751.65" font-size="17" text-anchor="middle" fill="#111">**</text>
<rect x="50.00" y="727.00" width="6.00" height="4.40" fill="none" stroke="#333" stroke-width="0.8"/>
<text x="59.70" y="732.00" font-size="7.0" text-anchor="start" fill="#222">Control</text>
<rect x="50.60" y="737.80" width="6.00" height="4.40" fill="none" stroke="#c0282d" stroke-width="0.8"/>
<text x="60.80" y="742.40" font-size="7.0" text-anchor="start" fill="#222">Treatment</text>
<text x="13.80" y="806.70" font-size="7.1" text-anchor="middle" font-weight="bold" font-style="italic" fill="#111" transform="rotate(-90 13.80 806.70)">Cidea</text>
<text x="22.30" y="806.20" font-size="7.1" text-anchor="middle" font-weight="bold" fill="#111" transform="rotate(-90 22.30 806.20)">Gene expression (fold change)</text>
<text x="237.70" y="717.20" font-size="14.6" text-anchor="start" font-weight="bold" fill="#111">G</text>
<line x1="276.00" y1="880.50" x2="276.00" y2="733.00" stroke="#555" stroke-width="1.1"/>
<line x1="270.80" y1="880.00" x2="276.00" y2="880.00" stroke="#555" stroke-width="1.0"/>
<text x="268.10" y="883.00" font-size="8.5" text-anchor="end" font-weight="bold" fill="#111">0</text>
<line x1="270.80" y1="850.75" x2="276.00" y2="850.75" stroke="#555" stroke-width="1.0"/>
<text x="268.10" y="853.75" font-size="8.5" text-anchor="end" font-weight="bold" fill="#111">10</text>
<line x1="270.80" y1="821.50" x2="276.00" y2="821.50" stroke="#555" stroke-width="1.0"/>
<text x="268.10" y="824.50" font-size="8.5" text-anchor="end" font-weight="bold" fill="#111">20</text>
<line x1="270.80" y1="792.25" x2="276.00" y2="792.25" stroke="#555" stroke-width="1.0"/>
<text x="268.10" y="795.25" font-size="8.5" text-anchor="end" font-weight="bold" fill="#111">30</text>
<line x1="270.80" y1="763.00" x2="276.00" y2="763.00" stroke="#555" stroke-width="1.0"/>
<text x="268.10" y="766.00" font-size="8.5" text-anchor="end" font-weight="bold" fill="#111">40</text>
<line x1="270.80" y1="733.75" x2="276.00" y2="733.75" stroke="#555" stroke-width="1.0"/>
<text x="268.10" y="736.75" font-size="8.5" text-anchor="end" font-weight="bold" fill="#111">50</text>
<line x1="276.00" y1="880.00" x2="685.00" y2="880.00" stroke="#555" stroke-width="1.2"/>
<line x1="289.60" y1="880.00" x2="289.60" y2="885.80" stroke="#555" stroke-width="1.0"/>
<rect x="279.60" y="877.08" width="8.20" height="2.92" fill="none" stroke="#222" stroke-width="1.1"/>
<circle cx="292.80" cy="878.90" r="1.05" fill="#c0282d" stroke="none" stroke-width="1"/>
<circle cx="295.50" cy="878.90" r="1.05" fill="#c0282d" stroke="none" stroke-width="1"/>
<circle cx="298.20" cy="878.90" r="1.05" fill="#c0282d" stroke="none" stroke-width="1"/>
<circle cx="281.40" cy="878.20" r="1.0" fill="#111" stroke="none" stroke-width="1"/>
<circle cx="283.60" cy="876.20" r="1.0" fill="#111" stroke="none" stroke-width="1"/>
<circle cx="285.80" cy="877.80" r="1.0" fill="#111" stroke="none" stroke-width="1"/>
<circle cx="287.20" cy="878.80" r="1.0" fill="#111" stroke="none" stroke-width="1"/>
<circle cx="283.70" cy="874.40" r="1.0" fill="#111" stroke="none" stroke-width="1"/>
<line x1="283.70" y1="877.08" x2="283.70" y2="875.20" stroke="#222" stroke-width="0.8"/>
<line x1="282.00" y1="875.20" x2="285.40" y2="875.20" stroke="#222" stroke-width="0.8"/>
<text x="294.50" y="897.30" font-size="10.5" text-anchor="end" font-style="italic" fill="#111" transform="rotate(-40 294.50 897.30)">Adipoq</text>
<line x1="321.40" y1="880.00" x2="321.40" y2="885.80" stroke="#555" stroke-width="1.0"/>
<rect x="311.40" y="877.08" width="8.20" height="2.92" fill="none" stroke="#222" stroke-width="1.1"/>
<rect x="323.30" y="853.67" width="8.00" height="26.32" fill="none" stroke="#c0282d" stroke-width="1.4"/>
<circle cx="313.20" cy="878.20" r="1.0" fill="#111" stroke="none" stroke-width="1"/>
<circle cx="315.40" cy="876.20" r="1.0" fill="#111" stroke="none" stroke-width="1"/>
<circle cx="317.60" cy="877.80" r="1.0" fill="#111" stroke="none" stroke-width="1"/>
<circle cx="319.00" cy="878.80" r="1.0" fill="#111" stroke="none" stroke-width="1"/>
<circle cx="315.50" cy="874.40" r="1.0" fill="#111" stroke="none" stroke-width="1"/>
<line x1="315.50" y1="877.08" x2="315.50" y2="875.20" stroke="#222" stroke-width="0.8"/>
<line x1="313.80" y1="875.20" x2="317.20" y2="875.20" stroke="#222" stroke-width="0.8"/>
<line x1="327.30" y1="853.67" x2="327.30" y2="845.19" stroke="#c0282d" stroke-width="1.0"/>
<line x1="325.10" y1="845.19" x2="329.50" y2="845.19" stroke="#c0282d" stroke-width="1.0"/>
<text x="326.30" y="897.30" font-size="10.5" text-anchor="end" font-style="italic" fill="#111" transform="rotate(-40 326.30 897.30)">Cd137</text>
<line x1="353.20" y1="880.00" x2="353.20" y2="885.80" stroke="#555" stroke-width="1.0"/>
<rect x="343.20" y="877.08" width="8.20" height="2.92" fill="none" stroke="#222" stroke-width="1.1"/>
<rect x="355.10" y="830.27" width="8.00" height="49.72" fill="none" stroke="#c0282d" stroke-width="1.4"/>
<circle cx="345.00" cy="878.20" r="1.0" fill="#111" stroke="none" stroke-width="1"/>
<circle cx="347.20" cy="876.20" r="1.0" fill="#111" stroke="none" stroke-width="1"/>
<circle cx="349.40" cy="877.80" r="1.0" fill="#111" stroke="none" stroke-width="1"/>
<circle cx="350.80" cy="878.80" r="1.0" fill="#111" stroke="none" stroke-width="1"/>
<circle cx="347.30" cy="874.40" r="1.0" fill="#111" stroke="none" stroke-width="1"/>
<line x1="347.30" y1="877.08" x2="347.30" y2="875.20" stroke="#222" stroke-width="0.8"/>
<line x1="345.60" y1="875.20" x2="349.00" y2="875.20" stroke="#222" stroke-width="0.8"/>
<line x1="359.10" y1="830.27" x2="359.10" y2="818.58" stroke="#c0282d" stroke-width="1.0"/>
<line x1="356.90" y1="818.58" x2="361.30" y2="818.58" stroke="#c0282d" stroke-width="1.0"/>
<text x="358.10" y="897.30" font-size="10.5" text-anchor="end" font-style="italic" fill="#111" transform="rotate(-40 358.10 897.30)">Cidea</text>
<line x1="385.00" y1="880.00" x2="385.00" y2="885.80" stroke="#555" stroke-width="1.0"/>
<rect x="375.00" y="877.08" width="8.20" height="2.92" fill="none" stroke="#222" stroke-width="1.1"/>
<rect x="386.90" y="841.68" width="8.00" height="38.32" fill="none" stroke="#c0282d" stroke-width="1.4"/>
<circle cx="376.80" cy="878.20" r="1.0" fill="#111" stroke="none" stroke-width="1"/>
<circle cx="379.00" cy="876.20" r="1.0" fill="#111" stroke="none" stroke-width="1"/>
<circle cx="381.20" cy="877.80" r="1.0" fill="#111" stroke="none" stroke-width="1"/>
<circle cx="382.60" cy="878.80" r="1.0" fill="#111" stroke="none" stroke-width="1"/>
<circle cx="379.10" cy="874.40" r="1.0" fill="#111" stroke="none" stroke-width="1"/>
<line x1="379.10" y1="877.08" x2="379.10" y2="875.20" stroke="#222" stroke-width="0.8"/>
<line x1="377.40" y1="875.20" x2="380.80" y2="875.20" stroke="#222" stroke-width="0.8"/>
<line x1="390.90" y1="841.68" x2="390.90" y2="832.62" stroke="#c0282d" stroke-width="1.0"/>
<line x1="388.70" y1="832.62" x2="393.10" y2="832.62" stroke="#c0282d" stroke-width="1.0"/>
<text x="389.90" y="897.30" font-size="10.5" text-anchor="end" font-style="italic" fill="#111" transform="rotate(-40 389.90 897.30)">Cited1</text>
<line x1="416.80" y1="880.00" x2="416.80" y2="885.80" stroke="#555" stroke-width="1.0"/>
<rect x="406.80" y="877.08" width="8.20" height="2.92" fill="none" stroke="#222" stroke-width="1.1"/>
<circle cx="420.00" cy="878.90" r="1.05" fill="#c0282d" stroke="none" stroke-width="1"/>
<circle cx="422.70" cy="878.90" r="1.05" fill="#c0282d" stroke="none" stroke-width="1"/>
<circle cx="425.40" cy="878.90" r="1.05" fill="#c0282d" stroke="none" stroke-width="1"/>
<circle cx="408.60" cy="878.20" r="1.0" fill="#111" stroke="none" stroke-width="1"/>
<circle cx="410.80" cy="876.20" r="1.0" fill="#111" stroke="none" stroke-width="1"/>
<circle cx="413.00" cy="877.80" r="1.0" fill="#111" stroke="none" stroke-width="1"/>
<circle cx="414.40" cy="878.80" r="1.0" fill="#111" stroke="none" stroke-width="1"/>
<circle cx="410.90" cy="874.40" r="1.0" fill="#111" stroke="none" stroke-width="1"/>
<line x1="410.90" y1="877.08" x2="410.90" y2="875.20" stroke="#222" stroke-width="0.8"/>
<line x1="409.20" y1="875.20" x2="412.60" y2="875.20" stroke="#222" stroke-width="0.8"/>
<text x="421.70" y="897.30" font-size="10.5" text-anchor="end" font-style="italic" fill="#111" transform="rotate(-40 421.70 897.30)">Cox8b</text>
<line x1="448.60" y1="880.00" x2="448.60" y2="885.80" stroke="#555" stroke-width="1.0"/>
<rect x="438.60" y="877.08" width="8.20" height="2.92" fill="none" stroke="#222" stroke-width="1.1"/>
<rect x="450.50" y="859.52" width="8.00" height="20.47" fill="none" stroke="#c0282d" stroke-width="1.4"/>
<circle cx="440.40" cy="878.20" r="1.0" fill="#111" stroke="none" stroke-width="1"/>
<circle cx="442.60" cy="876.20" r="1.0" fill="#111" stroke="none" stroke-width="1"/>
<circle cx="444.80" cy="877.80" r="1.0" fill="#111" stroke="none" stroke-width="1"/>
<circle cx="446.20" cy="878.80" r="1.0" fill="#111" stroke="none" stroke-width="1"/>
<circle cx="442.70" cy="874.40" r="1.0" fill="#111" stroke="none" stroke-width="1"/>
<line x1="442.70" y1="877.08" x2="442.70" y2="875.20" stroke="#222" stroke-width="0.8"/>
<line x1="441.00" y1="875.20" x2="444.40" y2="875.20" stroke="#222" stroke-width="0.8"/>
<line x1="454.50" y1="859.52" x2="454.50" y2="852.21" stroke="#c0282d" stroke-width="1.0"/>
<line x1="452.30" y1="852.21" x2="456.70" y2="852.21" stroke="#c0282d" stroke-width="1.0"/>
<text x="453.50" y="897.30" font-size="10.5" text-anchor="end" font-style="italic" fill="#111" transform="rotate(-40 453.50 897.30)">Fgf21</text>
<line x1="480.40" y1="880.00" x2="480.40" y2="885.80" stroke="#555" stroke-width="1.0"/>
<rect x="470.40" y="877.08" width="8.20" height="2.92" fill="none" stroke="#222" stroke-width="1.1"/>
<circle cx="483.60" cy="878.90" r="1.05" fill="#c0282d" stroke="none" stroke-width="1"/>
<circle cx="486.30" cy="878.90" r="1.05" fill="#c0282d" stroke="none" stroke-width="1"/>
<circle cx="489.00" cy="878.90" r="1.05" fill="#c0282d" stroke="none" stroke-width="1"/>
<circle cx="472.20" cy="878.20" r="1.0" fill="#111" stroke="none" stroke-width="1"/>
<circle cx="474.40" cy="876.20" r="1.0" fill="#111" stroke="none" stroke-width="1"/>
<circle cx="476.60" cy="877.80" r="1.0" fill="#111" stroke="none" stroke-width="1"/>
<circle cx="478.00" cy="878.80" r="1.0" fill="#111" stroke="none" stroke-width="1"/>
<circle cx="474.50" cy="874.40" r="1.0" fill="#111" stroke="none" stroke-width="1"/>
<line x1="474.50" y1="877.08" x2="474.50" y2="875.20" stroke="#222" stroke-width="0.8"/>
<line x1="472.80" y1="875.20" x2="476.20" y2="875.20" stroke="#222" stroke-width="0.8"/>
<text x="485.30" y="897.30" font-size="10.5" text-anchor="end" font-style="italic" fill="#111" transform="rotate(-40 485.30 897.30)">Ppargc1a</text>
<line x1="512.20" y1="880.00" x2="512.20" y2="885.80" stroke="#555" stroke-width="1.0"/>
<rect x="502.20" y="877.08" width="8.20" height="2.92" fill="none" stroke="#222" stroke-width="1.1"/>
<circle cx="515.40" cy="878.90" r="1.05" fill="#c0282d" stroke="none" stroke-width="1"/>
<circle cx="518.10" cy="878.90" r="1.05" fill="#c0282d" stroke="none" stroke-width="1"/>
<circle cx="520.80" cy="878.90" r="1.05" fill="#c0282d" stroke="none" stroke-width="1"/>
<circle cx="504.00" cy="878.20" r="1.0" fill="#111" stroke="none" stroke-width="1"/>
<circle cx="506.20" cy="876.20" r="1.0" fill="#111" stroke="none" stroke-width="1"/>
<circle cx="508.40" cy="877.80" r="1.0" fill="#111" stroke="none" stroke-width="1"/>
<circle cx="509.80" cy="878.80" r="1.0" fill="#111" stroke="none" stroke-width="1"/>
<circle cx="506.30" cy="874.40" r="1.0" fill="#111" stroke="none" stroke-width="1"/>
<line x1="506.30" y1="877.08" x2="506.30" y2="875.20" stroke="#222" stroke-width="0.8"/>
<line x1="504.60" y1="875.20" x2="508.00" y2="875.20" stroke="#222" stroke-width="0.8"/>
<text x="517.10" y="897.30" font-size="10.5" text-anchor="end" font-style="italic" fill="#111" transform="rotate(-40 517.10 897.30)">Ppara</text>
<line x1="544.00" y1="880.00" x2="544.00" y2="885.80" stroke="#555" stroke-width="1.0"/>
<rect x="534.00" y="877.08" width="8.20" height="2.92" fill="none" stroke="#222" stroke-width="1.1"/>
<circle cx="547.20" cy="878.90" r="1.05" fill="#c0282d" stroke="none" stroke-width="1"/>
<circle cx="549.90" cy="878.90" r="1.05" fill="#c0282d" stroke="none" stroke-width="1"/>
<circle cx="552.60" cy="878.90" r="1.05" fill="#c0282d" stroke="none" stroke-width="1"/>
<circle cx="535.80" cy="878.20" r="1.0" fill="#111" stroke="none" stroke-width="1"/>
<circle cx="538.00" cy="876.20" r="1.0" fill="#111" stroke="none" stroke-width="1"/>
<circle cx="540.20" cy="877.80" r="1.0" fill="#111" stroke="none" stroke-width="1"/>
<circle cx="541.60" cy="878.80" r="1.0" fill="#111" stroke="none" stroke-width="1"/>
<circle cx="538.10" cy="874.40" r="1.0" fill="#111" stroke="none" stroke-width="1"/>
<line x1="538.10" y1="877.08" x2="538.10" y2="875.20" stroke="#222" stroke-width="0.8"/>
<line x1="536.40" y1="875.20" x2="539.80" y2="875.20" stroke="#222" stroke-width="0.8"/>
<text x="548.90" y="897.30" font-size="10.5" text-anchor="end" font-style="italic" fill="#111" transform="rotate(-40 548.90 897.30)">Pparg</text>
<line x1="575.80" y1="880.00" x2="575.80" y2="885.80" stroke="#555" stroke-width="1.0"/>
<rect x="565.80" y="877.08" width="8.20" height="2.92" fill="none" stroke="#222" stroke-width="1.1"/>
<rect x="577.70" y="835.54" width="8.00" height="44.46" fill="none" stroke="#c0282d" stroke-width="1.4"/>
<circle cx="567.60" cy="878.20" r="1.0" fill="#111" stroke="none" stroke-width="1"/>
<circle cx="569.80" cy="876.20" r="1.0" fill="#111" stroke="none" stroke-width="1"/>
<circle cx="572.00" cy="877.80" r="1.0" fill="#111" stroke="none" stroke-width="1"/>
<circle cx="573.40" cy="878.80" r="1.0" fill="#111" stroke="none" stroke-width="1"/>
<circle cx="569.90" cy="874.40" r="1.0" fill="#111" stroke="none" stroke-width="1"/>
<line x1="569.90" y1="877.08" x2="569.90" y2="875.20" stroke="#222" stroke-width="0.8"/>
<line x1="568.20" y1="875.20" x2="571.60" y2="875.20" stroke="#222" stroke-width="0.8"/>
<line x1="581.70" y1="835.54" x2="581.70" y2="813.60" stroke="#c0282d" stroke-width="1.0"/>
<line x1="579.50" y1="813.60" x2="583.90" y2="813.60" stroke="#c0282d" stroke-width="1.0"/>
<text x="580.70" y="897.30" font-size="10.5" text-anchor="end" font-style="italic" fill="#111" transform="rotate(-40 580.70 897.30)">Tbx1</text>
<line x1="607.60" y1="880.00" x2="607.60" y2="885.80" stroke="#555" stroke-width="1.0"/>
<rect x="597.60" y="877.08" width="8.20" height="2.92" fill="none" stroke="#222" stroke-width="1.1"/>
<rect x="609.50" y="820.62" width="8.00" height="59.38" fill="none" stroke="#c0282d" stroke-width="1.4"/>
<circle cx="599.40" cy="878.20" r="1.0" fill="#111" stroke="none" stroke-width="1"/>
<circle cx="601.60" cy="876.20" r="1.0" fill="#111" stroke="none" stroke-width="1"/>
<circle cx="603.80" cy="877.80" r="1.0" fill="#111" stroke="none" stroke-width="1"/>
<circle cx="605.20" cy="878.80" r="1.0" fill="#111" stroke="none" stroke-width="1"/>
<circle cx="601.70" cy="874.40" r="1.0" fill="#111" stroke="none" stroke-width="1"/>
<line x1="601.70" y1="877.08" x2="601.70" y2="875.20" stroke="#222" stroke-width="0.8"/>
<line x1="600.00" y1="875.20" x2="603.40" y2="875.20" stroke="#222" stroke-width="0.8"/>
<line x1="613.50" y1="820.62" x2="613.50" y2="812.73" stroke="#c0282d" stroke-width="1.0"/>
<line x1="611.30" y1="812.73" x2="615.70" y2="812.73" stroke="#c0282d" stroke-width="1.0"/>
<text x="612.50" y="897.30" font-size="10.5" text-anchor="end" font-style="italic" fill="#111" transform="rotate(-40 612.50 897.30)">Tmem26</text>
<line x1="639.40" y1="880.00" x2="639.40" y2="885.80" stroke="#555" stroke-width="1.0"/>
<rect x="629.40" y="877.08" width="8.20" height="2.92" fill="none" stroke="#222" stroke-width="1.1"/>
<rect x="641.30" y="824.42" width="8.00" height="55.57" fill="none" stroke="#c0282d" stroke-width="1.4"/>
<circle cx="631.20" cy="878.20" r="1.0" fill="#111" stroke="none" stroke-width="1"/>
<circle cx="633.40" cy="876.20" r="1.0" fill="#111" stroke="none" stroke-width="1"/>
<circle cx="635.60" cy="877.80" r="1.0" fill="#111" stroke="none" stroke-width="1"/>
<circle cx="637.00" cy="878.80" r="1.0" fill="#111" stroke="none" stroke-width="1"/>
<circle cx="633.50" cy="874.40" r="1.0" fill="#111" stroke="none" stroke-width="1"/>
<line x1="633.50" y1="877.08" x2="633.50" y2="875.20" stroke="#222" stroke-width="0.8"/>
<line x1="631.80" y1="875.20" x2="635.20" y2="875.20" stroke="#222" stroke-width="0.8"/>
<line x1="645.30" y1="824.42" x2="645.30" y2="807.75" stroke="#c0282d" stroke-width="1.0"/>
<line x1="643.10" y1="807.75" x2="647.50" y2="807.75" stroke="#c0282d" stroke-width="1.0"/>
<text x="644.30" y="897.30" font-size="10.5" text-anchor="end" font-style="italic" fill="#111" transform="rotate(-40 644.30 897.30)">Ucp1</text>
<line x1="671.20" y1="880.00" x2="671.20" y2="885.80" stroke="#555" stroke-width="1.0"/>
<rect x="661.20" y="877.08" width="8.20" height="2.92" fill="none" stroke="#222" stroke-width="1.1"/>
<circle cx="674.40" cy="878.90" r="1.05" fill="#c0282d" stroke="none" stroke-width="1"/>
<circle cx="677.10" cy="878.90" r="1.05" fill="#c0282d" stroke="none" stroke-width="1"/>
<circle cx="679.80" cy="878.90" r="1.05" fill="#c0282d" stroke="none" stroke-width="1"/>
<circle cx="663.00" cy="878.20" r="1.0" fill="#111" stroke="none" stroke-width="1"/>
<circle cx="665.20" cy="876.20" r="1.0" fill="#111" stroke="none" stroke-width="1"/>
<circle cx="667.40" cy="877.80" r="1.0" fill="#111" stroke="none" stroke-width="1"/>
<circle cx="668.80" cy="878.80" r="1.0" fill="#111" stroke="none" stroke-width="1"/>
<circle cx="665.30" cy="874.40" r="1.0" fill="#111" stroke="none" stroke-width="1"/>
<line x1="665.30" y1="877.08" x2="665.30" y2="875.20" stroke="#222" stroke-width="0.8"/>
<line x1="663.60" y1="875.20" x2="667.00" y2="875.20" stroke="#222" stroke-width="0.8"/>
<text x="676.10" y="897.30" font-size="10.5" text-anchor="end" font-style="italic" fill="#111" transform="rotate(-40 676.10 897.30)">Vegfa</text>
<circle cx="327.30" cy="839.34" r="1.15" fill="#c0282d" stroke="none" stroke-width="1"/>
<circle cx="327.30" cy="850.16" r="1.15" fill="#c0282d" stroke="none" stroke-width="1"/>
<circle cx="327.30" cy="865.38" r="1.15" fill="#c0282d" stroke="none" stroke-width="1"/>
<circle cx="359.10" cy="798.68" r="1.15" fill="#c0282d" stroke="none" stroke-width="1"/>
<circle cx="359.10" cy="801.02" r="1.15" fill="#c0282d" stroke="none" stroke-width="1"/>
<circle cx="359.10" cy="827.35" r="1.15" fill="#c0282d" stroke="none" stroke-width="1"/>
<circle cx="359.10" cy="853.67" r="1.15" fill="#c0282d" stroke="none" stroke-width="1"/>
<circle cx="359.10" cy="861.57" r="1.15" fill="#c0282d" stroke="none" stroke-width="1"/>
<circle cx="390.90" cy="812.73" r="1.15" fill="#c0282d" stroke="none" stroke-width="1"/>
<circle cx="390.90" cy="833.20" r="1.15" fill="#c0282d" stroke="none" stroke-width="1"/>
<circle cx="390.90" cy="850.75" r="1.15" fill="#c0282d" stroke="none" stroke-width="1"/>
<circle cx="390.90" cy="856.60" r="1.15" fill="#c0282d" stroke="none" stroke-width="1"/>
<circle cx="454.50" cy="841.98" r="1.15" fill="#c0282d" stroke="none" stroke-width="1"/>
<circle cx="454.50" cy="846.36" r="1.15" fill="#c0282d" stroke="none" stroke-width="1"/>
<circle cx="454.50" cy="862.45" r="1.15" fill="#c0282d" stroke="none" stroke-width="1"/>
<circle cx="454.50" cy="868.30" r="1.15" fill="#c0282d" stroke="none" stroke-width="1"/>
<circle cx="581.70" cy="790.20" r="1.15" fill="#c0282d" stroke="none" stroke-width="1"/>
<circle cx="581.70" cy="803.37" r="1.15" fill="#c0282d" stroke="none" stroke-width="1"/>
<circle cx="581.70" cy="866.84" r="1.15" fill="#c0282d" stroke="none" stroke-width="1"/>
<circle cx="581.70" cy="877.08" r="1.15" fill="#c0282d" stroke="none" stroke-width="1"/>
<circle cx="613.50" cy="798.10" r="1.15" fill="#c0282d" stroke="none" stroke-width="1"/>
<circle cx="613.50" cy="802.49" r="1.15" fill="#c0282d" stroke="none" stroke-width="1"/>
<circle cx="613.50" cy="815.65" r="1.15" fill="#c0282d" stroke="none" stroke-width="1"/>
<circle cx="613.50" cy="830.27" r="1.15" fill="#c0282d" stroke="none" stroke-width="1"/>
<circle cx="613.50" cy="837.59" r="1.15" fill="#c0282d" stroke="none" stroke-width="1"/>
<circle cx="613.50" cy="847.83" r="1.15" fill="#c0282d" stroke="none" stroke-width="1"/>
<circle cx="645.30" cy="766.22" r="1.15" fill="#c0282d" stroke="none" stroke-width="1"/>
<circle cx="645.30" cy="815.65" r="1.15" fill="#c0282d" stroke="none" stroke-width="1"/>
<circle cx="645.30" cy="836.12" r="1.15" fill="#c0282d" stroke="none" stroke-width="1"/>
<circle cx="645.30" cy="846.36" r="1.15" fill="#c0282d" stroke="none" stroke-width="1"/>
<circle cx="645.30" cy="859.52" r="1.15" fill="#c0282d" stroke="none" stroke-width="1"/>
<polyline points="283.00,874.60 283.00,862.90 293.00,862.90 293.00,871.30" fill="none" stroke="#333" stroke-width="1.0"/>
<polyline points="316.60,873.00 316.60,805.10 326.60,805.10 326.60,811.80" fill="none" stroke="#333" stroke-width="1.0"/>
<polyline points="346.80,873.00 346.80,754.40 359.20,754.40 359.20,765.50" fill="none" stroke="#333" stroke-width="1.0"/>
<polyline points="379.40,873.00 379.40,767.20 391.10,767.20 391.10,789.00" fill="none" stroke="#333" stroke-width="1.0"/>
<polyline points="443.20,874.60 443.20,820.90 453.20,820.90 453.20,826.90" fill="none" stroke="#333" stroke-width="1.0"/>
<polyline points="475.10,869.60 475.10,864.50 484.50,864.50 484.50,873.00" fill="none" stroke="#333" stroke-width="1.0"/>
<polyline points="537.30,869.60 537.30,864.50 547.30,864.50 547.30,873.00" fill="none" stroke="#333" stroke-width="1.0"/>
<polyline points="600.40,873.00 600.40,743.00 613.50,743.00 613.50,755.40" fill="none" stroke="#333" stroke-width="1.0"/>
<polyline points="633.00,864.50 633.00,744.70 643.70,744.70 643.70,748.70" fill="none" stroke="#333" stroke-width="1.0"/>
<text x="288.00" y="864.28" font-size="19" text-anchor="middle" fill="#111">*</text>
<text x="321.60" y="807.18" font-size="19" text-anchor="middle" fill="#111">*</text>
<text x="352.60" y="755.28" font-size="19" text-anchor="middle" fill="#111">**</text>
<text x="385.00" y="768.58" font-size="19" text-anchor="middle" fill="#111">**</text>
<text x="448.20" y="822.28" font-size="19" text-anchor="middle" fill="#111">*</text>
<text x="480.20" y="865.88" font-size="19" text-anchor="middle" fill="#111">*</text>
<text x="542.30" y="865.88" font-size="19" text-anchor="middle" fill="#111">**</text>
<text x="606.80" y="744.38" font-size="19" text-anchor="middle" fill="#111">**</text>
<text x="638.00" y="745.78" font-size="19" text-anchor="middle" fill="#111">**</text>
<rect x="281.60" y="725.40" width="15.40" height="7.30" fill="none" stroke="#333" stroke-width="1.3"/>
<text x="307.00" y="733.40" font-size="11.3" text-anchor="start" fill="#111">DPBS</text>
<rect x="348.40" y="725.40" width="16.40" height="7.30" fill="none" stroke="#c0282d" stroke-width="1.3"/>
<text x="373.60" y="733.40" font-size="11.4" text-anchor="start" fill="#111">Malonic acid</text>
<text x="250.50" y="808.50" font-size="10.6" text-anchor="middle" fill="#111" transform="rotate(-90 250.50 808.50)">Gene expession (Fold change)</text>
</svg></body></html>
